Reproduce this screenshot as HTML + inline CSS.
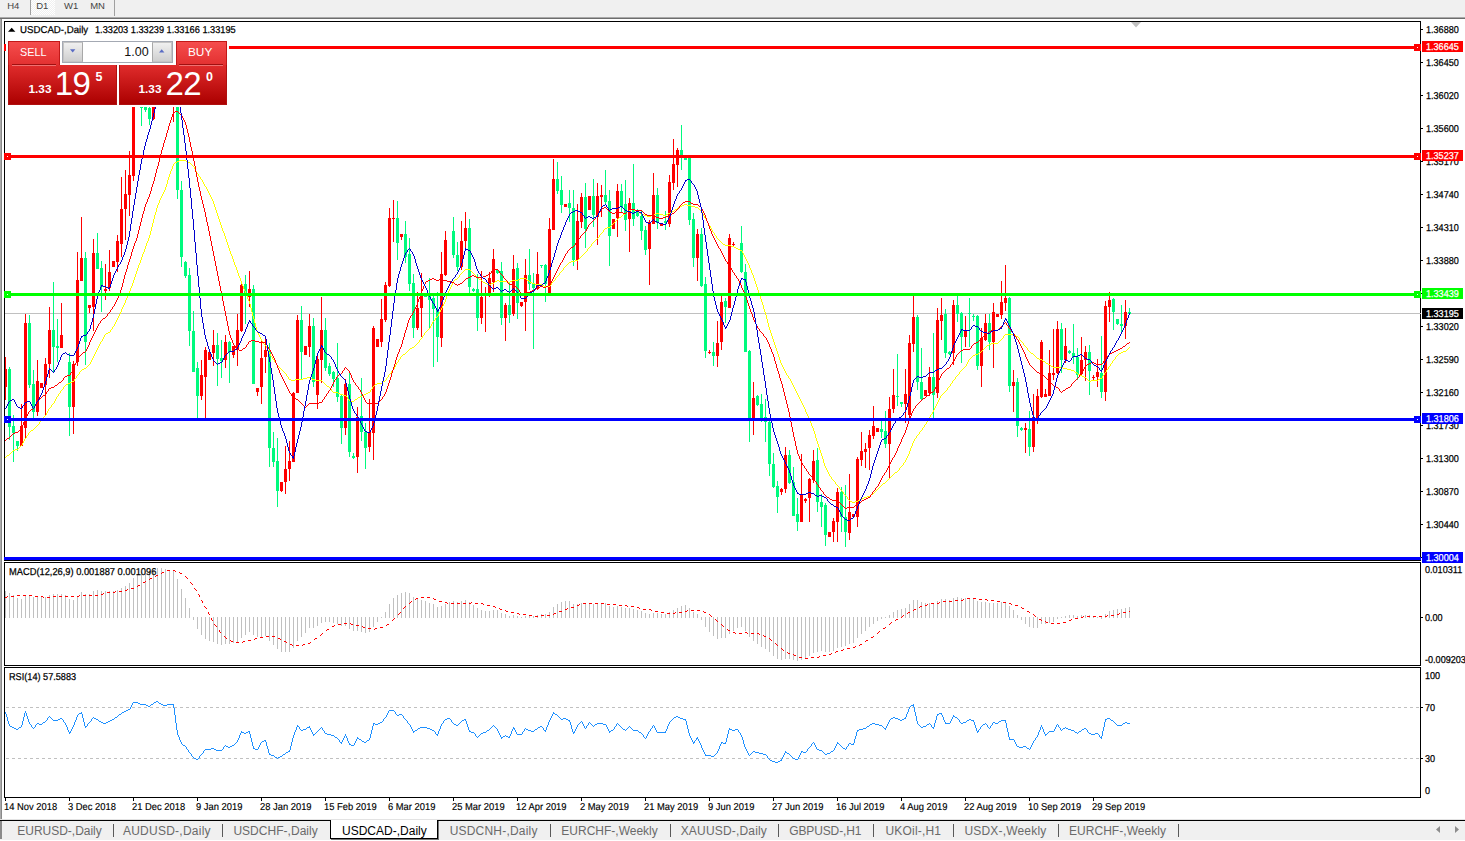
<!DOCTYPE html>
<html><head><meta charset="utf-8"><title>USDCAD-,Daily</title>
<style>
html,body{margin:0;padding:0;}
body{width:1465px;height:841px;overflow:hidden;background:#fff;position:relative;font-family:"Liberation Sans",sans-serif;color:#000;}
.a{position:absolute;}
.t{position:absolute;white-space:pre;line-height:1;}
.ax{position:absolute;white-space:pre;line-height:1;font-size:9.15px;left:1426.2px;-webkit-text-stroke:0.2px #000;}
.dt{position:absolute;white-space:pre;line-height:1;font-size:9.3px;top:802.6px;-webkit-text-stroke:0.2px #000;}
.tab{position:absolute;white-space:pre;line-height:1;font-size:12px;top:824.6px;color:#6a6a6a;}
.sep{position:absolute;top:824px;width:1px;height:13px;background:#5a5a5a;}
.pl{position:absolute;white-space:pre;line-height:1;font-size:9.15px;color:#fff;left:1426.2px;-webkit-text-stroke:0.2px #fff;}
</style></head><body>
<div class="a" style="left:0;top:0;width:1465px;height:17px;background:#f0f0f0"></div><div class="a" style="left:0;top:17px;width:1465px;height:1px;background:#a9a9a9"></div><div class="a" style="left:0;top:18px;width:1465px;height:1px;background:#6d6d6d"></div><div class="a" style="left:30px;top:0;width:1px;height:15px;background:#a0a0a0"></div><div class="a" style="left:31px;top:0;width:24px;height:15px;background:repeating-conic-gradient(#ffffff 0 25%,#f0f0f0 0 50%) 0 0/2px 2px"></div><div class="a" style="left:114px;top:0;width:1px;height:16px;background:#a0a0a0"></div><div class="t" style="left:7.2px;top:1px;font-size:9.5px;color:#444">H4</div><div class="t" style="left:36.2px;top:1px;font-size:9.5px;color:#444">D1</div><div class="t" style="left:64px;top:1px;font-size:9.5px;color:#444">W1</div><div class="t" style="left:90.2px;top:1px;font-size:9.5px;color:#444">MN</div><div class="a" style="left:0;top:19px;width:1px;height:800px;background:#ababab"></div><div class="a" style="left:1px;top:19px;width:1px;height:800px;background:#8a8a8a"></div><div class="a" style="left:0;top:819px;width:1465px;height:1px;background:#e3e3e3"></div><div class="a" style="left:0;top:820px;width:1465px;height:1px;background:#000"></div><div class="a" style="left:0;top:821px;width:1465px;height:19px;background:#f0f0f0"></div><div class="a" style="left:0;top:821px;width:2px;height:18px;background:#8a8a8a"></div><div class="a" style="left:330px;top:820px;width:106px;height:18px;background:#fff;border:1px solid #000;border-top:none;box-shadow:1px 1px 0 #777"></div><div class="tab" style="left:17.3px;letter-spacing:-0.02px">EURUSD-,Daily</div><div class="tab" style="left:122.9px;letter-spacing:0.255px">AUDUSD-,Daily</div><div class="tab" style="left:233.4px;letter-spacing:0.03px">USDCHF-,Daily</div><div class="tab" style="left:342px;letter-spacing:0.01px;color:#000">USDCAD-,Daily</div><div class="tab" style="left:449.7px;letter-spacing:0.2px">USDCNH-,Daily</div><div class="tab" style="left:561.3px;letter-spacing:0px">EURCHF-,Weekly</div><div class="tab" style="left:680.7px;letter-spacing:0.18px">XAUUSD-,Daily</div><div class="tab" style="left:789.2px;letter-spacing:-0.12px">GBPUSD-,H1</div><div class="tab" style="left:885.5px;letter-spacing:0.19px">UKOil-,H1</div><div class="tab" style="left:964.5px;letter-spacing:0.175px">USDX-,Weekly</div><div class="tab" style="left:1069px;letter-spacing:0.04px">EURCHF-,Weekly</div><div class="sep" style="left:113px"></div><div class="sep" style="left:222px"></div><div class="sep" style="left:550px"></div><div class="sep" style="left:670px"></div><div class="sep" style="left:778px"></div><div class="sep" style="left:873px"></div><div class="sep" style="left:953px"></div><div class="sep" style="left:1058px"></div><div class="sep" style="left:1178px"></div>
<svg class="a" style="left:0;top:0" width="1465" height="841" viewBox="0 0 1465 841" shape-rendering="crispEdges"><polygon points="1436,829.5 1440,826 1440,833" fill="#8c8c8c" shape-rendering="auto"/><polygon points="1459,829.5 1455,826 1455,833" fill="#8c8c8c" shape-rendering="auto"/><rect x="5" y="313" width="1415" height="1" fill="#c0c0c0"/><clipPath id="cm"><rect x="5" y="22" width="1415" height="538"/></clipPath><g clip-path="url(#cm)"><rect x="5" y="357" width="1" height="43" fill="#ff0000"/><rect x="4" y="369" width="3" height="18" fill="#ff0000"/><rect x="9" y="367" width="1" height="73" fill="#00fa7e"/><rect x="8" y="369" width="3" height="58" fill="#00fa7e"/><rect x="13" y="415" width="1" height="47" fill="#00fa7e"/><rect x="12" y="426" width="3" height="7" fill="#00fa7e"/><rect x="17" y="441" width="1" height="10" fill="#00fa7e"/><rect x="16" y="441" width="3" height="5" fill="#00fa7e"/><rect x="21" y="404" width="1" height="42" fill="#ff0000"/><rect x="20" y="426" width="3" height="20" fill="#ff0000"/><rect x="25" y="314" width="1" height="125" fill="#ff0000"/><rect x="24" y="323" width="3" height="105" fill="#ff0000"/><rect x="29" y="315" width="1" height="73" fill="#00fa7e"/><rect x="28" y="323" width="3" height="62" fill="#00fa7e"/><rect x="33" y="370" width="1" height="48" fill="#00fa7e"/><rect x="32" y="384" width="3" height="28" fill="#00fa7e"/><rect x="37" y="360" width="1" height="56" fill="#ff0000"/><rect x="36" y="381" width="3" height="31" fill="#ff0000"/><rect x="41" y="383" width="1" height="5" fill="#ff0000"/><rect x="40" y="383" width="3" height="5" fill="#ff0000"/><rect x="45" y="358" width="1" height="58" fill="#ff0000"/><rect x="44" y="364" width="3" height="21" fill="#ff0000"/><rect x="49" y="307" width="1" height="71" fill="#ff0000"/><rect x="48" y="330" width="3" height="34" fill="#ff0000"/><rect x="53" y="282" width="1" height="91" fill="#00fa7e"/><rect x="52" y="330" width="3" height="17" fill="#00fa7e"/><rect x="57" y="319" width="1" height="43" fill="#00fa7e"/><rect x="56" y="346" width="3" height="2" fill="#00fa7e"/><rect x="61" y="303" width="1" height="45" fill="#ff0000"/><rect x="60" y="335" width="3" height="13" fill="#ff0000"/><rect x="69" y="353" width="1" height="83" fill="#00fa7e"/><rect x="68" y="362" width="3" height="45" fill="#00fa7e"/><rect x="73" y="361" width="1" height="73" fill="#ff0000"/><rect x="72" y="364" width="3" height="43" fill="#ff0000"/><rect x="77" y="252" width="1" height="114" fill="#ff0000"/><rect x="76" y="280" width="3" height="82" fill="#ff0000"/><rect x="81" y="217" width="1" height="64" fill="#ff0000"/><rect x="80" y="258" width="3" height="23" fill="#ff0000"/><rect x="85" y="252" width="1" height="113" fill="#00fa7e"/><rect x="84" y="258" width="3" height="84" fill="#00fa7e"/><rect x="89" y="305" width="1" height="8" fill="#ff0000"/><rect x="88" y="305" width="3" height="3" fill="#ff0000"/><rect x="93" y="239" width="1" height="92" fill="#ff0000"/><rect x="92" y="253" width="3" height="54" fill="#ff0000"/><rect x="97" y="233" width="1" height="36" fill="#00fa7e"/><rect x="96" y="253" width="3" height="16" fill="#00fa7e"/><rect x="101" y="261" width="1" height="51" fill="#00fa7e"/><rect x="100" y="268" width="3" height="19" fill="#00fa7e"/><rect x="105" y="264" width="1" height="36" fill="#ff0000"/><rect x="104" y="289" width="3" height="2" fill="#ff0000"/><rect x="109" y="250" width="1" height="41" fill="#ff0000"/><rect x="108" y="272" width="3" height="16" fill="#ff0000"/><rect x="113" y="261" width="1" height="6" fill="#ff0000"/><rect x="112" y="261" width="3" height="6" fill="#ff0000"/><rect x="117" y="235" width="1" height="37" fill="#ff0000"/><rect x="116" y="241" width="3" height="21" fill="#ff0000"/><rect x="121" y="177" width="1" height="80" fill="#ff0000"/><rect x="120" y="209" width="3" height="35" fill="#ff0000"/><rect x="125" y="170" width="1" height="70" fill="#ff0000"/><rect x="124" y="194" width="3" height="15" fill="#ff0000"/><rect x="129" y="151" width="1" height="65" fill="#ff0000"/><rect x="128" y="175" width="3" height="20" fill="#ff0000"/><rect x="133" y="90" width="1" height="91" fill="#ff0000"/><rect x="132" y="100" width="3" height="76" fill="#ff0000"/><rect x="137" y="99" width="1" height="5" fill="#00fa7e"/><rect x="136" y="100" width="3" height="3" fill="#00fa7e"/><rect x="141" y="85" width="1" height="41" fill="#00fa7e"/><rect x="140" y="101" width="3" height="7" fill="#00fa7e"/><rect x="145" y="100" width="1" height="12" fill="#00fa7e"/><rect x="144" y="106" width="3" height="4" fill="#00fa7e"/><rect x="149" y="95" width="1" height="30" fill="#00fa7e"/><rect x="148" y="108" width="3" height="11" fill="#00fa7e"/><rect x="153" y="79" width="1" height="41" fill="#ff0000"/><rect x="152" y="86" width="3" height="33" fill="#ff0000"/><rect x="157" y="59" width="1" height="30" fill="#ff0000"/><rect x="156" y="66" width="3" height="20" fill="#ff0000"/><rect x="161" y="64" width="1" height="13" fill="#00fa7e"/><rect x="160" y="67" width="3" height="9" fill="#00fa7e"/><rect x="165" y="64" width="1" height="20" fill="#00fa7e"/><rect x="164" y="76" width="3" height="4" fill="#00fa7e"/><rect x="169" y="59" width="1" height="23" fill="#ff0000"/><rect x="168" y="72" width="3" height="8" fill="#ff0000"/><rect x="173" y="62" width="1" height="60" fill="#ff0000"/><rect x="172" y="71" width="3" height="2" fill="#ff0000"/><rect x="177" y="66" width="1" height="133" fill="#00fa7e"/><rect x="176" y="72" width="3" height="118" fill="#00fa7e"/><rect x="181" y="181" width="1" height="86" fill="#00fa7e"/><rect x="180" y="190" width="3" height="67" fill="#00fa7e"/><rect x="185" y="261" width="1" height="17" fill="#00fa7e"/><rect x="184" y="262" width="3" height="14" fill="#00fa7e"/><rect x="189" y="268" width="1" height="78" fill="#00fa7e"/><rect x="188" y="275" width="3" height="56" fill="#00fa7e"/><rect x="193" y="311" width="1" height="61" fill="#00fa7e"/><rect x="192" y="331" width="3" height="41" fill="#00fa7e"/><rect x="197" y="362" width="1" height="56" fill="#00fa7e"/><rect x="196" y="368" width="3" height="28" fill="#00fa7e"/><rect x="201" y="360" width="1" height="40" fill="#ff0000"/><rect x="200" y="375" width="3" height="21" fill="#ff0000"/><rect x="205" y="347" width="1" height="71" fill="#ff0000"/><rect x="204" y="350" width="3" height="27" fill="#ff0000"/><rect x="209" y="352" width="1" height="8" fill="#ff0000"/><rect x="208" y="352" width="3" height="8" fill="#ff0000"/><rect x="213" y="330" width="1" height="36" fill="#ff0000"/><rect x="212" y="345" width="3" height="8" fill="#ff0000"/><rect x="217" y="333" width="1" height="53" fill="#00fa7e"/><rect x="216" y="345" width="3" height="14" fill="#00fa7e"/><rect x="221" y="340" width="1" height="38" fill="#00fa7e"/><rect x="220" y="358" width="3" height="3" fill="#00fa7e"/><rect x="225" y="335" width="1" height="33" fill="#ff0000"/><rect x="224" y="342" width="3" height="18" fill="#ff0000"/><rect x="229" y="341" width="1" height="42" fill="#00fa7e"/><rect x="228" y="342" width="3" height="10" fill="#00fa7e"/><rect x="233" y="346" width="1" height="12" fill="#ff0000"/><rect x="232" y="346" width="3" height="9" fill="#ff0000"/><rect x="237" y="314" width="1" height="52" fill="#ff0000"/><rect x="236" y="330" width="3" height="19" fill="#ff0000"/><rect x="241" y="284" width="1" height="48" fill="#ff0000"/><rect x="240" y="285" width="3" height="46" fill="#ff0000"/><rect x="245" y="275" width="1" height="49" fill="#00fa7e"/><rect x="244" y="284" width="3" height="12" fill="#00fa7e"/><rect x="249" y="271" width="1" height="36" fill="#ff0000"/><rect x="248" y="289" width="3" height="8" fill="#ff0000"/><rect x="253" y="285" width="1" height="99" fill="#00fa7e"/><rect x="252" y="289" width="3" height="95" fill="#00fa7e"/><rect x="257" y="388" width="1" height="8" fill="#ff0000"/><rect x="256" y="388" width="3" height="4" fill="#ff0000"/><rect x="261" y="341" width="1" height="63" fill="#ff0000"/><rect x="260" y="358" width="3" height="29" fill="#ff0000"/><rect x="265" y="338" width="1" height="35" fill="#ff0000"/><rect x="264" y="350" width="3" height="7" fill="#ff0000"/><rect x="269" y="343" width="1" height="124" fill="#00fa7e"/><rect x="268" y="350" width="3" height="98" fill="#00fa7e"/><rect x="273" y="432" width="1" height="35" fill="#00fa7e"/><rect x="272" y="448" width="3" height="14" fill="#00fa7e"/><rect x="277" y="438" width="1" height="69" fill="#00fa7e"/><rect x="276" y="461" width="3" height="30" fill="#00fa7e"/><rect x="281" y="482" width="1" height="10" fill="#ff0000"/><rect x="280" y="482" width="3" height="9" fill="#ff0000"/><rect x="285" y="446" width="1" height="48" fill="#ff0000"/><rect x="284" y="469" width="3" height="13" fill="#ff0000"/><rect x="289" y="441" width="1" height="40" fill="#ff0000"/><rect x="288" y="461" width="3" height="8" fill="#ff0000"/><rect x="293" y="392" width="1" height="70" fill="#ff0000"/><rect x="292" y="393" width="3" height="69" fill="#ff0000"/><rect x="297" y="315" width="1" height="78" fill="#ff0000"/><rect x="296" y="320" width="3" height="73" fill="#ff0000"/><rect x="301" y="306" width="1" height="74" fill="#00fa7e"/><rect x="300" y="320" width="3" height="32" fill="#00fa7e"/><rect x="305" y="346" width="1" height="9" fill="#ff0000"/><rect x="304" y="346" width="3" height="9" fill="#ff0000"/><rect x="309" y="314" width="1" height="43" fill="#ff0000"/><rect x="308" y="326" width="3" height="21" fill="#ff0000"/><rect x="313" y="318" width="1" height="69" fill="#00fa7e"/><rect x="312" y="326" width="3" height="56" fill="#00fa7e"/><rect x="317" y="356" width="1" height="53" fill="#ff0000"/><rect x="316" y="359" width="3" height="36" fill="#ff0000"/><rect x="321" y="297" width="1" height="86" fill="#ff0000"/><rect x="320" y="330" width="3" height="30" fill="#ff0000"/><rect x="325" y="318" width="1" height="53" fill="#00fa7e"/><rect x="324" y="330" width="3" height="38" fill="#00fa7e"/><rect x="329" y="363" width="1" height="13" fill="#00fa7e"/><rect x="328" y="366" width="3" height="8" fill="#00fa7e"/><rect x="333" y="371" width="1" height="16" fill="#00fa7e"/><rect x="332" y="372" width="3" height="7" fill="#00fa7e"/><rect x="337" y="343" width="1" height="59" fill="#00fa7e"/><rect x="336" y="378" width="3" height="19" fill="#00fa7e"/><rect x="341" y="394" width="1" height="50" fill="#00fa7e"/><rect x="340" y="396" width="3" height="32" fill="#00fa7e"/><rect x="345" y="379" width="1" height="56" fill="#ff0000"/><rect x="344" y="384" width="3" height="44" fill="#ff0000"/><rect x="349" y="373" width="1" height="84" fill="#00fa7e"/><rect x="348" y="384" width="3" height="68" fill="#00fa7e"/><rect x="353" y="453" width="1" height="6" fill="#00fa7e"/><rect x="352" y="456" width="3" height="2" fill="#00fa7e"/><rect x="357" y="407" width="1" height="66" fill="#ff0000"/><rect x="356" y="417" width="3" height="40" fill="#ff0000"/><rect x="361" y="378" width="1" height="63" fill="#00fa7e"/><rect x="360" y="416" width="3" height="16" fill="#00fa7e"/><rect x="365" y="423" width="1" height="46" fill="#00fa7e"/><rect x="364" y="432" width="3" height="16" fill="#00fa7e"/><rect x="369" y="399" width="1" height="53" fill="#ff0000"/><rect x="368" y="432" width="3" height="15" fill="#ff0000"/><rect x="373" y="326" width="1" height="134" fill="#ff0000"/><rect x="372" y="328" width="3" height="105" fill="#ff0000"/><rect x="377" y="339" width="1" height="8" fill="#ff0000"/><rect x="376" y="339" width="3" height="8" fill="#ff0000"/><rect x="381" y="299" width="1" height="48" fill="#ff0000"/><rect x="380" y="319" width="3" height="23" fill="#ff0000"/><rect x="385" y="282" width="1" height="40" fill="#ff0000"/><rect x="384" y="285" width="3" height="35" fill="#ff0000"/><rect x="389" y="208" width="1" height="79" fill="#ff0000"/><rect x="388" y="218" width="3" height="68" fill="#ff0000"/><rect x="393" y="200" width="1" height="42" fill="#ff0000"/><rect x="392" y="218" width="3" height="1" fill="#ff0000"/><rect x="397" y="201" width="1" height="59" fill="#00fa7e"/><rect x="396" y="218" width="3" height="25" fill="#00fa7e"/><rect x="401" y="234" width="1" height="6" fill="#ff0000"/><rect x="400" y="234" width="3" height="3" fill="#ff0000"/><rect x="405" y="221" width="1" height="42" fill="#00fa7e"/><rect x="404" y="234" width="3" height="23" fill="#00fa7e"/><rect x="409" y="238" width="1" height="53" fill="#00fa7e"/><rect x="408" y="254" width="3" height="30" fill="#00fa7e"/><rect x="413" y="274" width="1" height="64" fill="#00fa7e"/><rect x="412" y="283" width="3" height="45" fill="#00fa7e"/><rect x="417" y="292" width="1" height="38" fill="#ff0000"/><rect x="416" y="308" width="3" height="20" fill="#ff0000"/><rect x="421" y="273" width="1" height="64" fill="#ff0000"/><rect x="420" y="296" width="3" height="12" fill="#ff0000"/><rect x="425" y="295" width="1" height="2" fill="#00fa7e"/><rect x="424" y="295" width="3" height="2" fill="#00fa7e"/><rect x="429" y="278" width="1" height="50" fill="#00fa7e"/><rect x="428" y="295" width="3" height="5" fill="#00fa7e"/><rect x="433" y="296" width="1" height="71" fill="#00fa7e"/><rect x="432" y="298" width="3" height="11" fill="#00fa7e"/><rect x="437" y="292" width="1" height="70" fill="#00fa7e"/><rect x="436" y="309" width="3" height="28" fill="#00fa7e"/><rect x="441" y="252" width="1" height="95" fill="#ff0000"/><rect x="440" y="274" width="3" height="64" fill="#ff0000"/><rect x="445" y="231" width="1" height="45" fill="#ff0000"/><rect x="444" y="240" width="3" height="35" fill="#ff0000"/><rect x="453" y="217" width="1" height="41" fill="#00fa7e"/><rect x="452" y="231" width="3" height="24" fill="#00fa7e"/><rect x="457" y="242" width="1" height="29" fill="#00fa7e"/><rect x="456" y="255" width="3" height="12" fill="#00fa7e"/><rect x="461" y="221" width="1" height="49" fill="#ff0000"/><rect x="460" y="241" width="3" height="26" fill="#ff0000"/><rect x="465" y="212" width="1" height="36" fill="#ff0000"/><rect x="464" y="228" width="3" height="13" fill="#ff0000"/><rect x="469" y="219" width="1" height="77" fill="#00fa7e"/><rect x="468" y="228" width="3" height="59" fill="#00fa7e"/><rect x="473" y="288" width="1" height="4" fill="#00fa7e"/><rect x="472" y="289" width="3" height="2" fill="#00fa7e"/><rect x="477" y="274" width="1" height="57" fill="#00fa7e"/><rect x="476" y="289" width="3" height="29" fill="#00fa7e"/><rect x="481" y="271" width="1" height="53" fill="#ff0000"/><rect x="480" y="297" width="3" height="21" fill="#ff0000"/><rect x="485" y="287" width="1" height="45" fill="#ff0000"/><rect x="484" y="293" width="3" height="3" fill="#ff0000"/><rect x="489" y="272" width="1" height="25" fill="#ff0000"/><rect x="488" y="278" width="3" height="15" fill="#ff0000"/><rect x="493" y="249" width="1" height="43" fill="#ff0000"/><rect x="492" y="259" width="3" height="23" fill="#ff0000"/><rect x="497" y="269" width="1" height="5" fill="#00fa7e"/><rect x="496" y="270" width="3" height="3" fill="#00fa7e"/><rect x="501" y="262" width="1" height="63" fill="#00fa7e"/><rect x="500" y="271" width="3" height="47" fill="#00fa7e"/><rect x="505" y="303" width="1" height="38" fill="#ff0000"/><rect x="504" y="305" width="3" height="13" fill="#ff0000"/><rect x="509" y="282" width="1" height="41" fill="#00fa7e"/><rect x="508" y="305" width="3" height="10" fill="#00fa7e"/><rect x="513" y="255" width="1" height="61" fill="#ff0000"/><rect x="512" y="269" width="3" height="45" fill="#ff0000"/><rect x="517" y="263" width="1" height="56" fill="#00fa7e"/><rect x="516" y="268" width="3" height="35" fill="#00fa7e"/><rect x="521" y="302" width="1" height="5" fill="#ff0000"/><rect x="520" y="302" width="3" height="4" fill="#ff0000"/><rect x="525" y="259" width="1" height="72" fill="#ff0000"/><rect x="524" y="275" width="3" height="27" fill="#ff0000"/><rect x="529" y="249" width="1" height="41" fill="#00fa7e"/><rect x="528" y="275" width="3" height="9" fill="#00fa7e"/><rect x="533" y="273" width="1" height="76" fill="#00fa7e"/><rect x="532" y="284" width="3" height="4" fill="#00fa7e"/><rect x="537" y="252" width="1" height="38" fill="#ff0000"/><rect x="536" y="274" width="3" height="15" fill="#ff0000"/><rect x="541" y="265" width="1" height="3" fill="#00fa7e"/><rect x="540" y="265" width="3" height="1" fill="#00fa7e"/><rect x="545" y="264" width="1" height="38" fill="#00fa7e"/><rect x="544" y="265" width="3" height="19" fill="#00fa7e"/><rect x="549" y="218" width="1" height="76" fill="#ff0000"/><rect x="548" y="229" width="3" height="64" fill="#ff0000"/><rect x="553" y="159" width="1" height="71" fill="#ff0000"/><rect x="552" y="179" width="3" height="51" fill="#ff0000"/><rect x="557" y="162" width="1" height="32" fill="#00fa7e"/><rect x="556" y="179" width="3" height="12" fill="#00fa7e"/><rect x="561" y="176" width="1" height="37" fill="#00fa7e"/><rect x="560" y="190" width="3" height="15" fill="#00fa7e"/><rect x="565" y="204" width="1" height="3" fill="#ff0000"/><rect x="564" y="204" width="3" height="3" fill="#ff0000"/><rect x="569" y="190" width="1" height="32" fill="#00fa7e"/><rect x="568" y="203" width="3" height="5" fill="#00fa7e"/><rect x="573" y="190" width="1" height="76" fill="#00fa7e"/><rect x="572" y="208" width="3" height="52" fill="#00fa7e"/><rect x="577" y="204" width="1" height="66" fill="#ff0000"/><rect x="576" y="221" width="3" height="39" fill="#ff0000"/><rect x="581" y="193" width="1" height="35" fill="#ff0000"/><rect x="580" y="197" width="3" height="25" fill="#ff0000"/><rect x="585" y="183" width="1" height="65" fill="#00fa7e"/><rect x="584" y="197" width="3" height="32" fill="#00fa7e"/><rect x="589" y="196" width="1" height="14" fill="#ff0000"/><rect x="588" y="196" width="3" height="14" fill="#ff0000"/><rect x="593" y="179" width="1" height="48" fill="#00fa7e"/><rect x="592" y="196" width="3" height="19" fill="#00fa7e"/><rect x="597" y="183" width="1" height="62" fill="#ff0000"/><rect x="596" y="196" width="3" height="21" fill="#ff0000"/><rect x="601" y="185" width="1" height="32" fill="#ff0000"/><rect x="600" y="195" width="3" height="2" fill="#ff0000"/><rect x="605" y="170" width="1" height="35" fill="#00fa7e"/><rect x="604" y="195" width="3" height="7" fill="#00fa7e"/><rect x="609" y="190" width="1" height="76" fill="#00fa7e"/><rect x="608" y="201" width="3" height="35" fill="#00fa7e"/><rect x="613" y="219" width="1" height="10" fill="#ff0000"/><rect x="612" y="219" width="3" height="10" fill="#ff0000"/><rect x="617" y="184" width="1" height="53" fill="#ff0000"/><rect x="616" y="191" width="3" height="27" fill="#ff0000"/><rect x="621" y="184" width="1" height="29" fill="#00fa7e"/><rect x="620" y="191" width="3" height="16" fill="#00fa7e"/><rect x="625" y="180" width="1" height="51" fill="#00fa7e"/><rect x="624" y="204" width="3" height="16" fill="#00fa7e"/><rect x="629" y="198" width="1" height="54" fill="#ff0000"/><rect x="628" y="203" width="3" height="16" fill="#ff0000"/><rect x="633" y="164" width="1" height="62" fill="#00fa7e"/><rect x="632" y="203" width="3" height="16" fill="#00fa7e"/><rect x="637" y="209" width="1" height="8" fill="#00fa7e"/><rect x="636" y="210" width="3" height="6" fill="#00fa7e"/><rect x="641" y="210" width="1" height="30" fill="#00fa7e"/><rect x="640" y="216" width="3" height="15" fill="#00fa7e"/><rect x="645" y="226" width="1" height="29" fill="#00fa7e"/><rect x="644" y="230" width="3" height="20" fill="#00fa7e"/><rect x="649" y="220" width="1" height="65" fill="#ff0000"/><rect x="648" y="222" width="3" height="27" fill="#ff0000"/><rect x="653" y="173" width="1" height="51" fill="#ff0000"/><rect x="652" y="195" width="3" height="29" fill="#ff0000"/><rect x="657" y="188" width="1" height="41" fill="#00fa7e"/><rect x="656" y="195" width="3" height="28" fill="#00fa7e"/><rect x="661" y="223" width="1" height="3" fill="#ff0000"/><rect x="660" y="223" width="3" height="3" fill="#ff0000"/><rect x="665" y="211" width="1" height="19" fill="#00fa7e"/><rect x="664" y="221" width="3" height="2" fill="#00fa7e"/><rect x="669" y="175" width="1" height="52" fill="#ff0000"/><rect x="668" y="182" width="3" height="42" fill="#ff0000"/><rect x="673" y="139" width="1" height="51" fill="#ff0000"/><rect x="672" y="164" width="3" height="19" fill="#ff0000"/><rect x="677" y="148" width="1" height="39" fill="#ff0000"/><rect x="676" y="150" width="3" height="15" fill="#ff0000"/><rect x="681" y="125" width="1" height="45" fill="#00fa7e"/><rect x="680" y="150" width="3" height="6" fill="#00fa7e"/><rect x="685" y="158" width="1" height="2" fill="#00fa7e"/><rect x="684" y="158" width="3" height="2" fill="#00fa7e"/><rect x="689" y="155" width="1" height="70" fill="#00fa7e"/><rect x="688" y="158" width="3" height="62" fill="#00fa7e"/><rect x="693" y="213" width="1" height="54" fill="#00fa7e"/><rect x="692" y="219" width="3" height="39" fill="#00fa7e"/><rect x="697" y="229" width="1" height="52" fill="#ff0000"/><rect x="696" y="234" width="3" height="24" fill="#ff0000"/><rect x="701" y="228" width="1" height="59" fill="#00fa7e"/><rect x="700" y="234" width="3" height="52" fill="#00fa7e"/><rect x="705" y="277" width="1" height="81" fill="#00fa7e"/><rect x="704" y="284" width="3" height="67" fill="#00fa7e"/><rect x="709" y="350" width="1" height="4" fill="#ff0000"/><rect x="708" y="352" width="3" height="1" fill="#ff0000"/><rect x="713" y="342" width="1" height="24" fill="#00fa7e"/><rect x="712" y="352" width="3" height="4" fill="#00fa7e"/><rect x="717" y="321" width="1" height="46" fill="#ff0000"/><rect x="716" y="343" width="3" height="13" fill="#ff0000"/><rect x="721" y="296" width="1" height="54" fill="#ff0000"/><rect x="720" y="302" width="3" height="40" fill="#ff0000"/><rect x="725" y="298" width="1" height="25" fill="#00fa7e"/><rect x="724" y="301" width="3" height="6" fill="#00fa7e"/><rect x="729" y="234" width="1" height="74" fill="#ff0000"/><rect x="728" y="238" width="3" height="70" fill="#ff0000"/><rect x="733" y="242" width="1" height="5" fill="#ff0000"/><rect x="732" y="244" width="3" height="1" fill="#ff0000"/><rect x="741" y="226" width="1" height="47" fill="#00fa7e"/><rect x="740" y="243" width="3" height="29" fill="#00fa7e"/><rect x="745" y="264" width="1" height="88" fill="#00fa7e"/><rect x="744" y="272" width="3" height="80" fill="#00fa7e"/><rect x="749" y="350" width="1" height="92" fill="#00fa7e"/><rect x="748" y="351" width="3" height="67" fill="#00fa7e"/><rect x="753" y="382" width="1" height="53" fill="#ff0000"/><rect x="752" y="398" width="3" height="20" fill="#ff0000"/><rect x="757" y="395" width="1" height="11" fill="#00fa7e"/><rect x="756" y="396" width="3" height="9" fill="#00fa7e"/><rect x="761" y="394" width="1" height="28" fill="#00fa7e"/><rect x="760" y="404" width="3" height="14" fill="#00fa7e"/><rect x="765" y="399" width="1" height="43" fill="#00fa7e"/><rect x="764" y="417" width="3" height="5" fill="#00fa7e"/><rect x="769" y="419" width="1" height="57" fill="#00fa7e"/><rect x="768" y="422" width="3" height="42" fill="#00fa7e"/><rect x="773" y="453" width="1" height="35" fill="#00fa7e"/><rect x="772" y="464" width="3" height="23" fill="#00fa7e"/><rect x="777" y="481" width="1" height="32" fill="#00fa7e"/><rect x="776" y="486" width="3" height="11" fill="#00fa7e"/><rect x="781" y="488" width="1" height="7" fill="#ff0000"/><rect x="780" y="489" width="3" height="3" fill="#ff0000"/><rect x="785" y="447" width="1" height="46" fill="#ff0000"/><rect x="784" y="455" width="3" height="34" fill="#ff0000"/><rect x="789" y="450" width="1" height="34" fill="#00fa7e"/><rect x="788" y="455" width="3" height="28" fill="#00fa7e"/><rect x="793" y="467" width="1" height="49" fill="#00fa7e"/><rect x="792" y="482" width="3" height="34" fill="#00fa7e"/><rect x="797" y="498" width="1" height="33" fill="#00fa7e"/><rect x="796" y="514" width="3" height="8" fill="#00fa7e"/><rect x="801" y="454" width="1" height="68" fill="#ff0000"/><rect x="800" y="494" width="3" height="28" fill="#ff0000"/><rect x="805" y="498" width="1" height="5" fill="#ff0000"/><rect x="804" y="499" width="3" height="2" fill="#ff0000"/><rect x="809" y="478" width="1" height="44" fill="#ff0000"/><rect x="808" y="479" width="3" height="19" fill="#ff0000"/><rect x="813" y="450" width="1" height="33" fill="#ff0000"/><rect x="812" y="461" width="3" height="19" fill="#ff0000"/><rect x="817" y="448" width="1" height="64" fill="#00fa7e"/><rect x="816" y="460" width="3" height="42" fill="#00fa7e"/><rect x="821" y="494" width="1" height="33" fill="#00fa7e"/><rect x="820" y="502" width="3" height="5" fill="#00fa7e"/><rect x="825" y="503" width="1" height="43" fill="#00fa7e"/><rect x="824" y="505" width="3" height="30" fill="#00fa7e"/><rect x="829" y="532" width="1" height="5" fill="#ff0000"/><rect x="828" y="532" width="3" height="5" fill="#ff0000"/><rect x="833" y="518" width="1" height="24" fill="#ff0000"/><rect x="832" y="521" width="3" height="11" fill="#ff0000"/><rect x="837" y="488" width="1" height="54" fill="#ff0000"/><rect x="836" y="492" width="3" height="30" fill="#ff0000"/><rect x="841" y="487" width="1" height="45" fill="#00fa7e"/><rect x="840" y="492" width="3" height="25" fill="#00fa7e"/><rect x="845" y="485" width="1" height="62" fill="#00fa7e"/><rect x="844" y="517" width="3" height="15" fill="#00fa7e"/><rect x="849" y="474" width="1" height="66" fill="#ff0000"/><rect x="848" y="512" width="3" height="21" fill="#ff0000"/><rect x="853" y="514" width="1" height="3" fill="#ff0000"/><rect x="852" y="514" width="3" height="3" fill="#ff0000"/><rect x="857" y="457" width="1" height="70" fill="#ff0000"/><rect x="856" y="459" width="3" height="58" fill="#ff0000"/><rect x="861" y="432" width="1" height="34" fill="#ff0000"/><rect x="860" y="451" width="3" height="9" fill="#ff0000"/><rect x="865" y="443" width="1" height="25" fill="#ff0000"/><rect x="864" y="449" width="3" height="3" fill="#ff0000"/><rect x="869" y="430" width="1" height="40" fill="#ff0000"/><rect x="868" y="435" width="3" height="13" fill="#ff0000"/><rect x="873" y="406" width="1" height="33" fill="#ff0000"/><rect x="872" y="426" width="3" height="10" fill="#ff0000"/><rect x="877" y="428" width="1" height="4" fill="#ff0000"/><rect x="876" y="428" width="3" height="4" fill="#ff0000"/><rect x="881" y="421" width="1" height="17" fill="#00fa7e"/><rect x="880" y="429" width="3" height="3" fill="#00fa7e"/><rect x="885" y="411" width="1" height="37" fill="#00fa7e"/><rect x="884" y="431" width="3" height="13" fill="#00fa7e"/><rect x="889" y="397" width="1" height="81" fill="#ff0000"/><rect x="888" y="409" width="3" height="35" fill="#ff0000"/><rect x="893" y="369" width="1" height="44" fill="#ff0000"/><rect x="892" y="395" width="3" height="14" fill="#ff0000"/><rect x="897" y="354" width="1" height="52" fill="#00fa7e"/><rect x="896" y="396" width="3" height="1" fill="#00fa7e"/><rect x="901" y="402" width="1" height="5" fill="#00fa7e"/><rect x="900" y="402" width="3" height="2" fill="#00fa7e"/><rect x="905" y="369" width="1" height="54" fill="#ff0000"/><rect x="904" y="394" width="3" height="10" fill="#ff0000"/><rect x="909" y="335" width="1" height="85" fill="#ff0000"/><rect x="908" y="343" width="3" height="72" fill="#ff0000"/><rect x="913" y="296" width="1" height="56" fill="#ff0000"/><rect x="912" y="317" width="3" height="27" fill="#ff0000"/><rect x="917" y="315" width="1" height="75" fill="#00fa7e"/><rect x="916" y="317" width="3" height="65" fill="#00fa7e"/><rect x="921" y="348" width="1" height="52" fill="#00fa7e"/><rect x="920" y="382" width="3" height="17" fill="#00fa7e"/><rect x="925" y="390" width="1" height="6" fill="#ff0000"/><rect x="924" y="390" width="3" height="6" fill="#ff0000"/><rect x="929" y="367" width="1" height="29" fill="#ff0000"/><rect x="928" y="377" width="3" height="16" fill="#ff0000"/><rect x="933" y="333" width="1" height="86" fill="#00fa7e"/><rect x="932" y="377" width="3" height="18" fill="#00fa7e"/><rect x="937" y="308" width="1" height="90" fill="#ff0000"/><rect x="936" y="320" width="3" height="73" fill="#ff0000"/><rect x="941" y="298" width="1" height="42" fill="#ff0000"/><rect x="940" y="315" width="3" height="6" fill="#ff0000"/><rect x="945" y="309" width="1" height="49" fill="#00fa7e"/><rect x="944" y="314" width="3" height="39" fill="#00fa7e"/><rect x="949" y="351" width="1" height="4" fill="#00fa7e"/><rect x="948" y="352" width="3" height="2" fill="#00fa7e"/><rect x="953" y="300" width="1" height="65" fill="#ff0000"/><rect x="952" y="305" width="3" height="48" fill="#ff0000"/><rect x="957" y="296" width="1" height="26" fill="#00fa7e"/><rect x="956" y="305" width="3" height="9" fill="#00fa7e"/><rect x="961" y="312" width="1" height="51" fill="#00fa7e"/><rect x="960" y="313" width="3" height="24" fill="#00fa7e"/><rect x="965" y="316" width="1" height="31" fill="#ff0000"/><rect x="964" y="331" width="3" height="6" fill="#ff0000"/><rect x="969" y="298" width="1" height="49" fill="#00fa7e"/><rect x="968" y="313" width="3" height="1" fill="#00fa7e"/><rect x="973" y="314" width="1" height="7" fill="#00fa7e"/><rect x="972" y="316" width="3" height="1" fill="#00fa7e"/><rect x="977" y="315" width="1" height="55" fill="#00fa7e"/><rect x="976" y="316" width="3" height="50" fill="#00fa7e"/><rect x="981" y="328" width="1" height="59" fill="#ff0000"/><rect x="980" y="338" width="3" height="28" fill="#ff0000"/><rect x="985" y="314" width="1" height="27" fill="#ff0000"/><rect x="984" y="323" width="3" height="17" fill="#ff0000"/><rect x="989" y="314" width="1" height="36" fill="#00fa7e"/><rect x="988" y="323" width="3" height="19" fill="#00fa7e"/><rect x="993" y="303" width="1" height="65" fill="#ff0000"/><rect x="992" y="312" width="3" height="30" fill="#ff0000"/><rect x="997" y="314" width="1" height="3" fill="#ff0000"/><rect x="996" y="314" width="3" height="3" fill="#ff0000"/><rect x="1001" y="281" width="1" height="38" fill="#ff0000"/><rect x="1000" y="302" width="3" height="13" fill="#ff0000"/><rect x="1005" y="265" width="1" height="46" fill="#ff0000"/><rect x="1004" y="298" width="3" height="5" fill="#ff0000"/><rect x="1009" y="297" width="1" height="95" fill="#00fa7e"/><rect x="1008" y="298" width="3" height="88" fill="#00fa7e"/><rect x="1013" y="370" width="1" height="42" fill="#ff0000"/><rect x="1012" y="382" width="3" height="4" fill="#ff0000"/><rect x="1017" y="378" width="1" height="59" fill="#00fa7e"/><rect x="1016" y="382" width="3" height="44" fill="#00fa7e"/><rect x="1021" y="427" width="1" height="4" fill="#00fa7e"/><rect x="1020" y="428" width="3" height="2" fill="#00fa7e"/><rect x="1025" y="423" width="1" height="30" fill="#ff0000"/><rect x="1024" y="428" width="3" height="2" fill="#ff0000"/><rect x="1029" y="411" width="1" height="45" fill="#00fa7e"/><rect x="1028" y="429" width="3" height="18" fill="#00fa7e"/><rect x="1033" y="394" width="1" height="58" fill="#ff0000"/><rect x="1032" y="417" width="3" height="30" fill="#ff0000"/><rect x="1037" y="389" width="1" height="35" fill="#ff0000"/><rect x="1036" y="396" width="3" height="23" fill="#ff0000"/><rect x="1041" y="340" width="1" height="58" fill="#ff0000"/><rect x="1040" y="342" width="3" height="55" fill="#ff0000"/><rect x="1045" y="389" width="1" height="8" fill="#ff0000"/><rect x="1044" y="394" width="3" height="3" fill="#ff0000"/><rect x="1049" y="350" width="1" height="46" fill="#ff0000"/><rect x="1048" y="373" width="3" height="23" fill="#ff0000"/><rect x="1053" y="329" width="1" height="51" fill="#ff0000"/><rect x="1052" y="373" width="3" height="2" fill="#ff0000"/><rect x="1057" y="321" width="1" height="53" fill="#ff0000"/><rect x="1056" y="329" width="3" height="44" fill="#ff0000"/><rect x="1061" y="323" width="1" height="50" fill="#00fa7e"/><rect x="1060" y="329" width="3" height="31" fill="#00fa7e"/><rect x="1065" y="328" width="1" height="35" fill="#ff0000"/><rect x="1064" y="346" width="3" height="14" fill="#ff0000"/><rect x="1069" y="350" width="1" height="4" fill="#00fa7e"/><rect x="1068" y="351" width="3" height="2" fill="#00fa7e"/><rect x="1073" y="324" width="1" height="40" fill="#00fa7e"/><rect x="1072" y="353" width="3" height="4" fill="#00fa7e"/><rect x="1077" y="348" width="1" height="32" fill="#00fa7e"/><rect x="1076" y="357" width="3" height="18" fill="#00fa7e"/><rect x="1081" y="337" width="1" height="38" fill="#ff0000"/><rect x="1080" y="360" width="3" height="14" fill="#ff0000"/><rect x="1085" y="346" width="1" height="35" fill="#ff0000"/><rect x="1084" y="352" width="3" height="8" fill="#ff0000"/><rect x="1089" y="345" width="1" height="50" fill="#00fa7e"/><rect x="1088" y="352" width="3" height="19" fill="#00fa7e"/><rect x="1093" y="375" width="1" height="5" fill="#ff0000"/><rect x="1092" y="377" width="3" height="1" fill="#ff0000"/><rect x="1097" y="359" width="1" height="28" fill="#ff0000"/><rect x="1096" y="372" width="3" height="5" fill="#ff0000"/><rect x="1101" y="336" width="1" height="62" fill="#00fa7e"/><rect x="1100" y="373" width="3" height="19" fill="#00fa7e"/><rect x="1105" y="301" width="1" height="100" fill="#ff0000"/><rect x="1104" y="306" width="3" height="86" fill="#ff0000"/><rect x="1109" y="292" width="1" height="30" fill="#ff0000"/><rect x="1108" y="300" width="3" height="7" fill="#ff0000"/><rect x="1113" y="298" width="1" height="32" fill="#00fa7e"/><rect x="1112" y="299" width="3" height="13" fill="#00fa7e"/><rect x="1117" y="319" width="1" height="6" fill="#00fa7e"/><rect x="1116" y="319" width="3" height="5" fill="#00fa7e"/><rect x="1121" y="305" width="1" height="27" fill="#00fa7e"/><rect x="1120" y="324" width="3" height="2" fill="#00fa7e"/><rect x="1125" y="300" width="1" height="39" fill="#ff0000"/><rect x="1124" y="312" width="3" height="14" fill="#ff0000"/><rect x="1129" y="308" width="1" height="6" fill="#00fa7e"/><rect x="1128" y="312" width="3" height="2" fill="#00fa7e"/><path d="M5 457v1h1v-1zM6 456v1h1v-1zM7 455v1h1v-1zM8 455v1h1v-1zM9 454v1h1v-1zM10 453v1h1v-1zM11 452v1h1v-1zM12 451v1h1v-1zM13 450v1h1v-1zM14 450v1h1v-1zM15 449v1h1v-1zM16 449v1h1v-1zM17 449v1h1v-1zM18 448v1h1v-1zM19 447v1h1v-1zM20 446v1h1v-1zM21 445v1h1v-1zM22 443v2h1v-2zM23 441v2h1v-2zM24 439v2h1v-2zM25 438v1h1v-1zM26 436v2h1v-2zM27 435v1h1v-1zM28 433v2h1v-2zM29 432v1h1v-1zM30 431v1h1v-1zM31 430v1h1v-1zM32 430v1h1v-1zM33 429v1h1v-1zM34 428v1h1v-1zM35 427v1h1v-1zM36 426v1h1v-1zM37 425v1h1v-1zM38 424v1h1v-1zM39 422v2h1v-2zM40 421v1h1v-1zM41 420v1h1v-1zM42 419v1h1v-1zM43 417v2h1v-2zM44 416v1h1v-1zM45 415v1h1v-1zM46 413v2h1v-2zM47 411v2h1v-2zM48 409v2h1v-2zM49 408v1h1v-1zM50 407v1h1v-1zM51 405v2h1v-2zM52 404v1h1v-1zM53 403v1h1v-1zM54 401v2h1v-2zM55 399v2h1v-2zM56 397v2h1v-2zM57 396v1h1v-1zM58 394v2h1v-2zM59 393v1h1v-1zM60 391v2h1v-2zM61 390v1h1v-1zM62 389v1h1v-1zM63 387v2h1v-2zM64 386v1h1v-1zM65 385v1h1v-1zM66 384v1h1v-1zM67 384v1h1v-1zM68 383v1h1v-1zM69 383v1h1v-1zM70 382v1h1v-1zM71 382v1h1v-1zM72 381v1h1v-1zM73 381v1h1v-1zM74 379v2h1v-2zM75 378v1h1v-1zM76 376v2h1v-2zM77 375v1h1v-1zM78 374v1h1v-1zM79 372v2h1v-2zM80 371v1h1v-1zM81 370v1h1v-1zM82 369v1h1v-1zM83 369v1h1v-1zM84 368v1h1v-1zM85 368v1h1v-1zM86 367v1h1v-1zM87 366v1h1v-1zM88 365v1h1v-1zM89 364v1h1v-1zM90 362v2h1v-2zM91 360v2h1v-2zM92 358v2h1v-2zM93 356v2h1v-2zM94 354v2h1v-2zM95 352v2h1v-2zM96 350v2h1v-2zM97 348v2h1v-2zM98 346v2h1v-2zM99 344v2h1v-2zM100 342v2h1v-2zM101 341v1h1v-1zM102 339v2h1v-2zM103 337v2h1v-2zM104 335v2h1v-2zM105 334v1h1v-1zM106 333v1h1v-1zM107 333v1h1v-1zM108 332v1h1v-1zM109 332v1h1v-1zM110 330v2h1v-2zM111 329v1h1v-1zM112 327v2h1v-2zM113 326v1h1v-1zM114 324v2h1v-2zM115 322v2h1v-2zM116 320v2h1v-2zM117 318v2h1v-2zM118 316v2h1v-2zM119 314v2h1v-2zM120 312v2h1v-2zM121 309v3h1v-3zM122 307v2h1v-2zM123 305v2h1v-2zM124 303v2h1v-2zM125 300v3h1v-3zM126 298v2h1v-2zM127 296v2h1v-2zM128 294v2h1v-2zM129 291v3h1v-3zM130 288v3h1v-3zM131 286v2h1v-2zM132 283v3h1v-3zM133 280v3h1v-3zM134 277v3h1v-3zM135 274v3h1v-3zM136 271v3h1v-3zM137 268v3h1v-3zM138 265v3h1v-3zM139 263v2h1v-2zM140 260v3h1v-3zM141 257v3h1v-3zM142 254v3h1v-3zM143 252v2h1v-2zM144 249v3h1v-3zM145 246v3h1v-3zM146 243v3h1v-3zM147 241v2h1v-2zM148 238v3h1v-3zM149 235v3h1v-3zM150 231v4h1v-4zM151 227v4h1v-4zM152 223v4h1v-4zM153 219v4h1v-4zM154 215v4h1v-4zM155 212v3h1v-3zM156 208v4h1v-4zM157 205v3h1v-3zM158 203v2h1v-2zM159 200v3h1v-3zM160 198v2h1v-2zM161 196v2h1v-2zM162 194v2h1v-2zM163 192v2h1v-2zM164 190v2h1v-2zM165 187v3h1v-3zM166 184v3h1v-3zM167 180v4h1v-4zM168 177v3h1v-3zM169 174v3h1v-3zM170 171v3h1v-3zM171 169v2h1v-2zM172 166v3h1v-3zM173 164v2h1v-2zM174 163v1h1v-1zM175 162v1h1v-1zM176 162v1h1v-1zM177 161v1h1v-1zM178 161v1h1v-1zM179 160v1h1v-1zM180 160v1h1v-1zM181 160v1h1v-1zM182 160v1h1v-1zM183 160v1h1v-1zM184 160v1h1v-1zM185 160v1h1v-1zM186 161v1h1v-1zM187 161v1h1v-1zM188 162v1h1v-1zM189 162v1h1v-1zM190 163v1h1v-1zM191 164v1h1v-1zM192 165v1h1v-1zM193 166v1h1v-1zM194 167v2h1v-2zM195 169v2h1v-2zM196 171v2h1v-2zM197 173v1h1v-1zM198 174v2h1v-2zM199 176v1h1v-1zM200 177v2h1v-2zM201 179v1h1v-1zM202 180v2h1v-2zM203 182v2h1v-2zM204 184v2h1v-2zM205 186v1h1v-1zM206 187v2h1v-2zM207 189v2h1v-2zM208 191v2h1v-2zM209 193v2h1v-2zM210 195v2h1v-2zM211 197v2h1v-2zM212 199v2h1v-2zM213 201v3h1v-3zM214 204v3h1v-3zM215 207v3h1v-3zM216 210v3h1v-3zM217 213v3h1v-3zM218 216v3h1v-3zM219 219v3h1v-3zM220 222v3h1v-3zM221 225v3h1v-3zM222 228v3h1v-3zM223 231v2h1v-2zM224 233v3h1v-3zM225 236v3h1v-3zM226 239v3h1v-3zM227 242v3h1v-3zM228 245v3h1v-3zM229 248v3h1v-3zM230 251v3h1v-3zM231 254v2h1v-2zM232 256v3h1v-3zM233 259v3h1v-3zM234 262v3h1v-3zM235 265v2h1v-2zM236 267v3h1v-3zM237 270v3h1v-3zM238 273v3h1v-3zM239 276v2h1v-2zM240 278v3h1v-3zM241 281v3h1v-3zM242 284v2h1v-2zM243 286v3h1v-3zM244 289v2h1v-2zM245 291v3h1v-3zM246 294v2h1v-2zM247 296v3h1v-3zM248 299v2h1v-2zM249 301v3h1v-3zM250 304v4h1v-4zM251 308v4h1v-4zM252 312v4h1v-4zM253 316v3h1v-3zM254 319v4h1v-4zM255 323v4h1v-4zM256 327v4h1v-4zM257 331v2h1v-2zM258 333v2h1v-2zM259 335v2h1v-2zM260 337v2h1v-2zM261 339v2h1v-2zM262 341v1h1v-1zM263 342v2h1v-2zM264 344v1h1v-1zM265 345v1h1v-1zM266 346v2h1v-2zM267 348v2h1v-2zM268 350v2h1v-2zM269 352v2h1v-2zM270 354v2h1v-2zM271 356v1h1v-1zM272 357v2h1v-2zM273 359v1h1v-1zM274 360v2h1v-2zM275 362v1h1v-1zM276 363v2h1v-2zM277 365v1h1v-1zM278 366v1h1v-1zM279 367v1h1v-1zM280 368v1h1v-1zM281 369v1h1v-1zM282 370v1h1v-1zM283 371v1h1v-1zM284 372v1h1v-1zM285 373v1h1v-1zM286 374v2h1v-2zM287 376v1h1v-1zM288 377v2h1v-2zM289 379v1h1v-1zM290 379v1h1v-1zM291 380v1h1v-1zM292 380v1h1v-1zM293 380v1h1v-1zM294 380v1h1v-1zM295 379v1h1v-1zM296 379v1h1v-1zM297 379v1h1v-1zM298 379v1h1v-1zM299 379v1h1v-1zM300 379v1h1v-1zM301 379v1h1v-1zM302 379v1h1v-1zM303 378v1h1v-1zM304 378v1h1v-1zM305 378v1h1v-1zM306 378v1h1v-1zM307 377v1h1v-1zM308 377v1h1v-1zM309 377v1h1v-1zM310 378v1h1v-1zM311 378v1h1v-1zM312 379v1h1v-1zM313 379v1h1v-1zM314 379v1h1v-1zM315 380v1h1v-1zM316 380v1h1v-1zM317 380v1h1v-1zM318 380v1h1v-1zM319 380v1h1v-1zM320 380v1h1v-1zM321 380v1h1v-1zM322 381v1h1v-1zM323 382v1h1v-1zM324 383v1h1v-1zM325 384v1h1v-1zM326 385v1h1v-1zM327 386v1h1v-1zM328 386v1h1v-1zM329 387v1h1v-1zM330 388v1h1v-1zM331 389v2h1v-2zM332 391v1h1v-1zM333 392v1h1v-1zM334 392v1h1v-1zM335 392v1h1v-1zM336 392v1h1v-1zM337 392v1h1v-1zM338 393v1h1v-1zM339 393v1h1v-1zM340 394v1h1v-1zM341 394v1h1v-1zM342 394v1h1v-1zM343 395v1h1v-1zM344 395v1h1v-1zM345 395v1h1v-1zM346 396v1h1v-1zM347 397v2h1v-2zM348 399v1h1v-1zM349 400v1h1v-1zM350 400v1h1v-1zM351 401v1h1v-1zM352 401v1h1v-1zM353 401v1h1v-1zM354 400v1h1v-1zM355 399v1h1v-1zM356 399v1h1v-1zM357 398v1h1v-1zM358 397v1h1v-1zM359 397v1h1v-1zM360 396v1h1v-1zM361 396v1h1v-1zM362 395v1h1v-1zM363 395v1h1v-1zM364 394v1h1v-1zM365 394v1h1v-1zM366 393v1h1v-1zM367 393v1h1v-1zM368 392v1h1v-1zM369 392v1h1v-1zM370 390v2h1v-2zM371 389v1h1v-1zM372 387v2h1v-2zM373 386v1h1v-1zM374 385v1h1v-1zM375 384v1h1v-1zM376 384v1h1v-1zM377 383v1h1v-1zM378 383v1h1v-1zM379 383v1h1v-1zM380 383v1h1v-1zM381 383v1h1v-1zM382 382v1h1v-1zM383 381v1h1v-1zM384 381v1h1v-1zM385 380v1h1v-1zM386 378v2h1v-2zM387 377v1h1v-1zM388 375v2h1v-2zM389 374v1h1v-1zM390 373v1h1v-1zM391 371v2h1v-2zM392 370v1h1v-1zM393 369v1h1v-1zM394 367v2h1v-2zM395 365v2h1v-2zM396 363v2h1v-2zM397 362v1h1v-1zM398 360v2h1v-2zM399 359v1h1v-1zM400 357v2h1v-2zM401 356v1h1v-1zM402 355v1h1v-1zM403 354v1h1v-1zM404 354v1h1v-1zM405 353v1h1v-1zM406 352v1h1v-1zM407 351v1h1v-1zM408 350v1h1v-1zM409 349v1h1v-1zM410 348v1h1v-1zM411 348v1h1v-1zM412 347v1h1v-1zM413 347v1h1v-1zM414 346v1h1v-1zM415 345v1h1v-1zM416 344v1h1v-1zM417 343v1h1v-1zM418 342v1h1v-1zM419 340v2h1v-2zM420 339v1h1v-1zM421 338v1h1v-1zM422 336v2h1v-2zM423 335v1h1v-1zM424 333v2h1v-2zM425 332v1h1v-1zM426 331v1h1v-1zM427 330v1h1v-1zM428 329v1h1v-1zM429 328v1h1v-1zM430 326v2h1v-2zM431 324v2h1v-2zM432 322v2h1v-2zM433 321v1h1v-1zM434 320v1h1v-1zM435 318v2h1v-2zM436 317v1h1v-1zM437 316v1h1v-1zM438 314v2h1v-2zM439 312v2h1v-2zM440 310v2h1v-2zM441 308v2h1v-2zM442 306v2h1v-2zM443 304v2h1v-2zM444 302v2h1v-2zM445 299v3h1v-3zM446 296v3h1v-3zM447 294v2h1v-2zM448 291v3h1v-3zM449 289v2h1v-2zM450 287v2h1v-2zM451 285v2h1v-2zM452 283v2h1v-2zM453 281v2h1v-2zM454 280v1h1v-1zM455 279v1h1v-1zM456 279v1h1v-1zM457 278v1h1v-1zM458 277v1h1v-1zM459 275v2h1v-2zM460 274v1h1v-1zM461 273v1h1v-1zM462 272v1h1v-1zM463 271v1h1v-1zM464 270v1h1v-1zM465 269v1h1v-1zM466 269v1h1v-1zM467 269v1h1v-1zM468 269v1h1v-1zM469 269v1h1v-1zM470 270v1h1v-1zM471 271v1h1v-1zM472 272v1h1v-1zM473 273v1h1v-1zM474 274v1h1v-1zM475 275v1h1v-1zM476 276v1h1v-1zM477 277v1h1v-1zM478 278v1h1v-1zM479 279v1h1v-1zM480 279v1h1v-1zM481 280v1h1v-1zM482 281v1h1v-1zM483 282v1h1v-1zM484 282v1h1v-1zM485 283v1h1v-1zM486 283v1h1v-1zM487 284v1h1v-1zM488 284v1h1v-1zM489 284v1h1v-1zM490 284v1h1v-1zM491 283v1h1v-1zM492 283v1h1v-1zM493 283v1h1v-1zM494 282v1h1v-1zM495 281v1h1v-1zM496 281v1h1v-1zM497 280v1h1v-1zM498 280v1h1v-1zM499 281v1h1v-1zM500 281v1h1v-1zM501 281v1h1v-1zM502 281v1h1v-1zM503 281v1h1v-1zM504 281v1h1v-1zM505 281v1h1v-1zM506 281v1h1v-1zM507 282v1h1v-1zM508 282v1h1v-1zM509 282v1h1v-1zM510 281v1h1v-1zM511 281v1h1v-1zM512 280v1h1v-1zM513 280v1h1v-1zM514 280v1h1v-1zM515 280v1h1v-1zM516 280v1h1v-1zM517 280v1h1v-1zM518 279v1h1v-1zM519 279v1h1v-1zM520 278v1h1v-1zM521 278v1h1v-1zM522 278v1h1v-1zM523 278v1h1v-1zM524 278v1h1v-1zM525 278v1h1v-1zM526 279v1h1v-1zM527 280v1h1v-1zM528 280v1h1v-1zM529 281v1h1v-1zM530 282v1h1v-1zM531 282v1h1v-1zM532 283v1h1v-1zM533 283v1h1v-1zM534 283v1h1v-1zM535 284v1h1v-1zM536 284v1h1v-1zM537 284v1h1v-1zM538 284v1h1v-1zM539 284v1h1v-1zM540 284v1h1v-1zM541 284v1h1v-1zM542 285v1h1v-1zM543 285v1h1v-1zM544 286v1h1v-1zM545 286v1h1v-1zM546 286v1h1v-1zM547 286v1h1v-1zM548 286v1h1v-1zM549 286v1h1v-1zM550 285v1h1v-1zM551 283v2h1v-2zM552 282v1h1v-1zM553 281v1h1v-1zM554 280v1h1v-1zM555 278v2h1v-2zM556 277v1h1v-1zM557 276v1h1v-1zM558 275v1h1v-1zM559 273v2h1v-2zM560 272v1h1v-1zM561 271v1h1v-1zM562 270v1h1v-1zM563 268v2h1v-2zM564 267v1h1v-1zM565 266v1h1v-1zM566 265v1h1v-1zM567 264v1h1v-1zM568 263v1h1v-1zM569 262v1h1v-1zM570 262v1h1v-1zM571 261v1h1v-1zM572 261v1h1v-1zM573 261v1h1v-1zM574 261v1h1v-1zM575 260v1h1v-1zM576 260v1h1v-1zM577 260v1h1v-1zM578 259v1h1v-1zM579 258v1h1v-1zM580 257v1h1v-1zM581 256v1h1v-1zM582 255v1h1v-1zM583 254v1h1v-1zM584 253v1h1v-1zM585 252v1h1v-1zM586 251v1h1v-1zM587 249v2h1v-2zM588 248v1h1v-1zM589 247v1h1v-1zM590 246v1h1v-1zM591 244v2h1v-2zM592 243v1h1v-1zM593 242v1h1v-1zM594 241v1h1v-1zM595 240v1h1v-1zM596 239v1h1v-1zM597 238v1h1v-1zM598 237v1h1v-1zM599 235v2h1v-2zM600 234v1h1v-1zM601 233v1h1v-1zM602 232v1h1v-1zM603 230v2h1v-2zM604 229v1h1v-1zM605 228v1h1v-1zM606 228v1h1v-1zM607 227v1h1v-1zM608 227v1h1v-1zM609 227v1h1v-1zM610 226v1h1v-1zM611 225v1h1v-1zM612 224v1h1v-1zM613 223v1h1v-1zM614 222v1h1v-1zM615 221v1h1v-1zM616 220v1h1v-1zM617 219v1h1v-1zM618 218v1h1v-1zM619 217v1h1v-1zM620 217v1h1v-1zM621 216v1h1v-1zM622 215v1h1v-1zM623 214v1h1v-1zM624 214v1h1v-1zM625 213v1h1v-1zM626 212v1h1v-1zM627 211v1h1v-1zM628 211v1h1v-1zM629 210v1h1v-1zM630 210v1h1v-1zM631 209v1h1v-1zM632 209v1h1v-1zM633 209v1h1v-1zM634 210v1h1v-1zM635 210v1h1v-1zM636 211v1h1v-1zM637 211v1h1v-1zM638 212v1h1v-1zM639 212v1h1v-1zM640 213v1h1v-1zM641 213v1h1v-1zM642 214v1h1v-1zM643 214v1h1v-1zM644 215v1h1v-1zM645 215v1h1v-1zM646 215v1h1v-1zM647 216v1h1v-1zM648 216v1h1v-1zM649 216v1h1v-1zM650 216v1h1v-1zM651 215v1h1v-1zM652 215v1h1v-1zM653 215v1h1v-1zM654 214v1h1v-1zM655 214v1h1v-1zM656 213v1h1v-1zM657 213v1h1v-1zM658 213v1h1v-1zM659 214v1h1v-1zM660 214v1h1v-1zM661 214v1h1v-1zM662 214v1h1v-1zM663 215v1h1v-1zM664 215v1h1v-1zM665 215v1h1v-1zM666 214v1h1v-1zM667 214v1h1v-1zM668 213v1h1v-1zM669 213v1h1v-1zM670 212v1h1v-1zM671 212v1h1v-1zM672 211v1h1v-1zM673 211v1h1v-1zM674 210v1h1v-1zM675 209v1h1v-1zM676 209v1h1v-1zM677 208v1h1v-1zM678 207v1h1v-1zM679 207v1h1v-1zM680 206v1h1v-1zM681 206v1h1v-1zM682 205v1h1v-1zM683 205v1h1v-1zM684 204v1h1v-1zM685 204v1h1v-1zM686 204v1h1v-1zM687 205v1h1v-1zM688 205v1h1v-1zM689 205v1h1v-1zM690 205v1h1v-1zM691 206v1h1v-1zM692 206v1h1v-1zM693 206v1h1v-1zM694 206v1h1v-1zM695 207v1h1v-1zM696 207v1h1v-1zM697 207v1h1v-1zM698 208v1h1v-1zM699 209v1h1v-1zM700 210v1h1v-1zM701 211v1h1v-1zM702 212v2h1v-2zM703 214v2h1v-2zM704 216v2h1v-2zM705 218v1h1v-1zM706 219v2h1v-2zM707 221v2h1v-2zM708 223v2h1v-2zM709 225v1h1v-1zM710 226v2h1v-2zM711 228v2h1v-2zM712 230v2h1v-2zM713 232v1h1v-1zM714 233v2h1v-2zM715 235v1h1v-1zM716 236v2h1v-2zM717 238v1h1v-1zM718 239v1h1v-1zM719 240v1h1v-1zM720 241v1h1v-1zM721 242v1h1v-1zM722 243v1h1v-1zM723 244v1h1v-1zM724 244v1h1v-1zM725 245v1h1v-1zM726 245v1h1v-1zM727 245v1h1v-1zM728 245v1h1v-1zM729 245v1h1v-1zM730 245v1h1v-1zM731 246v1h1v-1zM732 246v1h1v-1zM733 246v1h1v-1zM734 247v1h1v-1zM735 247v1h1v-1zM736 248v1h1v-1zM737 248v1h1v-1zM738 249v1h1v-1zM739 249v1h1v-1zM740 250v1h1v-1zM741 250v1h1v-1zM742 251v2h1v-2zM743 253v2h1v-2zM744 255v2h1v-2zM745 257v2h1v-2zM746 259v2h1v-2zM747 261v2h1v-2zM748 263v2h1v-2zM749 265v3h1v-3zM750 268v2h1v-2zM751 270v3h1v-3zM752 273v2h1v-2zM753 275v3h1v-3zM754 278v3h1v-3zM755 281v3h1v-3zM756 284v3h1v-3zM757 287v3h1v-3zM758 290v3h1v-3zM759 293v3h1v-3zM760 296v3h1v-3zM761 299v3h1v-3zM762 302v3h1v-3zM763 305v4h1v-4zM764 309v3h1v-3zM765 312v3h1v-3zM766 315v4h1v-4zM767 319v4h1v-4zM768 323v4h1v-4zM769 327v3h1v-3zM770 330v3h1v-3zM771 333v3h1v-3zM772 336v3h1v-3zM773 339v3h1v-3zM774 342v3h1v-3zM775 345v3h1v-3zM776 348v3h1v-3zM777 351v3h1v-3zM778 354v3h1v-3zM779 357v3h1v-3zM780 360v3h1v-3zM781 363v2h1v-2zM782 365v2h1v-2zM783 367v2h1v-2zM784 369v2h1v-2zM785 371v2h1v-2zM786 373v2h1v-2zM787 375v1h1v-1zM788 376v2h1v-2zM789 378v1h1v-1zM790 379v2h1v-2zM791 381v2h1v-2zM792 383v2h1v-2zM793 385v2h1v-2zM794 387v2h1v-2zM795 389v2h1v-2zM796 391v2h1v-2zM797 393v2h1v-2zM798 395v2h1v-2zM799 397v2h1v-2zM800 399v2h1v-2zM801 401v2h1v-2zM802 403v2h1v-2zM803 405v2h1v-2zM804 407v2h1v-2zM805 409v3h1v-3zM806 412v2h1v-2zM807 414v2h1v-2zM808 416v2h1v-2zM809 418v3h1v-3zM810 421v2h1v-2zM811 423v3h1v-3zM812 426v2h1v-2zM813 428v3h1v-3zM814 431v3h1v-3zM815 434v4h1v-4zM816 438v3h1v-3zM817 441v3h1v-3zM818 444v3h1v-3zM819 447v3h1v-3zM820 450v3h1v-3zM821 453v3h1v-3zM822 456v3h1v-3zM823 459v4h1v-4zM824 463v3h1v-3zM825 466v2h1v-2zM826 468v2h1v-2zM827 470v2h1v-2zM828 472v2h1v-2zM829 474v2h1v-2zM830 476v1h1v-1zM831 477v2h1v-2zM832 479v1h1v-1zM833 480v1h1v-1zM834 481v1h1v-1zM835 482v2h1v-2zM836 484v1h1v-1zM837 485v1h1v-1zM838 486v1h1v-1zM839 487v2h1v-2zM840 489v1h1v-1zM841 490v1h1v-1zM842 491v1h1v-1zM843 492v2h1v-2zM844 494v1h1v-1zM845 495v1h1v-1zM846 496v1h1v-1zM847 497v2h1v-2zM848 499v1h1v-1zM849 500v1h1v-1zM850 501v1h1v-1zM851 501v1h1v-1zM852 502v1h1v-1zM853 502v1h1v-1zM854 502v1h1v-1zM855 501v1h1v-1zM856 501v1h1v-1zM857 501v1h1v-1zM858 500v1h1v-1zM859 500v1h1v-1zM860 499v1h1v-1zM861 499v1h1v-1zM862 498v1h1v-1zM863 498v1h1v-1zM864 497v1h1v-1zM865 497v1h1v-1zM866 497v1h1v-1zM867 496v1h1v-1zM868 496v1h1v-1zM869 496v1h1v-1zM870 495v1h1v-1zM871 494v1h1v-1zM872 494v1h1v-1zM873 493v1h1v-1zM874 492v1h1v-1zM875 491v1h1v-1zM876 490v1h1v-1zM877 489v1h1v-1zM878 488v1h1v-1zM879 487v1h1v-1zM880 486v1h1v-1zM881 485v1h1v-1zM882 484v1h1v-1zM883 483v1h1v-1zM884 483v1h1v-1zM885 482v1h1v-1zM886 481v1h1v-1zM887 480v1h1v-1zM888 479v1h1v-1zM889 478v1h1v-1zM890 477v1h1v-1zM891 476v1h1v-1zM892 475v1h1v-1zM893 474v1h1v-1zM894 473v1h1v-1zM895 472v1h1v-1zM896 472v1h1v-1zM897 471v1h1v-1zM898 470v1h1v-1zM899 468v2h1v-2zM900 467v1h1v-1zM901 466v1h1v-1zM902 465v1h1v-1zM903 463v2h1v-2zM904 462v1h1v-1zM905 460v2h1v-2zM906 458v2h1v-2zM907 456v2h1v-2zM908 454v2h1v-2zM909 451v3h1v-3zM910 448v3h1v-3zM911 446v2h1v-2zM912 443v3h1v-3zM913 441v2h1v-2zM914 439v2h1v-2zM915 438v1h1v-1zM916 436v2h1v-2zM917 435v1h1v-1zM918 434v1h1v-1zM919 432v2h1v-2zM920 431v1h1v-1zM921 430v1h1v-1zM922 428v2h1v-2zM923 427v1h1v-1zM924 425v2h1v-2zM925 424v1h1v-1zM926 422v2h1v-2zM927 420v2h1v-2zM928 418v2h1v-2zM929 417v1h1v-1zM930 415v2h1v-2zM931 414v1h1v-1zM932 412v2h1v-2zM933 410v2h1v-2zM934 408v2h1v-2zM935 406v2h1v-2zM936 404v2h1v-2zM937 402v2h1v-2zM938 400v2h1v-2zM939 398v2h1v-2zM940 396v2h1v-2zM941 395v1h1v-1zM942 394v1h1v-1zM943 393v1h1v-1zM944 392v1h1v-1zM945 391v1h1v-1zM946 390v1h1v-1zM947 388v2h1v-2zM948 387v1h1v-1zM949 386v1h1v-1zM950 384v2h1v-2zM951 383v1h1v-1zM952 381v2h1v-2zM953 380v1h1v-1zM954 379v1h1v-1zM955 377v2h1v-2zM956 376v1h1v-1zM957 375v1h1v-1zM958 374v1h1v-1zM959 372v2h1v-2zM960 371v1h1v-1zM961 370v1h1v-1zM962 369v1h1v-1zM963 368v1h1v-1zM964 367v1h1v-1zM965 366v1h1v-1zM966 364v2h1v-2zM967 362v2h1v-2zM968 360v2h1v-2zM969 359v1h1v-1zM970 358v1h1v-1zM971 357v1h1v-1zM972 356v1h1v-1zM973 355v1h1v-1zM974 355v1h1v-1zM975 354v1h1v-1zM976 354v1h1v-1zM977 354v1h1v-1zM978 353v1h1v-1zM979 352v1h1v-1zM980 352v1h1v-1zM981 351v1h1v-1zM982 350v1h1v-1zM983 349v1h1v-1zM984 348v1h1v-1zM985 347v1h1v-1zM986 346v1h1v-1zM987 345v1h1v-1zM988 345v1h1v-1zM989 344v1h1v-1zM990 344v1h1v-1zM991 343v1h1v-1zM992 343v1h1v-1zM993 343v1h1v-1zM994 343v1h1v-1zM995 343v1h1v-1zM996 343v1h1v-1zM997 343v1h1v-1zM998 342v1h1v-1zM999 341v1h1v-1zM1000 340v1h1v-1zM1001 339v1h1v-1zM1002 338v1h1v-1zM1003 336v2h1v-2zM1004 335v1h1v-1zM1005 334v1h1v-1zM1006 334v1h1v-1zM1007 334v1h1v-1zM1008 334v1h1v-1zM1009 334v1h1v-1zM1010 334v1h1v-1zM1011 334v1h1v-1zM1012 334v1h1v-1zM1013 334v1h1v-1zM1014 335v1h1v-1zM1015 335v1h1v-1zM1016 336v1h1v-1zM1017 336v1h1v-1zM1018 337v1h1v-1zM1019 338v2h1v-2zM1020 340v1h1v-1zM1021 341v1h1v-1zM1022 342v1h1v-1zM1023 343v2h1v-2zM1024 345v1h1v-1zM1025 346v1h1v-1zM1026 347v1h1v-1zM1027 348v2h1v-2zM1028 350v1h1v-1zM1029 351v1h1v-1zM1030 352v1h1v-1zM1031 353v1h1v-1zM1032 353v1h1v-1zM1033 354v1h1v-1zM1034 355v1h1v-1zM1035 356v1h1v-1zM1036 357v1h1v-1zM1037 358v1h1v-1zM1038 358v1h1v-1zM1039 359v1h1v-1zM1040 359v1h1v-1zM1041 359v1h1v-1zM1042 360v1h1v-1zM1043 361v1h1v-1zM1044 361v1h1v-1zM1045 362v1h1v-1zM1046 363v1h1v-1zM1047 363v1h1v-1zM1048 364v1h1v-1zM1049 364v1h1v-1zM1050 365v1h1v-1zM1051 366v1h1v-1zM1052 366v1h1v-1zM1053 367v1h1v-1zM1054 367v1h1v-1zM1055 367v1h1v-1zM1056 367v1h1v-1zM1057 367v1h1v-1zM1058 367v1h1v-1zM1059 367v1h1v-1zM1060 367v1h1v-1zM1061 367v1h1v-1zM1062 367v1h1v-1zM1063 368v1h1v-1zM1064 368v1h1v-1zM1065 368v1h1v-1zM1066 368v1h1v-1zM1067 369v1h1v-1zM1068 369v1h1v-1zM1069 369v1h1v-1zM1070 369v1h1v-1zM1071 370v1h1v-1zM1072 370v1h1v-1zM1073 370v1h1v-1zM1074 371v1h1v-1zM1075 372v1h1v-1zM1076 372v1h1v-1zM1077 373v1h1v-1zM1078 374v1h1v-1zM1079 374v1h1v-1zM1080 375v1h1v-1zM1081 375v1h1v-1zM1082 376v1h1v-1zM1083 376v1h1v-1zM1084 377v1h1v-1zM1085 377v1h1v-1zM1086 378v1h1v-1zM1087 379v1h1v-1zM1088 380v1h1v-1zM1089 381v1h1v-1zM1090 381v1h1v-1zM1091 380v1h1v-1zM1092 380v1h1v-1zM1093 380v1h1v-1zM1094 380v1h1v-1zM1095 380v1h1v-1zM1096 380v1h1v-1zM1097 380v1h1v-1zM1098 379v1h1v-1zM1099 379v1h1v-1zM1100 378v1h1v-1zM1101 378v1h1v-1zM1102 376v2h1v-2zM1103 375v1h1v-1zM1104 373v2h1v-2zM1105 372v1h1v-1zM1106 370v2h1v-2zM1107 369v1h1v-1zM1108 367v2h1v-2zM1109 366v1h1v-1zM1110 364v2h1v-2zM1111 363v1h1v-1zM1112 361v2h1v-2zM1113 360v1h1v-1zM1114 359v1h1v-1zM1115 357v2h1v-2zM1116 356v1h1v-1zM1117 355v1h1v-1zM1118 354v1h1v-1zM1119 353v1h1v-1zM1120 353v1h1v-1zM1121 352v1h1v-1zM1122 352v1h1v-1zM1123 351v1h1v-1zM1124 351v1h1v-1zM1125 351v1h1v-1zM1126 350v1h1v-1zM1127 349v1h1v-1zM1128 348v1h1v-1zM1129 347v1h1v-1z" fill="#ffff00"/><path d="M5 440v1h1v-1zM6 439v1h1v-1zM7 438v1h1v-1zM8 438v1h1v-1zM9 437v1h1v-1zM10 436v1h1v-1zM11 435v1h1v-1zM12 434v1h1v-1zM13 433v1h1v-1zM14 433v1h1v-1zM15 432v1h1v-1zM16 432v1h1v-1zM17 432v1h1v-1zM18 431v1h1v-1zM19 430v1h1v-1zM20 429v1h1v-1zM21 427v2h1v-2zM22 425v2h1v-2zM23 422v3h1v-3zM24 420v2h1v-2zM25 418v2h1v-2zM26 416v2h1v-2zM27 414v2h1v-2zM28 412v2h1v-2zM29 411v1h1v-1zM30 410v1h1v-1zM31 409v1h1v-1zM32 409v1h1v-1zM33 408v1h1v-1zM34 406v2h1v-2zM35 404v2h1v-2zM36 402v2h1v-2zM37 401v1h1v-1zM38 400v1h1v-1zM39 399v1h1v-1zM40 398v1h1v-1zM41 397v1h1v-1zM42 396v1h1v-1zM43 395v1h1v-1zM44 395v1h1v-1zM45 394v1h1v-1zM46 392v2h1v-2zM47 391v1h1v-1zM48 389v2h1v-2zM49 388v1h1v-1zM50 388v1h1v-1zM51 387v1h1v-1zM52 387v1h1v-1zM53 387v1h1v-1zM54 386v1h1v-1zM55 385v1h1v-1zM56 385v1h1v-1zM57 384v1h1v-1zM58 383v1h1v-1zM59 382v1h1v-1zM60 382v1h1v-1zM61 381v1h1v-1zM62 380v1h1v-1zM63 378v2h1v-2zM64 377v1h1v-1zM65 376v1h1v-1zM66 376v1h1v-1zM67 375v1h1v-1zM68 375v1h1v-1zM69 375v1h1v-1zM70 373v2h1v-2zM71 372v1h1v-1zM72 370v2h1v-2zM73 368v2h1v-2zM74 365v3h1v-3zM75 363v2h1v-2zM76 360v3h1v-3zM77 358v2h1v-2zM78 357v1h1v-1zM79 356v1h1v-1zM80 355v1h1v-1zM81 354v1h1v-1zM82 353v1h1v-1zM83 352v1h1v-1zM84 352v1h1v-1zM85 351v1h1v-1zM86 349v2h1v-2zM87 347v2h1v-2zM88 345v2h1v-2zM89 342v3h1v-3zM90 340v2h1v-2zM91 338v2h1v-2zM92 336v2h1v-2zM93 334v2h1v-2zM94 332v2h1v-2zM95 330v2h1v-2zM96 328v2h1v-2zM97 326v2h1v-2zM98 324v2h1v-2zM99 323v1h1v-1zM100 321v2h1v-2zM101 320v1h1v-1zM102 319v1h1v-1zM103 318v1h1v-1zM104 318v1h1v-1zM105 317v1h1v-1zM106 316v1h1v-1zM107 314v2h1v-2zM108 313v1h1v-1zM109 312v1h1v-1zM110 310v2h1v-2zM111 309v1h1v-1zM112 307v2h1v-2zM113 306v1h1v-1zM114 304v2h1v-2zM115 302v2h1v-2zM116 300v2h1v-2zM117 298v2h1v-2zM118 295v3h1v-3zM119 293v2h1v-2zM120 290v3h1v-3zM121 287v3h1v-3zM122 283v4h1v-4zM123 279v4h1v-4zM124 275v4h1v-4zM125 272v3h1v-3zM126 269v3h1v-3zM127 265v4h1v-4zM128 262v3h1v-3zM129 259v3h1v-3zM130 256v3h1v-3zM131 252v4h1v-4zM132 249v3h1v-3zM133 246v3h1v-3zM134 243v3h1v-3zM135 241v2h1v-2zM136 238v3h1v-3zM137 234v4h1v-4zM138 230v4h1v-4zM139 226v4h1v-4zM140 222v4h1v-4zM141 218v4h1v-4zM142 214v4h1v-4zM143 211v3h1v-3zM144 207v4h1v-4zM145 204v3h1v-3zM146 202v2h1v-2zM147 199v3h1v-3zM148 197v2h1v-2zM149 194v3h1v-3zM150 191v3h1v-3zM151 187v4h1v-4zM152 184v3h1v-3zM153 181v3h1v-3zM154 177v4h1v-4zM155 173v4h1v-4zM156 169v4h1v-4zM157 166v3h1v-3zM158 162v4h1v-4zM159 158v4h1v-4zM160 154v4h1v-4zM161 150v4h1v-4zM162 147v3h1v-3zM163 143v4h1v-4zM164 140v3h1v-3zM165 137v3h1v-3zM166 133v4h1v-4zM167 130v3h1v-3zM168 126v4h1v-4zM169 123v3h1v-3zM170 120v3h1v-3zM171 117v3h1v-3zM172 114v3h1v-3zM173 112v2h1v-2zM174 112v1h1v-1zM175 111v1h1v-1zM176 111v1h1v-1zM177 111v1h1v-1zM178 112v1h1v-1zM179 113v1h1v-1zM180 114v1h1v-1zM181 115v1h1v-1zM182 116v2h1v-2zM183 118v2h1v-2zM184 120v2h1v-2zM185 122v3h1v-3zM186 125v4h1v-4zM187 129v4h1v-4zM188 133v4h1v-4zM189 137v5h1v-5zM190 142v5h1v-5zM191 147v4h1v-4zM192 151v5h1v-5zM193 156v5h1v-5zM194 161v5h1v-5zM195 166v6h1v-6zM196 172v5h1v-5zM197 177v5h1v-5zM198 182v5h1v-5zM199 187v4h1v-4zM200 191v5h1v-5zM201 196v4h1v-4zM202 200v4h1v-4zM203 204v4h1v-4zM204 208v4h1v-4zM205 212v5h1v-5zM206 217v5h1v-5zM207 222v4h1v-4zM208 226v5h1v-5zM209 231v5h1v-5zM210 236v5h1v-5zM211 241v5h1v-5zM212 246v5h1v-5zM213 251v5h1v-5zM214 256v5h1v-5zM215 261v5h1v-5zM216 266v5h1v-5zM217 271v5h1v-5zM218 276v5h1v-5zM219 281v5h1v-5zM220 286v5h1v-5zM221 291v5h1v-5zM222 296v5h1v-5zM223 301v5h1v-5zM224 306v5h1v-5zM225 311v5h1v-5zM226 316v5h1v-5zM227 321v5h1v-5zM228 326v5h1v-5zM229 331v4h1v-4zM230 335v3h1v-3zM231 338v2h1v-2zM232 340v3h1v-3zM233 343v2h1v-2zM234 345v1h1v-1zM235 346v2h1v-2zM236 348v1h1v-1zM237 349v1h1v-1zM238 349v1h1v-1zM239 350v1h1v-1zM240 350v1h1v-1zM241 350v1h1v-1zM242 349v1h1v-1zM243 348v1h1v-1zM244 348v1h1v-1zM245 347v1h1v-1zM246 345v2h1v-2zM247 344v1h1v-1zM248 342v2h1v-2zM249 341v1h1v-1zM250 341v1h1v-1zM251 340v1h1v-1zM252 340v1h1v-1zM253 340v1h1v-1zM254 340v1h1v-1zM255 341v1h1v-1zM256 341v1h1v-1zM257 341v1h1v-1zM258 341v1h1v-1zM259 342v1h1v-1zM260 342v1h1v-1zM261 342v1h1v-1zM262 342v1h1v-1zM263 342v1h1v-1zM264 342v1h1v-1zM265 342v1h1v-1zM266 343v2h1v-2zM267 345v2h1v-2zM268 347v2h1v-2zM269 349v1h1v-1zM270 350v2h1v-2zM271 352v2h1v-2zM272 354v2h1v-2zM273 356v2h1v-2zM274 358v2h1v-2zM275 360v3h1v-3zM276 363v2h1v-2zM277 365v3h1v-3zM278 368v2h1v-2zM279 370v3h1v-3zM280 373v2h1v-2zM281 375v2h1v-2zM282 377v2h1v-2zM283 379v2h1v-2zM284 381v2h1v-2zM285 383v2h1v-2zM286 385v2h1v-2zM287 387v2h1v-2zM288 389v2h1v-2zM289 391v2h1v-2zM290 393v1h1v-1zM291 394v2h1v-2zM292 396v1h1v-1zM293 397v1h1v-1zM294 398v1h1v-1zM295 398v1h1v-1zM296 399v1h1v-1zM297 399v1h1v-1zM298 400v1h1v-1zM299 401v1h1v-1zM300 402v1h1v-1zM301 403v1h1v-1zM302 404v1h1v-1zM303 405v1h1v-1zM304 406v1h1v-1zM305 407v1h1v-1zM306 406v1h1v-1zM307 405v1h1v-1zM308 404v1h1v-1zM309 403v1h1v-1zM310 403v1h1v-1zM311 403v1h1v-1zM312 403v1h1v-1zM313 403v1h1v-1zM314 403v1h1v-1zM315 403v1h1v-1zM316 403v1h1v-1zM317 403v1h1v-1zM318 403v1h1v-1zM319 402v1h1v-1zM320 402v1h1v-1zM321 402v1h1v-1zM322 400v2h1v-2zM323 399v1h1v-1zM324 397v2h1v-2zM325 396v1h1v-1zM326 394v2h1v-2zM327 393v1h1v-1zM328 391v2h1v-2zM329 390v1h1v-1zM330 388v2h1v-2zM331 386v2h1v-2zM332 384v2h1v-2zM333 382v2h1v-2zM334 380v2h1v-2zM335 379v1h1v-1zM336 377v2h1v-2zM337 376v1h1v-1zM338 375v1h1v-1zM339 374v1h1v-1zM340 374v1h1v-1zM341 373v1h1v-1zM342 371v2h1v-2zM343 370v1h1v-1zM344 368v2h1v-2zM345 367v1h1v-1zM346 368v1h1v-1zM347 369v1h1v-1zM348 370v1h1v-1zM349 371v2h1v-2zM350 373v2h1v-2zM351 375v3h1v-3zM352 378v2h1v-2zM353 380v2h1v-2zM354 382v1h1v-1zM355 383v2h1v-2zM356 385v1h1v-1zM357 386v1h1v-1zM358 387v2h1v-2zM359 389v1h1v-1zM360 390v2h1v-2zM361 392v2h1v-2zM362 394v2h1v-2zM363 396v2h1v-2zM364 398v2h1v-2zM365 400v2h1v-2zM366 402v1h1v-1zM367 403v1h1v-1zM368 403v1h1v-1zM369 404v1h1v-1zM370 403v1h1v-1zM371 403v1h1v-1zM372 402v1h1v-1zM373 402v1h1v-1zM374 402v1h1v-1zM375 403v1h1v-1zM376 403v1h1v-1zM377 403v1h1v-1zM378 402v1h1v-1zM379 401v1h1v-1zM380 400v1h1v-1zM381 399v1h1v-1zM382 397v2h1v-2zM383 396v1h1v-1zM384 394v2h1v-2zM385 392v2h1v-2zM386 389v3h1v-3zM387 386v3h1v-3zM388 383v3h1v-3zM389 380v3h1v-3zM390 377v3h1v-3zM391 373v4h1v-4zM392 370v3h1v-3zM393 367v3h1v-3zM394 364v3h1v-3zM395 360v4h1v-4zM396 357v3h1v-3zM397 354v3h1v-3zM398 352v2h1v-2zM399 349v3h1v-3zM400 347v2h1v-2zM401 344v3h1v-3zM402 340v4h1v-4zM403 337v3h1v-3zM404 333v4h1v-4zM405 330v3h1v-3zM406 327v3h1v-3zM407 323v4h1v-4zM408 320v3h1v-3zM409 318v2h1v-2zM410 316v2h1v-2zM411 315v1h1v-1zM412 313v2h1v-2zM413 311v2h1v-2zM414 309v2h1v-2zM415 307v2h1v-2zM416 305v2h1v-2zM417 302v3h1v-3zM418 299v3h1v-3zM419 297v2h1v-2zM420 294v3h1v-3zM421 291v3h1v-3zM422 289v2h1v-2zM423 286v3h1v-3zM424 284v2h1v-2zM425 282v2h1v-2zM426 281v1h1v-1zM427 281v1h1v-1zM428 280v1h1v-1zM429 280v1h1v-1zM430 279v1h1v-1zM431 279v1h1v-1zM432 278v1h1v-1zM433 278v1h1v-1zM434 279v1h1v-1zM435 279v1h1v-1zM436 280v1h1v-1zM437 280v1h1v-1zM438 280v1h1v-1zM439 279v1h1v-1zM440 279v1h1v-1zM441 279v1h1v-1zM442 279v1h1v-1zM443 280v1h1v-1zM444 280v1h1v-1zM445 280v1h1v-1zM446 280v1h1v-1zM447 281v1h1v-1zM448 281v1h1v-1zM449 281v1h1v-1zM450 281v1h1v-1zM451 282v1h1v-1zM452 282v1h1v-1zM453 282v1h1v-1zM454 283v1h1v-1zM455 284v1h1v-1zM456 284v1h1v-1zM457 285v1h1v-1zM458 284v1h1v-1zM459 284v1h1v-1zM460 283v1h1v-1zM461 283v1h1v-1zM462 282v1h1v-1zM463 281v1h1v-1zM464 280v1h1v-1zM465 279v1h1v-1zM466 278v1h1v-1zM467 278v1h1v-1zM468 277v1h1v-1zM469 277v1h1v-1zM470 276v1h1v-1zM471 276v1h1v-1zM472 275v1h1v-1zM473 275v1h1v-1zM474 276v1h1v-1zM475 276v1h1v-1zM476 277v1h1v-1zM477 277v1h1v-1zM478 277v1h1v-1zM479 277v1h1v-1zM480 277v1h1v-1zM481 277v1h1v-1zM482 277v1h1v-1zM483 276v1h1v-1zM484 276v1h1v-1zM485 276v1h1v-1zM486 275v1h1v-1zM487 275v1h1v-1zM488 274v1h1v-1zM489 274v1h1v-1zM490 273v1h1v-1zM491 271v2h1v-2zM492 270v1h1v-1zM493 269v1h1v-1zM494 269v1h1v-1zM495 269v1h1v-1zM496 269v1h1v-1zM497 269v1h1v-1zM498 270v1h1v-1zM499 271v2h1v-2zM500 273v1h1v-1zM501 274v1h1v-1zM502 275v1h1v-1zM503 276v2h1v-2zM504 278v1h1v-1zM505 279v1h1v-1zM506 280v1h1v-1zM507 281v2h1v-2zM508 283v1h1v-1zM509 284v1h1v-1zM510 284v1h1v-1zM511 284v1h1v-1zM512 284v1h1v-1zM513 284v1h1v-1zM514 285v1h1v-1zM515 286v1h1v-1zM516 287v1h1v-1zM517 288v1h1v-1zM518 289v1h1v-1zM519 290v2h1v-2zM520 292v1h1v-1zM521 293v1h1v-1zM522 293v1h1v-1zM523 293v1h1v-1zM524 293v1h1v-1zM525 293v1h1v-1zM526 293v1h1v-1zM527 292v1h1v-1zM528 292v1h1v-1zM529 292v1h1v-1zM530 291v1h1v-1zM531 291v1h1v-1zM532 290v1h1v-1zM533 290v1h1v-1zM534 289v1h1v-1zM535 289v1h1v-1zM536 288v1h1v-1zM537 288v1h1v-1zM538 287v1h1v-1zM539 287v1h1v-1zM540 286v1h1v-1zM541 286v1h1v-1zM542 286v1h1v-1zM543 287v1h1v-1zM544 287v1h1v-1zM545 287v1h1v-1zM546 286v1h1v-1zM547 286v1h1v-1zM548 285v1h1v-1zM549 285v1h1v-1zM550 283v2h1v-2zM551 281v2h1v-2zM552 279v2h1v-2zM553 277v2h1v-2zM554 275v2h1v-2zM555 273v2h1v-2zM556 271v2h1v-2zM557 269v2h1v-2zM558 267v2h1v-2zM559 265v2h1v-2zM560 263v2h1v-2zM561 262v1h1v-1zM562 260v2h1v-2zM563 258v2h1v-2zM564 256v2h1v-2zM565 254v2h1v-2zM566 253v1h1v-1zM567 251v2h1v-2zM568 250v1h1v-1zM569 249v1h1v-1zM570 248v1h1v-1zM571 247v1h1v-1zM572 247v1h1v-1zM573 246v1h1v-1zM574 245v1h1v-1zM575 243v2h1v-2zM576 242v1h1v-1zM577 241v1h1v-1zM578 239v2h1v-2zM579 238v1h1v-1zM580 236v2h1v-2zM581 235v1h1v-1zM582 234v1h1v-1zM583 233v1h1v-1zM584 232v1h1v-1zM585 231v1h1v-1zM586 229v2h1v-2zM587 227v2h1v-2zM588 225v2h1v-2zM589 224v1h1v-1zM590 223v1h1v-1zM591 222v1h1v-1zM592 221v1h1v-1zM593 220v1h1v-1zM594 219v1h1v-1zM595 217v2h1v-2zM596 216v1h1v-1zM597 215v1h1v-1zM598 213v2h1v-2zM599 212v1h1v-1zM600 210v2h1v-2zM601 209v1h1v-1zM602 208v1h1v-1zM603 208v1h1v-1zM604 207v1h1v-1zM605 207v1h1v-1zM606 208v1h1v-1zM607 209v1h1v-1zM608 210v1h1v-1zM609 211v1h1v-1zM610 212v1h1v-1zM611 212v1h1v-1zM612 213v1h1v-1zM613 213v1h1v-1zM614 213v1h1v-1zM615 212v1h1v-1zM616 212v1h1v-1zM617 212v1h1v-1zM618 212v1h1v-1zM619 212v1h1v-1zM620 212v1h1v-1zM621 212v1h1v-1zM622 212v1h1v-1zM623 213v1h1v-1zM624 213v1h1v-1zM625 213v1h1v-1zM626 212v1h1v-1zM627 211v1h1v-1zM628 210v1h1v-1zM629 209v1h1v-1zM630 209v1h1v-1zM631 209v1h1v-1zM632 209v1h1v-1zM633 209v1h1v-1zM634 209v1h1v-1zM635 210v1h1v-1zM636 210v1h1v-1zM637 210v1h1v-1zM638 210v1h1v-1zM639 210v1h1v-1zM640 210v1h1v-1zM641 210v1h1v-1zM642 211v1h1v-1zM643 212v1h1v-1zM644 213v1h1v-1zM645 214v1h1v-1zM646 214v1h1v-1zM647 215v1h1v-1zM648 215v1h1v-1zM649 215v1h1v-1zM650 215v1h1v-1zM651 215v1h1v-1zM652 215v1h1v-1zM653 215v1h1v-1zM654 216v1h1v-1zM655 216v1h1v-1zM656 217v1h1v-1zM657 217v1h1v-1zM658 217v1h1v-1zM659 218v1h1v-1zM660 218v1h1v-1zM661 218v1h1v-1zM662 218v1h1v-1zM663 217v1h1v-1zM664 217v1h1v-1zM665 217v1h1v-1zM666 216v1h1v-1zM667 216v1h1v-1zM668 215v1h1v-1zM669 215v1h1v-1zM670 214v1h1v-1zM671 214v1h1v-1zM672 213v1h1v-1zM673 213v1h1v-1zM674 212v1h1v-1zM675 211v1h1v-1zM676 210v1h1v-1zM677 209v1h1v-1zM678 208v1h1v-1zM679 206v2h1v-2zM680 205v1h1v-1zM681 204v1h1v-1zM682 203v1h1v-1zM683 202v1h1v-1zM684 202v1h1v-1zM685 201v1h1v-1zM686 201v1h1v-1zM687 201v1h1v-1zM688 201v1h1v-1zM689 201v1h1v-1zM690 202v1h1v-1zM691 203v1h1v-1zM692 203v1h1v-1zM693 204v1h1v-1zM694 204v1h1v-1zM695 204v1h1v-1zM696 204v1h1v-1zM697 204v1h1v-1zM698 205v1h1v-1zM699 206v1h1v-1zM700 206v1h1v-1zM701 207v2h1v-2zM702 209v2h1v-2zM703 211v2h1v-2zM704 213v2h1v-2zM705 215v3h1v-3zM706 218v3h1v-3zM707 221v2h1v-2zM708 223v3h1v-3zM709 226v3h1v-3zM710 229v2h1v-2zM711 231v3h1v-3zM712 234v2h1v-2zM713 236v2h1v-2zM714 238v2h1v-2zM715 240v2h1v-2zM716 242v2h1v-2zM717 244v2h1v-2zM718 246v2h1v-2zM719 248v1h1v-1zM720 249v2h1v-2zM721 251v2h1v-2zM722 253v2h1v-2zM723 255v2h1v-2zM724 257v2h1v-2zM725 259v2h1v-2zM726 261v1h1v-1zM727 262v2h1v-2zM728 264v1h1v-1zM729 265v1h1v-1zM730 266v2h1v-2zM731 268v2h1v-2zM732 270v2h1v-2zM733 272v1h1v-1zM734 273v2h1v-2zM735 275v1h1v-1zM736 276v2h1v-2zM737 278v1h1v-1zM738 279v2h1v-2zM739 281v2h1v-2zM740 283v2h1v-2zM741 285v3h1v-3zM742 288v2h1v-2zM743 290v2h1v-2zM744 292v2h1v-2zM745 294v3h1v-3zM746 297v3h1v-3zM747 300v3h1v-3zM748 303v3h1v-3zM749 306v3h1v-3zM750 309v3h1v-3zM751 312v2h1v-2zM752 314v3h1v-3zM753 317v3h1v-3zM754 320v2h1v-2zM755 322v2h1v-2zM756 324v2h1v-2zM757 326v2h1v-2zM758 328v1h1v-1zM759 329v2h1v-2zM760 331v1h1v-1zM761 332v1h1v-1zM762 333v1h1v-1zM763 334v2h1v-2zM764 336v1h1v-1zM765 337v1h1v-1zM766 338v2h1v-2zM767 340v2h1v-2zM768 342v2h1v-2zM769 344v3h1v-3zM770 347v2h1v-2zM771 349v3h1v-3zM772 352v2h1v-2zM773 354v3h1v-3zM774 357v4h1v-4zM775 361v3h1v-3zM776 364v4h1v-4zM777 368v3h1v-3zM778 371v3h1v-3zM779 374v4h1v-4zM780 378v3h1v-3zM781 381v3h1v-3zM782 384v4h1v-4zM783 388v4h1v-4zM784 392v4h1v-4zM785 396v4h1v-4zM786 400v4h1v-4zM787 404v4h1v-4zM788 408v4h1v-4zM789 412v5h1v-5zM790 417v5h1v-5zM791 422v5h1v-5zM792 427v5h1v-5zM793 432v5h1v-5zM794 437v4h1v-4zM795 441v5h1v-5zM796 446v4h1v-4zM797 450v4h1v-4zM798 454v2h1v-2zM799 456v3h1v-3zM800 459v2h1v-2zM801 461v2h1v-2zM802 463v2h1v-2zM803 465v1h1v-1zM804 466v2h1v-2zM805 468v1h1v-1zM806 469v2h1v-2zM807 471v1h1v-1zM808 472v2h1v-2zM809 474v1h1v-1zM810 475v1h1v-1zM811 476v1h1v-1zM812 477v1h1v-1zM813 478v1h1v-1zM814 479v2h1v-2zM815 481v1h1v-1zM816 482v2h1v-2zM817 484v1h1v-1zM818 485v2h1v-2zM819 487v1h1v-1zM820 488v2h1v-2zM821 490v1h1v-1zM822 491v1h1v-1zM823 492v2h1v-2zM824 494v1h1v-1zM825 495v1h1v-1zM826 496v1h1v-1zM827 497v1h1v-1zM828 497v1h1v-1zM829 498v1h1v-1zM830 499v1h1v-1zM831 499v1h1v-1zM832 500v1h1v-1zM833 500v1h1v-1zM834 500v1h1v-1zM835 500v1h1v-1zM836 500v1h1v-1zM837 500v1h1v-1zM838 501v1h1v-1zM839 502v1h1v-1zM840 503v1h1v-1zM841 504v1h1v-1zM842 505v1h1v-1zM843 506v1h1v-1zM844 507v1h1v-1zM845 508v1h1v-1zM846 508v1h1v-1zM847 507v1h1v-1zM848 507v1h1v-1zM849 507v1h1v-1zM850 507v1h1v-1zM851 507v1h1v-1zM852 507v1h1v-1zM853 507v1h1v-1zM854 506v1h1v-1zM855 505v1h1v-1zM856 505v1h1v-1zM857 504v1h1v-1zM858 503v1h1v-1zM859 502v1h1v-1zM860 502v1h1v-1zM861 501v1h1v-1zM862 500v1h1v-1zM863 500v1h1v-1zM864 499v1h1v-1zM865 499v1h1v-1zM866 498v1h1v-1zM867 498v1h1v-1zM868 497v1h1v-1zM869 497v1h1v-1zM870 495v2h1v-2zM871 494v1h1v-1zM872 492v2h1v-2zM873 491v1h1v-1zM874 490v1h1v-1zM875 488v2h1v-2zM876 487v1h1v-1zM877 486v1h1v-1zM878 484v2h1v-2zM879 482v2h1v-2zM880 480v2h1v-2zM881 478v2h1v-2zM882 476v2h1v-2zM883 475v1h1v-1zM884 473v2h1v-2zM885 472v1h1v-1zM886 470v2h1v-2zM887 468v2h1v-2zM888 466v2h1v-2zM889 464v2h1v-2zM890 462v2h1v-2zM891 460v2h1v-2zM892 458v2h1v-2zM893 457v1h1v-1zM894 455v2h1v-2zM895 453v2h1v-2zM896 451v2h1v-2zM897 448v3h1v-3zM898 446v2h1v-2zM899 444v2h1v-2zM900 442v2h1v-2zM901 439v3h1v-3zM902 437v2h1v-2zM903 435v2h1v-2zM904 433v2h1v-2zM905 430v3h1v-3zM906 427v3h1v-3zM907 424v3h1v-3zM908 421v3h1v-3zM909 418v3h1v-3zM910 416v2h1v-2zM911 413v3h1v-3zM912 411v2h1v-2zM913 409v2h1v-2zM914 408v1h1v-1zM915 406v2h1v-2zM916 405v1h1v-1zM917 404v1h1v-1zM918 403v1h1v-1zM919 402v1h1v-1zM920 401v1h1v-1zM921 400v1h1v-1zM922 399v1h1v-1zM923 398v1h1v-1zM924 398v1h1v-1zM925 397v1h1v-1zM926 396v1h1v-1zM927 395v1h1v-1zM928 395v1h1v-1zM929 394v1h1v-1zM930 393v1h1v-1zM931 392v1h1v-1zM932 392v1h1v-1zM933 391v1h1v-1zM934 389v2h1v-2zM935 387v2h1v-2zM936 385v2h1v-2zM937 382v3h1v-3zM938 380v2h1v-2zM939 378v2h1v-2zM940 376v2h1v-2zM941 374v2h1v-2zM942 373v1h1v-1zM943 372v1h1v-1zM944 371v1h1v-1zM945 370v1h1v-1zM946 369v1h1v-1zM947 368v1h1v-1zM948 368v1h1v-1zM949 367v1h1v-1zM950 365v2h1v-2zM951 364v1h1v-1zM952 362v2h1v-2zM953 361v1h1v-1zM954 359v2h1v-2zM955 357v2h1v-2zM956 355v2h1v-2zM957 354v1h1v-1zM958 353v1h1v-1zM959 352v1h1v-1zM960 351v1h1v-1zM961 350v1h1v-1zM962 350v1h1v-1zM963 349v1h1v-1zM964 349v1h1v-1zM965 349v1h1v-1zM966 349v1h1v-1zM967 349v1h1v-1zM968 349v1h1v-1zM969 349v1h1v-1zM970 348v1h1v-1zM971 346v2h1v-2zM972 345v1h1v-1zM973 344v1h1v-1zM974 343v1h1v-1zM975 343v1h1v-1zM976 342v1h1v-1zM977 342v1h1v-1zM978 341v1h1v-1zM979 340v1h1v-1zM980 339v1h1v-1zM981 338v1h1v-1zM982 337v1h1v-1zM983 336v1h1v-1zM984 336v1h1v-1zM985 335v1h1v-1zM986 334v1h1v-1zM987 333v1h1v-1zM988 332v1h1v-1zM989 331v1h1v-1zM990 331v1h1v-1zM991 330v1h1v-1zM992 330v1h1v-1zM993 330v1h1v-1zM994 330v1h1v-1zM995 330v1h1v-1zM996 330v1h1v-1zM997 330v1h1v-1zM998 329v1h1v-1zM999 328v1h1v-1zM1000 327v1h1v-1zM1001 326v1h1v-1zM1002 325v1h1v-1zM1003 324v1h1v-1zM1004 323v1h1v-1zM1005 322v1h1v-1zM1006 323v2h1v-2zM1007 325v1h1v-1zM1008 326v2h1v-2zM1009 328v1h1v-1zM1010 329v1h1v-1zM1011 330v2h1v-2zM1012 332v1h1v-1zM1013 333v1h1v-1zM1014 334v2h1v-2zM1015 336v1h1v-1zM1016 337v2h1v-2zM1017 339v1h1v-1zM1018 340v2h1v-2zM1019 342v2h1v-2zM1020 344v2h1v-2zM1021 346v2h1v-2zM1022 348v2h1v-2zM1023 350v2h1v-2zM1024 352v2h1v-2zM1025 354v3h1v-3zM1026 357v2h1v-2zM1027 359v2h1v-2zM1028 361v2h1v-2zM1029 363v2h1v-2zM1030 365v1h1v-1zM1031 366v1h1v-1zM1032 367v1h1v-1zM1033 368v1h1v-1zM1034 369v1h1v-1zM1035 370v1h1v-1zM1036 371v1h1v-1zM1037 372v1h1v-1zM1038 372v1h1v-1zM1039 373v1h1v-1zM1040 373v1h1v-1zM1041 373v1h1v-1zM1042 374v1h1v-1zM1043 375v1h1v-1zM1044 376v1h1v-1zM1045 377v1h1v-1zM1046 378v1h1v-1zM1047 379v1h1v-1zM1048 380v1h1v-1zM1049 381v1h1v-1zM1050 382v1h1v-1zM1051 383v1h1v-1zM1052 384v1h1v-1zM1053 385v1h1v-1zM1054 386v1h1v-1zM1055 386v1h1v-1zM1056 387v1h1v-1zM1057 387v1h1v-1zM1058 388v1h1v-1zM1059 389v2h1v-2zM1060 391v1h1v-1zM1061 392v1h1v-1zM1062 391v1h1v-1zM1063 390v1h1v-1zM1064 390v1h1v-1zM1065 389v1h1v-1zM1066 388v1h1v-1zM1067 388v1h1v-1zM1068 387v1h1v-1zM1069 387v1h1v-1zM1070 386v1h1v-1zM1071 384v2h1v-2zM1072 383v1h1v-1zM1073 382v1h1v-1zM1074 381v1h1v-1zM1075 380v1h1v-1zM1076 379v1h1v-1zM1077 378v1h1v-1zM1078 377v1h1v-1zM1079 375v2h1v-2zM1080 374v1h1v-1zM1081 373v1h1v-1zM1082 371v2h1v-2zM1083 369v2h1v-2zM1084 367v2h1v-2zM1085 366v1h1v-1zM1086 365v1h1v-1zM1087 364v1h1v-1zM1088 364v1h1v-1zM1089 363v1h1v-1zM1090 363v1h1v-1zM1091 362v1h1v-1zM1092 362v1h1v-1zM1093 362v1h1v-1zM1094 363v1h1v-1zM1095 363v1h1v-1zM1096 364v1h1v-1zM1097 364v1h1v-1zM1098 364v1h1v-1zM1099 364v1h1v-1zM1100 364v1h1v-1zM1101 364v1h1v-1zM1102 363v1h1v-1zM1103 361v2h1v-2zM1104 360v1h1v-1zM1105 359v1h1v-1zM1106 358v1h1v-1zM1107 356v2h1v-2zM1108 355v1h1v-1zM1109 354v1h1v-1zM1110 353v1h1v-1zM1111 353v1h1v-1zM1112 352v1h1v-1zM1113 352v1h1v-1zM1114 351v1h1v-1zM1115 351v1h1v-1zM1116 350v1h1v-1zM1117 350v1h1v-1zM1118 349v1h1v-1zM1119 349v1h1v-1zM1120 348v1h1v-1zM1121 348v1h1v-1zM1122 347v1h1v-1zM1123 346v1h1v-1zM1124 346v1h1v-1zM1125 345v1h1v-1zM1126 344v1h1v-1zM1127 343v1h1v-1zM1128 343v1h1v-1zM1129 342v1h1v-1z" fill="#ff0000"/><path d="M5 408v1h1v-1zM6 406v2h1v-2zM7 404v2h1v-2zM8 402v2h1v-2zM9 401v1h1v-1zM10 400v1h1v-1zM11 400v1h1v-1zM12 399v1h1v-1zM13 399v1h1v-1zM14 400v2h1v-2zM15 402v2h1v-2zM16 404v2h1v-2zM17 406v1h1v-1zM18 407v1h1v-1zM19 407v1h1v-1zM20 408v1h1v-1zM21 408v1h1v-1zM22 406v2h1v-2zM23 405v1h1v-1zM24 403v2h1v-2zM25 402v1h1v-1zM26 402v1h1v-1zM27 401v1h1v-1zM28 401v1h1v-1zM29 401v1h1v-1zM30 402v2h1v-2zM31 404v2h1v-2zM32 406v2h1v-2zM33 408v1h1v-1zM34 406v2h1v-2zM35 404v2h1v-2zM36 402v2h1v-2zM37 401v1h1v-1zM38 399v2h1v-2zM39 397v2h1v-2zM40 395v2h1v-2zM41 393v2h1v-2zM42 390v3h1v-3zM43 387v3h1v-3zM44 384v3h1v-3zM45 381v3h1v-3zM46 377v4h1v-4zM47 374v3h1v-3zM48 370v4h1v-4zM49 368v2h1v-2zM50 369v1h1v-1zM51 370v1h1v-1zM52 371v1h1v-1zM53 372v1h1v-1zM54 370v2h1v-2zM55 369v1h1v-1zM56 367v2h1v-2zM57 365v2h1v-2zM58 362v3h1v-3zM59 360v2h1v-2zM60 357v3h1v-3zM61 355v2h1v-2zM62 354v1h1v-1zM63 353v1h1v-1zM64 353v1h1v-1zM65 352v1h1v-1zM66 353v1h1v-1zM67 354v1h1v-1zM68 354v1h1v-1zM69 355v1h1v-1zM70 355v1h1v-1zM71 355v1h1v-1zM72 355v1h1v-1zM73 355v1h1v-1zM74 353v2h1v-2zM75 351v2h1v-2zM76 349v2h1v-2zM77 347v2h1v-2zM78 344v3h1v-3zM79 341v3h1v-3zM80 338v3h1v-3zM81 336v2h1v-2zM82 336v1h1v-1zM83 335v1h1v-1zM84 335v1h1v-1zM85 335v1h1v-1zM86 334v1h1v-1zM87 332v2h1v-2zM88 331v1h1v-1zM89 329v2h1v-2zM90 325v4h1v-4zM91 322v3h1v-3zM92 318v4h1v-4zM93 314v4h1v-4zM94 309v5h1v-5zM95 304v5h1v-5zM96 299v5h1v-5zM97 295v4h1v-4zM98 292v3h1v-3zM99 290v2h1v-2zM100 287v3h1v-3zM101 285v2h1v-2zM102 285v1h1v-1zM103 286v1h1v-1zM104 286v1h1v-1zM105 286v1h1v-1zM106 287v1h1v-1zM107 287v1h1v-1zM108 288v1h1v-1zM109 287v2h1v-2zM110 284v3h1v-3zM111 281v3h1v-3zM112 278v3h1v-3zM113 275v3h1v-3zM114 273v2h1v-2zM115 271v2h1v-2zM116 269v2h1v-2zM117 267v2h1v-2zM118 265v2h1v-2zM119 264v1h1v-1zM120 262v2h1v-2zM121 260v2h1v-2zM122 257v3h1v-3zM123 255v2h1v-2zM124 252v3h1v-3zM125 249v3h1v-3zM126 245v4h1v-4zM127 241v4h1v-4zM128 237v4h1v-4zM129 231v6h1v-6zM130 224v7h1v-7zM131 218v6h1v-6zM132 211v7h1v-7zM133 205v6h1v-6zM134 199v6h1v-6zM135 193v6h1v-6zM136 187v6h1v-6zM137 181v6h1v-6zM138 175v6h1v-6zM139 170v5h1v-5zM140 164v6h1v-6zM141 159v5h1v-5zM142 155v4h1v-4zM143 150v5h1v-5zM144 146v4h1v-4zM145 142v4h1v-4zM146 139v3h1v-3zM147 135v4h1v-4zM148 132v3h1v-3zM149 129v3h1v-3zM150 125v4h1v-4zM151 121v4h1v-4zM152 117v4h1v-4zM153 113v4h1v-4zM154 109v4h1v-4zM155 105v4h1v-4zM156 101v4h1v-4zM157 99v2h1v-2zM158 98v1h1v-1zM159 97v1h1v-1zM160 96v1h1v-1zM161 95v1h1v-1zM162 94v1h1v-1zM163 93v1h1v-1zM164 93v1h1v-1zM165 92v1h1v-1zM166 91v1h1v-1zM167 89v2h1v-2zM168 88v1h1v-1zM169 87v1h1v-1zM170 85v2h1v-2zM171 84v1h1v-1zM172 82v2h1v-2zM173 81v2h1v-2zM174 83v3h1v-3zM175 86v2h1v-2zM176 88v3h1v-3zM177 91v4h1v-4zM178 95v6h1v-6zM179 101v6h1v-6zM180 107v6h1v-6zM181 113v7h1v-7zM182 120v8h1v-8zM183 128v7h1v-7zM184 135v8h1v-8zM185 143v8h1v-8zM186 151v9h1v-9zM187 160v9h1v-9zM188 169v9h1v-9zM189 178v10h1v-10zM190 188v10h1v-10zM191 198v11h1v-11zM192 209v10h1v-10zM193 219v11h1v-11zM194 230v12h1v-12zM195 242v11h1v-11zM196 253v12h1v-12zM197 265v11h1v-11zM198 276v11h1v-11zM199 287v11h1v-11zM200 298v11h1v-11zM201 309v8h1v-8zM202 317v6h1v-6zM203 323v6h1v-6zM204 329v6h1v-6zM205 335v4h1v-4zM206 339v3h1v-3zM207 342v4h1v-4zM208 346v3h1v-3zM209 349v3h1v-3zM210 352v2h1v-2zM211 354v3h1v-3zM212 357v2h1v-2zM213 359v2h1v-2zM214 361v1h1v-1zM215 362v1h1v-1zM216 363v1h1v-1zM217 364v1h1v-1zM218 363v1h1v-1zM219 363v1h1v-1zM220 362v1h1v-1zM221 362v1h1v-1zM222 360v2h1v-2zM223 358v2h1v-2zM224 356v2h1v-2zM225 355v1h1v-1zM226 354v1h1v-1zM227 353v1h1v-1zM228 352v1h1v-1zM229 351v1h1v-1zM230 351v1h1v-1zM231 351v1h1v-1zM232 351v1h1v-1zM233 351v1h1v-1zM234 350v1h1v-1zM235 349v1h1v-1zM236 349v1h1v-1zM237 347v2h1v-2zM238 345v2h1v-2zM239 343v2h1v-2zM240 341v2h1v-2zM241 338v3h1v-3zM242 336v2h1v-2zM243 334v2h1v-2zM244 332v2h1v-2zM245 329v3h1v-3zM246 327v2h1v-2zM247 324v3h1v-3zM248 322v2h1v-2zM249 320v2h1v-2zM250 321v2h1v-2zM251 323v1h1v-1zM252 324v2h1v-2zM253 326v1h1v-1zM254 327v1h1v-1zM255 328v2h1v-2zM256 330v1h1v-1zM257 331v1h1v-1zM258 332v1h1v-1zM259 332v1h1v-1zM260 333v1h1v-1zM261 333v1h1v-1zM262 334v1h1v-1zM263 335v1h1v-1zM264 335v1h1v-1zM265 336v3h1v-3zM266 339v6h1v-6zM267 345v6h1v-6zM268 351v6h1v-6zM269 357v5h1v-5zM270 362v6h1v-6zM271 368v6h1v-6zM272 374v6h1v-6zM273 380v7h1v-7zM274 387v7h1v-7zM275 394v7h1v-7zM276 401v7h1v-7zM277 408v5h1v-5zM278 413v4h1v-4zM279 417v4h1v-4zM280 421v4h1v-4zM281 425v3h1v-3zM282 428v3h1v-3zM283 431v2h1v-2zM284 433v3h1v-3zM285 436v3h1v-3zM286 439v4h1v-4zM287 443v4h1v-4zM288 447v4h1v-4zM289 451v2h1v-2zM290 453v2h1v-2zM291 455v1h1v-1zM292 456v2h1v-2zM293 456v3h1v-3zM294 452v4h1v-4zM295 447v5h1v-5zM296 443v4h1v-4zM297 439v4h1v-4zM298 435v4h1v-4zM299 431v4h1v-4zM300 427v4h1v-4zM301 422v5h1v-5zM302 417v5h1v-5zM303 411v6h1v-6zM304 406v5h1v-5zM305 401v5h1v-5zM306 395v6h1v-6zM307 390v5h1v-5zM308 384v6h1v-6zM309 380v4h1v-4zM310 377v3h1v-3zM311 374v3h1v-3zM312 371v3h1v-3zM313 368v3h1v-3zM314 364v4h1v-4zM315 360v4h1v-4zM316 356v4h1v-4zM317 353v3h1v-3zM318 351v2h1v-2zM319 349v2h1v-2zM320 347v2h1v-2zM321 345v2h1v-2zM322 346v2h1v-2zM323 348v2h1v-2zM324 350v2h1v-2zM325 352v1h1v-1zM326 353v1h1v-1zM327 354v1h1v-1zM328 354v1h1v-1zM329 355v1h1v-1zM330 356v1h1v-1zM331 357v2h1v-2zM332 359v1h1v-1zM333 360v2h1v-2zM334 362v2h1v-2zM335 364v3h1v-3zM336 367v2h1v-2zM337 369v2h1v-2zM338 371v2h1v-2zM339 373v1h1v-1zM340 374v2h1v-2zM341 376v1h1v-1zM342 377v1h1v-1zM343 378v1h1v-1zM344 379v1h1v-1zM345 380v3h1v-3zM346 383v4h1v-4zM347 387v4h1v-4zM348 391v4h1v-4zM349 395v4h1v-4zM350 399v3h1v-3zM351 402v4h1v-4zM352 406v3h1v-3zM353 409v2h1v-2zM354 411v2h1v-2zM355 413v1h1v-1zM356 414v2h1v-2zM357 416v1h1v-1zM358 417v2h1v-2zM359 419v2h1v-2zM360 421v2h1v-2zM361 423v2h1v-2zM362 425v2h1v-2zM363 427v2h1v-2zM364 429v2h1v-2zM365 431v1h1v-1zM366 431v1h1v-1zM367 432v1h1v-1zM368 432v1h1v-1zM369 432v1h1v-1zM370 430v2h1v-2zM371 428v2h1v-2zM372 426v2h1v-2zM373 423v3h1v-3zM374 419v4h1v-4zM375 415v4h1v-4zM376 411v4h1v-4zM377 406v5h1v-5zM378 401v5h1v-5zM379 396v5h1v-5zM380 391v5h1v-5zM381 386v5h1v-5zM382 381v5h1v-5zM383 377v4h1v-4zM384 372v5h1v-5zM385 366v6h1v-6zM386 358v8h1v-8zM387 350v8h1v-8zM388 342v8h1v-8zM389 335v7h1v-7zM390 327v8h1v-8zM391 319v8h1v-8zM392 311v8h1v-8zM393 303v8h1v-8zM394 296v7h1v-7zM395 290v6h1v-6zM396 283v7h1v-7zM397 278v5h1v-5zM398 274v4h1v-4zM399 271v3h1v-3zM400 267v4h1v-4zM401 264v3h1v-3zM402 261v3h1v-3zM403 258v3h1v-3zM404 255v3h1v-3zM405 253v2h1v-2zM406 252v1h1v-1zM407 250v2h1v-2zM408 249v1h1v-1zM409 248v1h1v-1zM410 249v2h1v-2zM411 251v1h1v-1zM412 252v2h1v-2zM413 254v2h1v-2zM414 256v3h1v-3zM415 259v4h1v-4zM416 263v3h1v-3zM417 266v3h1v-3zM418 269v3h1v-3zM419 272v3h1v-3zM420 275v3h1v-3zM421 278v2h1v-2zM422 280v2h1v-2zM423 282v2h1v-2zM424 284v2h1v-2zM425 286v2h1v-2zM426 288v2h1v-2zM427 290v3h1v-3zM428 293v2h1v-2zM429 295v2h1v-2zM430 297v2h1v-2zM431 299v2h1v-2zM432 301v2h1v-2zM433 303v1h1v-1zM434 304v2h1v-2zM435 306v2h1v-2zM436 308v2h1v-2zM437 310v2h1v-2zM438 309v2h1v-2zM439 307v2h1v-2zM440 305v2h1v-2zM441 302v3h1v-3zM442 300v2h1v-2zM443 297v3h1v-3zM444 295v2h1v-2zM445 292v3h1v-3zM446 290v2h1v-2zM447 288v2h1v-2zM448 286v2h1v-2zM449 284v2h1v-2zM450 282v2h1v-2zM451 281v1h1v-1zM452 279v2h1v-2zM453 278v1h1v-1zM454 277v1h1v-1zM455 275v2h1v-2zM456 274v1h1v-1zM457 272v2h1v-2zM458 270v2h1v-2zM459 268v2h1v-2zM460 266v2h1v-2zM461 263v3h1v-3zM462 259v4h1v-4zM463 255v4h1v-4zM464 251v4h1v-4zM465 248v3h1v-3zM466 249v1h1v-1zM467 249v1h1v-1zM468 250v1h1v-1zM469 250v1h1v-1zM470 251v2h1v-2zM471 253v2h1v-2zM472 255v2h1v-2zM473 257v2h1v-2zM474 259v3h1v-3zM475 262v4h1v-4zM476 266v3h1v-3zM477 269v2h1v-2zM478 271v2h1v-2zM479 273v1h1v-1zM480 274v2h1v-2zM481 276v1h1v-1zM482 277v1h1v-1zM483 278v1h1v-1zM484 278v1h1v-1zM485 279v1h1v-1zM486 280v2h1v-2zM487 282v1h1v-1zM488 283v2h1v-2zM489 285v1h1v-1zM490 286v1h1v-1zM491 287v1h1v-1zM492 288v1h1v-1zM493 289v1h1v-1zM494 288v1h1v-1zM495 288v1h1v-1zM496 287v1h1v-1zM497 287v1h1v-1zM498 288v1h1v-1zM499 289v1h1v-1zM500 290v1h1v-1zM501 291v1h1v-1zM502 290v1h1v-1zM503 290v1h1v-1zM504 289v1h1v-1zM505 289v1h1v-1zM506 290v1h1v-1zM507 291v1h1v-1zM508 291v1h1v-1zM509 292v1h1v-1zM510 291v1h1v-1zM511 290v1h1v-1zM512 289v1h1v-1zM513 288v1h1v-1zM514 289v1h1v-1zM515 290v1h1v-1zM516 291v1h1v-1zM517 292v1h1v-1zM518 293v2h1v-2zM519 295v1h1v-1zM520 296v2h1v-2zM521 298v1h1v-1zM522 298v1h1v-1zM523 298v1h1v-1zM524 298v1h1v-1zM525 298v1h1v-1zM526 297v1h1v-1zM527 295v2h1v-2zM528 294v1h1v-1zM529 293v1h1v-1zM530 292v1h1v-1zM531 292v1h1v-1zM532 291v1h1v-1zM533 291v1h1v-1zM534 289v2h1v-2zM535 288v1h1v-1zM536 286v2h1v-2zM537 285v1h1v-1zM538 285v1h1v-1zM539 285v1h1v-1zM540 285v1h1v-1zM541 285v1h1v-1zM542 284v1h1v-1zM543 283v1h1v-1zM544 283v1h1v-1zM545 281v2h1v-2zM546 278v3h1v-3zM547 276v2h1v-2zM548 273v3h1v-3zM549 270v3h1v-3zM550 267v3h1v-3zM551 263v4h1v-4zM552 260v3h1v-3zM553 257v3h1v-3zM554 253v4h1v-4zM555 250v3h1v-3zM556 246v4h1v-4zM557 243v3h1v-3zM558 240v3h1v-3zM559 238v2h1v-2zM560 235v3h1v-3zM561 232v3h1v-3zM562 230v2h1v-2zM563 227v3h1v-3zM564 225v2h1v-2zM565 222v3h1v-3zM566 220v2h1v-2zM567 218v2h1v-2zM568 216v2h1v-2zM569 214v2h1v-2zM570 213v1h1v-1zM571 212v1h1v-1zM572 212v1h1v-1zM573 211v1h1v-1zM574 211v1h1v-1zM575 210v1h1v-1zM576 210v1h1v-1zM577 210v1h1v-1zM578 211v1h1v-1zM579 211v1h1v-1zM580 212v1h1v-1zM581 212v1h1v-1zM582 213v2h1v-2zM583 215v1h1v-1zM584 216v2h1v-2zM585 218v1h1v-1zM586 217v1h1v-1zM587 217v1h1v-1zM588 216v1h1v-1zM589 216v1h1v-1zM590 217v1h1v-1zM591 217v1h1v-1zM592 218v1h1v-1zM593 218v1h1v-1zM594 217v1h1v-1zM595 217v1h1v-1zM596 216v1h1v-1zM597 215v2h1v-2zM598 213v2h1v-2zM599 211v2h1v-2zM600 209v2h1v-2zM601 207v2h1v-2zM602 206v1h1v-1zM603 205v1h1v-1zM604 205v1h1v-1zM605 204v1h1v-1zM606 205v2h1v-2zM607 207v1h1v-1zM608 208v2h1v-2zM609 210v1h1v-1zM610 209v1h1v-1zM611 209v1h1v-1zM612 208v1h1v-1zM613 208v1h1v-1zM614 208v1h1v-1zM615 208v1h1v-1zM616 208v1h1v-1zM617 208v1h1v-1zM618 207v1h1v-1zM619 207v1h1v-1zM620 206v1h1v-1zM621 206v1h1v-1zM622 207v1h1v-1zM623 208v1h1v-1zM624 209v1h1v-1zM625 210v1h1v-1zM626 210v1h1v-1zM627 211v1h1v-1zM628 211v1h1v-1zM629 211v1h1v-1zM630 212v1h1v-1zM631 212v1h1v-1zM632 213v1h1v-1zM633 213v1h1v-1zM634 212v1h1v-1zM635 212v1h1v-1zM636 211v1h1v-1zM637 211v1h1v-1zM638 211v1h1v-1zM639 212v1h1v-1zM640 212v1h1v-1zM641 212v2h1v-2zM642 214v2h1v-2zM643 216v2h1v-2zM644 218v2h1v-2zM645 220v2h1v-2zM646 222v1h1v-1zM647 222v1h1v-1zM648 223v1h1v-1zM649 223v1h1v-1zM650 222v1h1v-1zM651 221v1h1v-1zM652 220v1h1v-1zM653 219v1h1v-1zM654 220v1h1v-1zM655 221v1h1v-1zM656 221v1h1v-1zM657 222v1h1v-1zM658 222v1h1v-1zM659 223v1h1v-1zM660 223v1h1v-1zM661 223v1h1v-1zM662 223v1h1v-1zM663 224v1h1v-1zM664 224v1h1v-1zM665 224v1h1v-1zM666 222v2h1v-2zM667 220v2h1v-2zM668 218v2h1v-2zM669 216v2h1v-2zM670 213v3h1v-3zM671 210v3h1v-3zM672 207v3h1v-3zM673 204v3h1v-3zM674 201v3h1v-3zM675 199v2h1v-2zM676 196v3h1v-3zM677 194v2h1v-2zM678 193v1h1v-1zM679 191v2h1v-2zM680 190v1h1v-1zM681 188v2h1v-2zM682 186v2h1v-2zM683 184v2h1v-2zM684 182v2h1v-2zM685 180v2h1v-2zM686 180v1h1v-1zM687 179v1h1v-1zM688 179v1h1v-1zM689 179v1h1v-1zM690 180v1h1v-1zM691 181v2h1v-2zM692 183v1h1v-1zM693 184v1h1v-1zM694 185v2h1v-2zM695 187v2h1v-2zM696 189v2h1v-2zM697 191v4h1v-4zM698 195v4h1v-4zM699 199v4h1v-4zM700 203v4h1v-4zM701 207v6h1v-6zM702 213v7h1v-7zM703 220v8h1v-8zM704 228v7h1v-7zM705 235v7h1v-7zM706 242v7h1v-7zM707 249v7h1v-7zM708 256v7h1v-7zM709 263v7h1v-7zM710 270v7h1v-7zM711 277v7h1v-7zM712 284v7h1v-7zM713 291v6h1v-6zM714 297v4h1v-4zM715 301v4h1v-4zM716 305v4h1v-4zM717 309v3h1v-3zM718 312v2h1v-2zM719 314v2h1v-2zM720 316v2h1v-2zM721 318v2h1v-2zM722 320v2h1v-2zM723 322v3h1v-3zM724 325v2h1v-2zM725 327v2h1v-2zM726 326v2h1v-2zM727 324v2h1v-2zM728 322v2h1v-2zM729 320v2h1v-2zM730 316v4h1v-4zM731 312v4h1v-4zM732 308v4h1v-4zM733 305v3h1v-3zM734 301v4h1v-4zM735 297v4h1v-4zM736 293v4h1v-4zM737 289v4h1v-4zM738 286v3h1v-3zM739 283v3h1v-3zM740 280v3h1v-3zM741 278v2h1v-2zM742 278v1h1v-1zM743 279v1h1v-1zM744 279v1h1v-1zM745 279v3h1v-3zM746 282v4h1v-4zM747 286v4h1v-4zM748 290v4h1v-4zM749 294v4h1v-4zM750 298v3h1v-3zM751 301v4h1v-4zM752 305v3h1v-3zM753 308v4h1v-4zM754 312v6h1v-6zM755 318v6h1v-6zM756 324v6h1v-6zM757 330v7h1v-7zM758 337v6h1v-6zM759 343v6h1v-6zM760 349v6h1v-6zM761 355v7h1v-7zM762 362v6h1v-6zM763 368v7h1v-7zM764 375v6h1v-6zM765 381v7h1v-7zM766 388v7h1v-7zM767 395v6h1v-6zM768 401v7h1v-7zM769 408v6h1v-6zM770 414v5h1v-5zM771 419v4h1v-4zM772 423v5h1v-5zM773 428v4h1v-4zM774 432v3h1v-3zM775 435v3h1v-3zM776 438v3h1v-3zM777 441v3h1v-3zM778 444v3h1v-3zM779 447v4h1v-4zM780 451v3h1v-3zM781 454v2h1v-2zM782 456v2h1v-2zM783 458v2h1v-2zM784 460v2h1v-2zM785 462v2h1v-2zM786 464v2h1v-2zM787 466v2h1v-2zM788 468v2h1v-2zM789 470v3h1v-3zM790 473v3h1v-3zM791 476v4h1v-4zM792 480v3h1v-3zM793 483v3h1v-3zM794 486v2h1v-2zM795 488v2h1v-2zM796 490v2h1v-2zM797 492v2h1v-2zM798 493v1h1v-1zM799 494v1h1v-1zM800 494v1h1v-1zM801 494v1h1v-1zM802 494v1h1v-1zM803 494v1h1v-1zM804 494v1h1v-1zM805 494v1h1v-1zM806 493v1h1v-1zM807 493v1h1v-1zM808 492v1h1v-1zM809 492v1h1v-1zM810 492v1h1v-1zM811 493v1h1v-1zM812 493v1h1v-1zM813 493v1h1v-1zM814 494v1h1v-1zM815 495v1h1v-1zM816 495v1h1v-1zM817 496v1h1v-1zM818 496v1h1v-1zM819 495v1h1v-1zM820 495v1h1v-1zM821 495v1h1v-1zM822 496v1h1v-1zM823 496v1h1v-1zM824 497v1h1v-1zM825 497v1h1v-1zM826 498v1h1v-1zM827 499v2h1v-2zM828 501v1h1v-1zM829 502v1h1v-1zM830 503v1h1v-1zM831 504v1h1v-1zM832 504v1h1v-1zM833 505v1h1v-1zM834 506v1h1v-1zM835 506v1h1v-1zM836 507v1h1v-1zM837 507v1h1v-1zM838 508v2h1v-2zM839 510v2h1v-2zM840 512v2h1v-2zM841 514v2h1v-2zM842 516v1h1v-1zM843 517v1h1v-1zM844 518v1h1v-1zM845 519v1h1v-1zM846 519v1h1v-1zM847 520v1h1v-1zM848 520v1h1v-1zM849 520v1h1v-1zM850 519v1h1v-1zM851 518v1h1v-1zM852 518v1h1v-1zM853 516v2h1v-2zM854 514v2h1v-2zM855 511v3h1v-3zM856 509v2h1v-2zM857 506v3h1v-3zM858 504v2h1v-2zM859 501v3h1v-3zM860 499v2h1v-2zM861 497v2h1v-2zM862 495v2h1v-2zM863 493v2h1v-2zM864 491v2h1v-2zM865 489v2h1v-2zM866 486v3h1v-3zM867 484v2h1v-2zM868 481v3h1v-3zM869 478v3h1v-3zM870 474v4h1v-4zM871 470v4h1v-4zM872 466v4h1v-4zM873 463v3h1v-3zM874 460v3h1v-3zM875 457v3h1v-3zM876 454v3h1v-3zM877 451v3h1v-3zM878 448v3h1v-3zM879 445v3h1v-3zM880 442v3h1v-3zM881 440v2h1v-2zM882 439v1h1v-1zM883 439v1h1v-1zM884 438v1h1v-1zM885 438v1h1v-1zM886 436v2h1v-2zM887 435v1h1v-1zM888 433v2h1v-2zM889 432v1h1v-1zM890 430v2h1v-2zM891 428v2h1v-2zM892 426v2h1v-2zM893 424v2h1v-2zM894 423v1h1v-1zM895 421v2h1v-2zM896 420v1h1v-1zM897 419v1h1v-1zM898 418v1h1v-1zM899 417v1h1v-1zM900 417v1h1v-1zM901 416v1h1v-1zM902 415v1h1v-1zM903 413v2h1v-2zM904 412v1h1v-1zM905 410v2h1v-2zM906 407v3h1v-3zM907 403v4h1v-4zM908 400v3h1v-3zM909 396v4h1v-4zM910 392v4h1v-4zM911 387v5h1v-5zM912 383v4h1v-4zM913 380v3h1v-3zM914 379v1h1v-1zM915 378v1h1v-1zM916 377v1h1v-1zM917 376v1h1v-1zM918 376v1h1v-1zM919 377v1h1v-1zM920 377v1h1v-1zM921 377v1h1v-1zM922 377v1h1v-1zM923 376v1h1v-1zM924 376v1h1v-1zM925 376v1h1v-1zM926 375v1h1v-1zM927 374v1h1v-1zM928 373v1h1v-1zM929 372v1h1v-1zM930 372v1h1v-1zM931 372v1h1v-1zM932 372v1h1v-1zM933 372v1h1v-1zM934 371v1h1v-1zM935 370v1h1v-1zM936 370v1h1v-1zM937 369v1h1v-1zM938 369v1h1v-1zM939 368v1h1v-1zM940 368v1h1v-1zM941 368v1h1v-1zM942 367v1h1v-1zM943 366v1h1v-1zM944 365v1h1v-1zM945 364v1h1v-1zM946 362v2h1v-2zM947 361v1h1v-1zM948 359v2h1v-2zM949 357v2h1v-2zM950 354v3h1v-3zM951 351v3h1v-3zM952 348v3h1v-3zM953 345v3h1v-3zM954 343v2h1v-2zM955 341v2h1v-2zM956 339v2h1v-2zM957 337v2h1v-2zM958 335v2h1v-2zM959 333v2h1v-2zM960 331v2h1v-2zM961 329v2h1v-2zM962 329v1h1v-1zM963 330v1h1v-1zM964 330v1h1v-1zM965 330v1h1v-1zM966 330v1h1v-1zM967 330v1h1v-1zM968 330v1h1v-1zM969 330v1h1v-1zM970 329v1h1v-1zM971 327v2h1v-2zM972 326v1h1v-1zM973 325v1h1v-1zM974 325v1h1v-1zM975 326v1h1v-1zM976 326v1h1v-1zM977 326v1h1v-1zM978 327v1h1v-1zM979 328v2h1v-2zM980 330v1h1v-1zM981 331v1h1v-1zM982 331v1h1v-1zM983 332v1h1v-1zM984 332v1h1v-1zM985 332v1h1v-1zM986 332v1h1v-1zM987 333v1h1v-1zM988 333v1h1v-1zM989 333v1h1v-1zM990 332v1h1v-1zM991 331v1h1v-1zM992 331v1h1v-1zM993 330v1h1v-1zM994 330v1h1v-1zM995 330v1h1v-1zM996 330v1h1v-1zM997 330v1h1v-1zM998 329v1h1v-1zM999 329v1h1v-1zM1000 328v1h1v-1zM1001 327v2h1v-2zM1002 325v2h1v-2zM1003 322v3h1v-3zM1004 320v2h1v-2zM1005 318v2h1v-2zM1006 319v2h1v-2zM1007 321v2h1v-2zM1008 323v2h1v-2zM1009 325v2h1v-2zM1010 327v2h1v-2zM1011 329v2h1v-2zM1012 331v2h1v-2zM1013 333v3h1v-3zM1014 336v3h1v-3zM1015 339v3h1v-3zM1016 342v3h1v-3zM1017 345v4h1v-4zM1018 349v4h1v-4zM1019 353v4h1v-4zM1020 357v4h1v-4zM1021 361v4h1v-4zM1022 365v4h1v-4zM1023 369v4h1v-4zM1024 373v4h1v-4zM1025 377v5h1v-5zM1026 382v5h1v-5zM1027 387v6h1v-6zM1028 393v5h1v-5zM1029 398v5h1v-5zM1030 403v4h1v-4zM1031 407v4h1v-4zM1032 411v4h1v-4zM1033 415v3h1v-3zM1034 417v1h1v-1zM1035 418v1h1v-1zM1036 418v1h1v-1zM1037 418v1h1v-1zM1038 416v2h1v-2zM1039 415v1h1v-1zM1040 413v2h1v-2zM1041 412v1h1v-1zM1042 411v1h1v-1zM1043 410v1h1v-1zM1044 409v1h1v-1zM1045 408v1h1v-1zM1046 406v2h1v-2zM1047 404v2h1v-2zM1048 402v2h1v-2zM1049 400v2h1v-2zM1050 398v2h1v-2zM1051 396v2h1v-2zM1052 394v2h1v-2zM1053 390v4h1v-4zM1054 386v4h1v-4zM1055 382v4h1v-4zM1056 378v4h1v-4zM1057 375v3h1v-3zM1058 373v2h1v-2zM1059 371v2h1v-2zM1060 369v2h1v-2zM1061 367v2h1v-2zM1062 365v2h1v-2zM1063 363v2h1v-2zM1064 361v2h1v-2zM1065 359v2h1v-2zM1066 360v1h1v-1zM1067 360v1h1v-1zM1068 361v1h1v-1zM1069 361v1h1v-1zM1070 360v1h1v-1zM1071 358v2h1v-2zM1072 357v1h1v-1zM1073 356v1h1v-1zM1074 356v1h1v-1zM1075 356v1h1v-1zM1076 356v1h1v-1zM1077 356v1h1v-1zM1078 355v1h1v-1zM1079 355v1h1v-1zM1080 354v1h1v-1zM1081 354v1h1v-1zM1082 355v1h1v-1zM1083 356v1h1v-1zM1084 357v1h1v-1zM1085 358v1h1v-1zM1086 358v1h1v-1zM1087 359v1h1v-1zM1088 359v1h1v-1zM1089 359v1h1v-1zM1090 360v1h1v-1zM1091 361v2h1v-2zM1092 363v1h1v-1zM1093 364v1h1v-1zM1094 365v1h1v-1zM1095 365v1h1v-1zM1096 366v1h1v-1zM1097 366v1h1v-1zM1098 367v1h1v-1zM1099 368v2h1v-2zM1100 370v1h1v-1zM1101 370v2h1v-2zM1102 368v2h1v-2zM1103 365v3h1v-3zM1104 363v2h1v-2zM1105 361v2h1v-2zM1106 359v2h1v-2zM1107 357v2h1v-2zM1108 355v2h1v-2zM1109 353v2h1v-2zM1110 351v2h1v-2zM1111 350v1h1v-1zM1112 348v2h1v-2zM1113 347v1h1v-1zM1114 345v2h1v-2zM1115 343v2h1v-2zM1116 341v2h1v-2zM1117 340v1h1v-1zM1118 338v2h1v-2zM1119 336v2h1v-2zM1120 334v2h1v-2zM1121 332v2h1v-2zM1122 330v2h1v-2zM1123 328v2h1v-2zM1124 326v2h1v-2zM1125 323v3h1v-3zM1126 320v3h1v-3zM1127 318v2h1v-2zM1128 315v3h1v-3zM1129 313v2h1v-2z" fill="#0000cd"/></g><clipPath id="c2"><rect x="5" y="563" width="1415" height="102"/></clipPath><g clip-path="url(#c2)"><rect x="5" y="591" width="1" height="27" fill="#c0c0c0"/><rect x="9" y="593" width="1" height="25" fill="#c0c0c0"/><rect x="13" y="595" width="1" height="23" fill="#c0c0c0"/><rect x="17" y="598" width="1" height="20" fill="#c0c0c0"/><rect x="21" y="599" width="1" height="19" fill="#c0c0c0"/><rect x="25" y="595" width="1" height="23" fill="#c0c0c0"/><rect x="29" y="595" width="1" height="23" fill="#c0c0c0"/><rect x="33" y="597" width="1" height="21" fill="#c0c0c0"/><rect x="37" y="597" width="1" height="21" fill="#c0c0c0"/><rect x="41" y="597" width="1" height="21" fill="#c0c0c0"/><rect x="45" y="597" width="1" height="21" fill="#c0c0c0"/><rect x="49" y="595" width="1" height="23" fill="#c0c0c0"/><rect x="53" y="594" width="1" height="24" fill="#c0c0c0"/><rect x="57" y="594" width="1" height="24" fill="#c0c0c0"/><rect x="61" y="594" width="1" height="24" fill="#c0c0c0"/><rect x="65" y="595" width="1" height="23" fill="#c0c0c0"/><rect x="69" y="599" width="1" height="19" fill="#c0c0c0"/><rect x="73" y="600" width="1" height="18" fill="#c0c0c0"/><rect x="77" y="596" width="1" height="22" fill="#c0c0c0"/><rect x="81" y="592" width="1" height="26" fill="#c0c0c0"/><rect x="85" y="594" width="1" height="24" fill="#c0c0c0"/><rect x="89" y="594" width="1" height="24" fill="#c0c0c0"/><rect x="93" y="591" width="1" height="27" fill="#c0c0c0"/><rect x="97" y="590" width="1" height="28" fill="#c0c0c0"/><rect x="101" y="591" width="1" height="27" fill="#c0c0c0"/><rect x="105" y="591" width="1" height="27" fill="#c0c0c0"/><rect x="109" y="591" width="1" height="27" fill="#c0c0c0"/><rect x="113" y="591" width="1" height="27" fill="#c0c0c0"/><rect x="117" y="590" width="1" height="28" fill="#c0c0c0"/><rect x="121" y="588" width="1" height="30" fill="#c0c0c0"/><rect x="125" y="586" width="1" height="32" fill="#c0c0c0"/><rect x="129" y="583" width="1" height="35" fill="#c0c0c0"/><rect x="133" y="578" width="1" height="40" fill="#c0c0c0"/><rect x="137" y="574" width="1" height="44" fill="#c0c0c0"/><rect x="141" y="572" width="1" height="46" fill="#c0c0c0"/><rect x="145" y="571" width="1" height="47" fill="#c0c0c0"/><rect x="149" y="571" width="1" height="47" fill="#c0c0c0"/><rect x="153" y="570" width="1" height="48" fill="#c0c0c0"/><rect x="157" y="568" width="1" height="50" fill="#c0c0c0"/><rect x="161" y="568" width="1" height="50" fill="#c0c0c0"/><rect x="165" y="569" width="1" height="49" fill="#c0c0c0"/><rect x="169" y="570" width="1" height="48" fill="#c0c0c0"/><rect x="173" y="571" width="1" height="47" fill="#c0c0c0"/><rect x="177" y="579" width="1" height="39" fill="#c0c0c0"/><rect x="181" y="589" width="1" height="29" fill="#c0c0c0"/><rect x="185" y="598" width="1" height="20" fill="#c0c0c0"/><rect x="189" y="608" width="1" height="10" fill="#c0c0c0"/><rect x="193" y="617" width="1" height="3" fill="#c0c0c0"/><rect x="197" y="617" width="1" height="12" fill="#c0c0c0"/><rect x="201" y="617" width="1" height="18" fill="#c0c0c0"/><rect x="205" y="617" width="1" height="22" fill="#c0c0c0"/><rect x="209" y="617" width="1" height="24" fill="#c0c0c0"/><rect x="213" y="617" width="1" height="25" fill="#c0c0c0"/><rect x="217" y="617" width="1" height="27" fill="#c0c0c0"/><rect x="221" y="617" width="1" height="28" fill="#c0c0c0"/><rect x="225" y="617" width="1" height="27" fill="#c0c0c0"/><rect x="229" y="617" width="1" height="27" fill="#c0c0c0"/><rect x="233" y="617" width="1" height="26" fill="#c0c0c0"/><rect x="237" y="617" width="1" height="25" fill="#c0c0c0"/><rect x="241" y="617" width="1" height="21" fill="#c0c0c0"/><rect x="245" y="617" width="1" height="18" fill="#c0c0c0"/><rect x="249" y="617" width="1" height="15" fill="#c0c0c0"/><rect x="253" y="617" width="1" height="18" fill="#c0c0c0"/><rect x="257" y="617" width="1" height="20" fill="#c0c0c0"/><rect x="261" y="617" width="1" height="20" fill="#c0c0c0"/><rect x="265" y="617" width="1" height="19" fill="#c0c0c0"/><rect x="269" y="617" width="1" height="24" fill="#c0c0c0"/><rect x="273" y="617" width="1" height="28" fill="#c0c0c0"/><rect x="277" y="617" width="1" height="32" fill="#c0c0c0"/><rect x="281" y="617" width="1" height="35" fill="#c0c0c0"/><rect x="285" y="617" width="1" height="35" fill="#c0c0c0"/><rect x="289" y="617" width="1" height="35" fill="#c0c0c0"/><rect x="293" y="617" width="1" height="31" fill="#c0c0c0"/><rect x="297" y="617" width="1" height="24" fill="#c0c0c0"/><rect x="301" y="617" width="1" height="20" fill="#c0c0c0"/><rect x="305" y="617" width="1" height="16" fill="#c0c0c0"/><rect x="309" y="617" width="1" height="11" fill="#c0c0c0"/><rect x="313" y="617" width="1" height="11" fill="#c0c0c0"/><rect x="317" y="617" width="1" height="9" fill="#c0c0c0"/><rect x="321" y="617" width="1" height="6" fill="#c0c0c0"/><rect x="325" y="617" width="1" height="5" fill="#c0c0c0"/><rect x="329" y="617" width="1" height="5" fill="#c0c0c0"/><rect x="333" y="617" width="1" height="6" fill="#c0c0c0"/><rect x="337" y="617" width="1" height="7" fill="#c0c0c0"/><rect x="341" y="617" width="1" height="9" fill="#c0c0c0"/><rect x="345" y="617" width="1" height="9" fill="#c0c0c0"/><rect x="349" y="617" width="1" height="12" fill="#c0c0c0"/><rect x="353" y="617" width="1" height="14" fill="#c0c0c0"/><rect x="357" y="617" width="1" height="14" fill="#c0c0c0"/><rect x="361" y="617" width="1" height="15" fill="#c0c0c0"/><rect x="365" y="617" width="1" height="16" fill="#c0c0c0"/><rect x="369" y="617" width="1" height="15" fill="#c0c0c0"/><rect x="373" y="617" width="1" height="10" fill="#c0c0c0"/><rect x="377" y="617" width="1" height="5" fill="#c0c0c0"/><rect x="381" y="617" width="1" height="1" fill="#c0c0c0"/><rect x="385" y="612" width="1" height="6" fill="#c0c0c0"/><rect x="389" y="604" width="1" height="14" fill="#c0c0c0"/><rect x="393" y="598" width="1" height="20" fill="#c0c0c0"/><rect x="397" y="595" width="1" height="23" fill="#c0c0c0"/><rect x="401" y="593" width="1" height="25" fill="#c0c0c0"/><rect x="405" y="592" width="1" height="26" fill="#c0c0c0"/><rect x="409" y="593" width="1" height="25" fill="#c0c0c0"/><rect x="413" y="597" width="1" height="21" fill="#c0c0c0"/><rect x="417" y="599" width="1" height="19" fill="#c0c0c0"/><rect x="421" y="600" width="1" height="18" fill="#c0c0c0"/><rect x="425" y="601" width="1" height="17" fill="#c0c0c0"/><rect x="429" y="603" width="1" height="15" fill="#c0c0c0"/><rect x="433" y="604" width="1" height="14" fill="#c0c0c0"/><rect x="437" y="607" width="1" height="11" fill="#c0c0c0"/><rect x="441" y="606" width="1" height="12" fill="#c0c0c0"/><rect x="445" y="604" width="1" height="14" fill="#c0c0c0"/><rect x="449" y="602" width="1" height="16" fill="#c0c0c0"/><rect x="453" y="601" width="1" height="17" fill="#c0c0c0"/><rect x="457" y="602" width="1" height="16" fill="#c0c0c0"/><rect x="461" y="601" width="1" height="17" fill="#c0c0c0"/><rect x="465" y="600" width="1" height="18" fill="#c0c0c0"/><rect x="469" y="602" width="1" height="16" fill="#c0c0c0"/><rect x="473" y="605" width="1" height="13" fill="#c0c0c0"/><rect x="477" y="608" width="1" height="10" fill="#c0c0c0"/><rect x="481" y="610" width="1" height="8" fill="#c0c0c0"/><rect x="485" y="611" width="1" height="7" fill="#c0c0c0"/><rect x="489" y="611" width="1" height="7" fill="#c0c0c0"/><rect x="493" y="610" width="1" height="8" fill="#c0c0c0"/><rect x="497" y="610" width="1" height="8" fill="#c0c0c0"/><rect x="501" y="613" width="1" height="5" fill="#c0c0c0"/><rect x="505" y="614" width="1" height="4" fill="#c0c0c0"/><rect x="509" y="616" width="1" height="2" fill="#c0c0c0"/><rect x="513" y="615" width="1" height="3" fill="#c0c0c0"/><rect x="517" y="616" width="1" height="2" fill="#c0c0c0"/><rect x="521" y="617" width="1" height="1" fill="#c0c0c0"/><rect x="525" y="616" width="1" height="2" fill="#c0c0c0"/><rect x="529" y="616" width="1" height="2" fill="#c0c0c0"/><rect x="533" y="616" width="1" height="2" fill="#c0c0c0"/><rect x="537" y="615" width="1" height="3" fill="#c0c0c0"/><rect x="541" y="614" width="1" height="4" fill="#c0c0c0"/><rect x="545" y="614" width="1" height="4" fill="#c0c0c0"/><rect x="549" y="612" width="1" height="6" fill="#c0c0c0"/><rect x="553" y="607" width="1" height="11" fill="#c0c0c0"/><rect x="557" y="604" width="1" height="14" fill="#c0c0c0"/><rect x="561" y="602" width="1" height="16" fill="#c0c0c0"/><rect x="565" y="601" width="1" height="17" fill="#c0c0c0"/><rect x="569" y="601" width="1" height="17" fill="#c0c0c0"/><rect x="573" y="604" width="1" height="14" fill="#c0c0c0"/><rect x="577" y="604" width="1" height="14" fill="#c0c0c0"/><rect x="581" y="603" width="1" height="15" fill="#c0c0c0"/><rect x="585" y="604" width="1" height="14" fill="#c0c0c0"/><rect x="589" y="603" width="1" height="15" fill="#c0c0c0"/><rect x="593" y="604" width="1" height="14" fill="#c0c0c0"/><rect x="597" y="603" width="1" height="15" fill="#c0c0c0"/><rect x="601" y="603" width="1" height="15" fill="#c0c0c0"/><rect x="605" y="603" width="1" height="15" fill="#c0c0c0"/><rect x="609" y="606" width="1" height="12" fill="#c0c0c0"/><rect x="613" y="607" width="1" height="11" fill="#c0c0c0"/><rect x="617" y="606" width="1" height="12" fill="#c0c0c0"/><rect x="621" y="607" width="1" height="11" fill="#c0c0c0"/><rect x="625" y="608" width="1" height="10" fill="#c0c0c0"/><rect x="629" y="608" width="1" height="10" fill="#c0c0c0"/><rect x="633" y="609" width="1" height="9" fill="#c0c0c0"/><rect x="637" y="610" width="1" height="8" fill="#c0c0c0"/><rect x="641" y="611" width="1" height="7" fill="#c0c0c0"/><rect x="645" y="613" width="1" height="5" fill="#c0c0c0"/><rect x="649" y="614" width="1" height="4" fill="#c0c0c0"/><rect x="653" y="613" width="1" height="5" fill="#c0c0c0"/><rect x="657" y="613" width="1" height="5" fill="#c0c0c0"/><rect x="661" y="614" width="1" height="4" fill="#c0c0c0"/><rect x="665" y="614" width="1" height="4" fill="#c0c0c0"/><rect x="669" y="612" width="1" height="6" fill="#c0c0c0"/><rect x="673" y="610" width="1" height="8" fill="#c0c0c0"/><rect x="677" y="608" width="1" height="10" fill="#c0c0c0"/><rect x="681" y="606" width="1" height="12" fill="#c0c0c0"/><rect x="685" y="605" width="1" height="13" fill="#c0c0c0"/><rect x="689" y="608" width="1" height="10" fill="#c0c0c0"/><rect x="693" y="612" width="1" height="6" fill="#c0c0c0"/><rect x="697" y="614" width="1" height="4" fill="#c0c0c0"/><rect x="701" y="617" width="1" height="3" fill="#c0c0c0"/><rect x="705" y="617" width="1" height="10" fill="#c0c0c0"/><rect x="709" y="617" width="1" height="15" fill="#c0c0c0"/><rect x="713" y="617" width="1" height="19" fill="#c0c0c0"/><rect x="717" y="617" width="1" height="22" fill="#c0c0c0"/><rect x="721" y="617" width="1" height="21" fill="#c0c0c0"/><rect x="725" y="617" width="1" height="21" fill="#c0c0c0"/><rect x="729" y="617" width="1" height="17" fill="#c0c0c0"/><rect x="733" y="617" width="1" height="14" fill="#c0c0c0"/><rect x="737" y="617" width="1" height="11" fill="#c0c0c0"/><rect x="741" y="617" width="1" height="10" fill="#c0c0c0"/><rect x="745" y="617" width="1" height="14" fill="#c0c0c0"/><rect x="749" y="617" width="1" height="20" fill="#c0c0c0"/><rect x="753" y="617" width="1" height="24" fill="#c0c0c0"/><rect x="757" y="617" width="1" height="27" fill="#c0c0c0"/><rect x="761" y="617" width="1" height="30" fill="#c0c0c0"/><rect x="765" y="617" width="1" height="32" fill="#c0c0c0"/><rect x="769" y="617" width="1" height="35" fill="#c0c0c0"/><rect x="773" y="617" width="1" height="39" fill="#c0c0c0"/><rect x="777" y="617" width="1" height="42" fill="#c0c0c0"/><rect x="781" y="617" width="1" height="43" fill="#c0c0c0"/><rect x="785" y="617" width="1" height="42" fill="#c0c0c0"/><rect x="789" y="617" width="1" height="42" fill="#c0c0c0"/><rect x="793" y="617" width="1" height="43" fill="#c0c0c0"/><rect x="797" y="617" width="1" height="44" fill="#c0c0c0"/><rect x="801" y="617" width="1" height="43" fill="#c0c0c0"/><rect x="805" y="617" width="1" height="42" fill="#c0c0c0"/><rect x="809" y="617" width="1" height="39" fill="#c0c0c0"/><rect x="813" y="617" width="1" height="36" fill="#c0c0c0"/><rect x="817" y="617" width="1" height="35" fill="#c0c0c0"/><rect x="821" y="617" width="1" height="34" fill="#c0c0c0"/><rect x="825" y="617" width="1" height="35" fill="#c0c0c0"/><rect x="829" y="617" width="1" height="35" fill="#c0c0c0"/><rect x="833" y="617" width="1" height="34" fill="#c0c0c0"/><rect x="837" y="617" width="1" height="31" fill="#c0c0c0"/><rect x="841" y="617" width="1" height="30" fill="#c0c0c0"/><rect x="845" y="617" width="1" height="29" fill="#c0c0c0"/><rect x="849" y="617" width="1" height="27" fill="#c0c0c0"/><rect x="853" y="617" width="1" height="26" fill="#c0c0c0"/><rect x="857" y="617" width="1" height="21" fill="#c0c0c0"/><rect x="861" y="617" width="1" height="17" fill="#c0c0c0"/><rect x="865" y="617" width="1" height="14" fill="#c0c0c0"/><rect x="869" y="617" width="1" height="10" fill="#c0c0c0"/><rect x="873" y="617" width="1" height="7" fill="#c0c0c0"/><rect x="877" y="617" width="1" height="4" fill="#c0c0c0"/><rect x="881" y="617" width="1" height="2" fill="#c0c0c0"/><rect x="885" y="617" width="1" height="1" fill="#c0c0c0"/><rect x="889" y="615" width="1" height="3" fill="#c0c0c0"/><rect x="893" y="612" width="1" height="6" fill="#c0c0c0"/><rect x="897" y="610" width="1" height="8" fill="#c0c0c0"/><rect x="901" y="609" width="1" height="9" fill="#c0c0c0"/><rect x="905" y="608" width="1" height="10" fill="#c0c0c0"/><rect x="909" y="604" width="1" height="14" fill="#c0c0c0"/><rect x="913" y="600" width="1" height="18" fill="#c0c0c0"/><rect x="917" y="600" width="1" height="18" fill="#c0c0c0"/><rect x="921" y="602" width="1" height="16" fill="#c0c0c0"/><rect x="925" y="603" width="1" height="15" fill="#c0c0c0"/><rect x="929" y="603" width="1" height="15" fill="#c0c0c0"/><rect x="933" y="604" width="1" height="14" fill="#c0c0c0"/><rect x="937" y="601" width="1" height="17" fill="#c0c0c0"/><rect x="941" y="599" width="1" height="19" fill="#c0c0c0"/><rect x="945" y="599" width="1" height="19" fill="#c0c0c0"/><rect x="949" y="600" width="1" height="18" fill="#c0c0c0"/><rect x="953" y="598" width="1" height="20" fill="#c0c0c0"/><rect x="957" y="597" width="1" height="21" fill="#c0c0c0"/><rect x="961" y="598" width="1" height="20" fill="#c0c0c0"/><rect x="965" y="598" width="1" height="20" fill="#c0c0c0"/><rect x="969" y="598" width="1" height="20" fill="#c0c0c0"/><rect x="973" y="598" width="1" height="20" fill="#c0c0c0"/><rect x="977" y="601" width="1" height="17" fill="#c0c0c0"/><rect x="981" y="602" width="1" height="16" fill="#c0c0c0"/><rect x="985" y="602" width="1" height="16" fill="#c0c0c0"/><rect x="989" y="603" width="1" height="15" fill="#c0c0c0"/><rect x="993" y="603" width="1" height="15" fill="#c0c0c0"/><rect x="997" y="603" width="1" height="15" fill="#c0c0c0"/><rect x="1001" y="602" width="1" height="16" fill="#c0c0c0"/><rect x="1005" y="602" width="1" height="16" fill="#c0c0c0"/><rect x="1009" y="606" width="1" height="12" fill="#c0c0c0"/><rect x="1013" y="610" width="1" height="8" fill="#c0c0c0"/><rect x="1017" y="615" width="1" height="3" fill="#c0c0c0"/><rect x="1021" y="617" width="1" height="3" fill="#c0c0c0"/><rect x="1025" y="617" width="1" height="7" fill="#c0c0c0"/><rect x="1029" y="617" width="1" height="10" fill="#c0c0c0"/><rect x="1033" y="617" width="1" height="11" fill="#c0c0c0"/><rect x="1037" y="617" width="1" height="11" fill="#c0c0c0"/><rect x="1041" y="617" width="1" height="7" fill="#c0c0c0"/><rect x="1045" y="617" width="1" height="7" fill="#c0c0c0"/><rect x="1049" y="617" width="1" height="6" fill="#c0c0c0"/><rect x="1053" y="617" width="1" height="5" fill="#c0c0c0"/><rect x="1057" y="617" width="1" height="2" fill="#c0c0c0"/><rect x="1061" y="617" width="1" height="1" fill="#c0c0c0"/><rect x="1065" y="616" width="1" height="2" fill="#c0c0c0"/><rect x="1069" y="615" width="1" height="3" fill="#c0c0c0"/><rect x="1073" y="615" width="1" height="3" fill="#c0c0c0"/><rect x="1077" y="616" width="1" height="2" fill="#c0c0c0"/><rect x="1081" y="615" width="1" height="3" fill="#c0c0c0"/><rect x="1085" y="615" width="1" height="3" fill="#c0c0c0"/><rect x="1089" y="615" width="1" height="3" fill="#c0c0c0"/><rect x="1093" y="616" width="1" height="2" fill="#c0c0c0"/><rect x="1097" y="617" width="1" height="1" fill="#c0c0c0"/><rect x="1101" y="617" width="1" height="2" fill="#c0c0c0"/><rect x="1105" y="614" width="1" height="4" fill="#c0c0c0"/><rect x="1109" y="611" width="1" height="7" fill="#c0c0c0"/><rect x="1113" y="610" width="1" height="8" fill="#c0c0c0"/><rect x="1117" y="609" width="1" height="9" fill="#c0c0c0"/><rect x="1121" y="609" width="1" height="9" fill="#c0c0c0"/><rect x="1125" y="608" width="1" height="10" fill="#c0c0c0"/><rect x="1129" y="607" width="1" height="11" fill="#c0c0c0"/><path d="M5 597v1h1v-1zM6 597v1h1v-1zM7 596v1h1v-1zM11 596v1h1v-1zM12 596v1h1v-1zM13 596v1h1v-1zM17 595v1h1v-1zM18 595v1h1v-1zM19 595v1h1v-1zM23 595v1h1v-1zM24 595v1h1v-1zM25 595v1h1v-1zM29 595v1h1v-1zM30 595v1h1v-1zM31 595v1h1v-1zM35 596v1h1v-1zM36 596v1h1v-1zM37 596v1h1v-1zM41 596v1h1v-1zM42 596v1h1v-1zM43 597v1h1v-1zM47 597v1h1v-1zM48 597v1h1v-1zM49 597v1h1v-1zM53 596v1h1v-1zM54 596v1h1v-1zM55 596v1h1v-1zM59 596v1h1v-1zM60 596v1h1v-1zM61 596v1h1v-1zM65 596v1h1v-1zM66 596v1h1v-1zM67 596v1h1v-1zM71 596v1h1v-1zM72 596v1h1v-1zM73 596v1h1v-1zM77 596v1h1v-1zM78 596v1h1v-1zM79 595v1h1v-1zM83 595v1h1v-1zM84 595v1h1v-1zM85 595v1h1v-1zM89 595v1h1v-1zM90 595v1h1v-1zM91 595v1h1v-1zM95 595v1h1v-1zM96 595v1h1v-1zM97 595v1h1v-1zM101 594v1h1v-1zM102 594v1h1v-1zM103 593v1h1v-1zM107 592v1h1v-1zM108 592v1h1v-1zM109 592v1h1v-1zM113 592v1h1v-1zM114 592v1h1v-1zM115 591v1h1v-1zM119 591v1h1v-1zM120 591v1h1v-1zM121 591v1h1v-1zM125 590v1h1v-1zM126 590v1h1v-1zM127 589v1h1v-1zM131 588v1h1v-1zM132 588v1h1v-1zM133 588v1h1v-1zM137 586v1h1v-1zM138 585v1h1v-1zM139 585v1h1v-1zM143 582v1h1v-1zM144 582v1h1v-1zM145 581v1h1v-1zM149 579v1h1v-1zM150 578v1h1v-1zM151 578v1h1v-1zM155 576v1h1v-1zM156 575v1h1v-1zM157 575v1h1v-1zM161 573v1h1v-1zM162 572v1h1v-1zM163 572v1h1v-1zM167 570v1h1v-1zM168 570v1h1v-1zM169 570v1h1v-1zM173 570v1h1v-1zM174 570v1h1v-1zM175 571v1h1v-1zM179 572v1h1v-1zM180 573v1h1v-1zM181 573v1h1v-1zM185 576v1h1v-1zM186 577v1h1v-1zM187 578v1h1v-1zM190 582v1h1v-1zM191 583v1h1v-1zM192 584v1h1v-1zM194 588v1h1v-1zM195 589v1h1v-1zM196 590v1h1v-1zM198 594v1h1v-1zM199 595v2h1v-2zM201 600v1h1v-1zM202 601v2h1v-2zM204 606v1h1v-1zM205 607v1h1v-1zM206 608v1h1v-1zM208 612v2h1v-2zM209 614v1h1v-1zM211 618v2h1v-2zM212 620v1h1v-1zM214 624v1h1v-1zM215 625v1h1v-1zM216 626v1h1v-1zM219 630v2h1v-2zM220 632v1h1v-1zM224 636v1h1v-1zM225 637v1h1v-1zM226 638v1h1v-1zM230 640v1h1v-1zM231 641v1h1v-1zM232 641v1h1v-1zM236 642v1h1v-1zM237 642v1h1v-1zM238 642v1h1v-1zM242 642v1h1v-1zM243 641v1h1v-1zM244 641v1h1v-1zM248 640v1h1v-1zM249 640v1h1v-1zM250 640v1h1v-1zM254 639v1h1v-1zM255 638v1h1v-1zM256 638v1h1v-1zM260 637v1h1v-1zM261 637v1h1v-1zM262 637v1h1v-1zM266 636v1h1v-1zM267 636v1h1v-1zM268 636v1h1v-1zM272 636v1h1v-1zM273 636v1h1v-1zM274 636v1h1v-1zM278 638v1h1v-1zM279 638v1h1v-1zM280 639v1h1v-1zM284 641v1h1v-1zM285 641v1h1v-1zM286 642v1h1v-1zM290 644v1h1v-1zM291 644v1h1v-1zM292 645v1h1v-1zM296 645v1h1v-1zM297 645v1h1v-1zM298 645v1h1v-1zM302 645v1h1v-1zM303 644v1h1v-1zM304 644v1h1v-1zM308 643v1h1v-1zM309 643v1h1v-1zM310 642v1h1v-1zM314 639v1h1v-1zM315 638v1h1v-1zM316 638v1h1v-1zM320 635v1h1v-1zM321 634v1h1v-1zM322 633v1h1v-1zM326 630v1h1v-1zM327 629v1h1v-1zM328 629v1h1v-1zM332 626v1h1v-1zM333 626v1h1v-1zM334 625v1h1v-1zM338 624v1h1v-1zM339 624v1h1v-1zM340 624v1h1v-1zM344 623v1h1v-1zM345 623v1h1v-1zM346 623v1h1v-1zM350 623v1h1v-1zM351 624v1h1v-1zM352 624v1h1v-1zM356 625v1h1v-1zM357 625v1h1v-1zM358 625v1h1v-1zM362 626v1h1v-1zM363 627v1h1v-1zM364 627v1h1v-1zM368 628v1h1v-1zM369 628v1h1v-1zM370 628v1h1v-1zM374 629v1h1v-1zM375 628v1h1v-1zM376 628v1h1v-1zM380 627v1h1v-1zM381 627v1h1v-1zM382 627v1h1v-1zM386 625v1h1v-1zM387 624v1h1v-1zM388 624v1h1v-1zM392 620v1h1v-1zM393 619v1h1v-1zM394 618v1h1v-1zM398 614v1h1v-1zM399 613v1h1v-1zM400 612v1h1v-1zM403 608v1h1v-1zM404 607v1h1v-1zM405 606v1h1v-1zM409 603v1h1v-1zM410 602v1h1v-1zM411 601v1h1v-1zM415 599v1h1v-1zM416 598v1h1v-1zM417 598v1h1v-1zM421 597v1h1v-1zM422 597v1h1v-1zM423 597v1h1v-1zM427 597v1h1v-1zM428 597v1h1v-1zM429 597v1h1v-1zM433 598v1h1v-1zM434 599v1h1v-1zM435 599v1h1v-1zM439 601v1h1v-1zM440 601v1h1v-1zM441 601v1h1v-1zM445 602v1h1v-1zM446 602v1h1v-1zM447 603v1h1v-1zM451 603v1h1v-1zM452 603v1h1v-1zM453 603v1h1v-1zM457 603v1h1v-1zM458 603v1h1v-1zM459 603v1h1v-1zM463 603v1h1v-1zM464 603v1h1v-1zM465 603v1h1v-1zM469 603v1h1v-1zM470 603v1h1v-1zM471 602v1h1v-1zM475 603v1h1v-1zM476 603v1h1v-1zM477 603v1h1v-1zM481 603v1h1v-1zM482 603v1h1v-1zM483 604v1h1v-1zM487 605v1h1v-1zM488 605v1h1v-1zM489 605v1h1v-1zM493 606v1h1v-1zM494 606v1h1v-1zM495 607v1h1v-1zM499 608v1h1v-1zM500 609v1h1v-1zM501 609v1h1v-1zM505 610v1h1v-1zM506 611v1h1v-1zM507 611v1h1v-1zM511 612v1h1v-1zM512 612v1h1v-1zM513 612v1h1v-1zM517 613v1h1v-1zM518 613v1h1v-1zM519 614v1h1v-1zM523 614v1h1v-1zM524 614v1h1v-1zM525 614v1h1v-1zM529 615v1h1v-1zM530 615v1h1v-1zM531 615v1h1v-1zM535 616v1h1v-1zM536 616v1h1v-1zM537 616v1h1v-1zM541 615v1h1v-1zM542 615v1h1v-1zM543 615v1h1v-1zM547 615v1h1v-1zM548 615v1h1v-1zM549 615v1h1v-1zM553 614v1h1v-1zM554 613v1h1v-1zM555 613v1h1v-1zM559 611v1h1v-1zM560 611v1h1v-1zM561 611v1h1v-1zM565 609v1h1v-1zM566 609v1h1v-1zM567 608v1h1v-1zM571 607v1h1v-1zM572 607v1h1v-1zM573 607v1h1v-1zM577 605v1h1v-1zM578 605v1h1v-1zM579 604v1h1v-1zM583 603v1h1v-1zM584 603v1h1v-1zM585 603v1h1v-1zM589 603v1h1v-1zM590 603v1h1v-1zM591 603v1h1v-1zM595 603v1h1v-1zM596 603v1h1v-1zM597 603v1h1v-1zM601 603v1h1v-1zM602 603v1h1v-1zM603 603v1h1v-1zM607 604v1h1v-1zM608 604v1h1v-1zM609 604v1h1v-1zM613 604v1h1v-1zM614 604v1h1v-1zM615 604v1h1v-1zM619 605v1h1v-1zM620 605v1h1v-1zM621 605v1h1v-1zM625 605v1h1v-1zM626 605v1h1v-1zM627 606v1h1v-1zM631 606v1h1v-1zM632 606v1h1v-1zM633 606v1h1v-1zM637 607v1h1v-1zM638 607v1h1v-1zM639 608v1h1v-1zM643 609v1h1v-1zM644 609v1h1v-1zM645 609v1h1v-1zM649 609v1h1v-1zM650 609v1h1v-1zM651 610v1h1v-1zM655 611v1h1v-1zM656 611v1h1v-1zM657 611v1h1v-1zM661 612v1h1v-1zM662 612v1h1v-1zM663 612v1h1v-1zM667 613v1h1v-1zM668 613v1h1v-1zM669 613v1h1v-1zM673 613v1h1v-1zM674 613v1h1v-1zM675 612v1h1v-1zM679 612v1h1v-1zM680 612v1h1v-1zM681 612v1h1v-1zM685 611v1h1v-1zM686 611v1h1v-1zM687 610v1h1v-1zM691 610v1h1v-1zM692 610v1h1v-1zM693 610v1h1v-1zM697 610v1h1v-1zM698 610v1h1v-1zM699 610v1h1v-1zM703 611v1h1v-1zM704 612v1h1v-1zM705 612v1h1v-1zM709 614v1h1v-1zM710 615v1h1v-1zM711 616v1h1v-1zM715 619v1h1v-1zM716 620v1h1v-1zM717 621v1h1v-1zM721 624v1h1v-1zM722 625v1h1v-1zM723 626v1h1v-1zM727 629v1h1v-1zM728 630v1h1v-1zM729 630v1h1v-1zM733 632v1h1v-1zM734 632v1h1v-1zM735 633v1h1v-1zM739 633v1h1v-1zM740 633v1h1v-1zM741 633v1h1v-1zM745 632v1h1v-1zM746 632v1h1v-1zM747 633v1h1v-1zM751 633v1h1v-1zM752 633v1h1v-1zM753 633v1h1v-1zM757 633v1h1v-1zM758 633v1h1v-1zM759 634v1h1v-1zM763 635v1h1v-1zM764 636v1h1v-1zM765 636v1h1v-1zM769 638v1h1v-1zM770 639v1h1v-1zM771 640v1h1v-1zM775 643v1h1v-1zM776 644v1h1v-1zM777 645v1h1v-1zM781 648v1h1v-1zM782 649v1h1v-1zM783 650v1h1v-1zM787 652v1h1v-1zM788 653v1h1v-1zM789 653v1h1v-1zM793 654v1h1v-1zM794 655v1h1v-1zM795 655v1h1v-1zM799 657v1h1v-1zM800 657v1h1v-1zM801 657v1h1v-1zM805 658v1h1v-1zM806 658v1h1v-1zM807 658v1h1v-1zM811 657v1h1v-1zM812 657v1h1v-1zM813 657v1h1v-1zM817 657v1h1v-1zM818 657v1h1v-1zM819 656v1h1v-1zM823 655v1h1v-1zM824 655v1h1v-1zM825 655v1h1v-1zM829 654v1h1v-1zM830 654v1h1v-1zM831 653v1h1v-1zM835 652v1h1v-1zM836 651v1h1v-1zM837 651v1h1v-1zM841 650v1h1v-1zM842 650v1h1v-1zM843 649v1h1v-1zM847 648v1h1v-1zM848 648v1h1v-1zM849 648v1h1v-1zM853 647v1h1v-1zM854 647v1h1v-1zM855 646v1h1v-1zM859 645v1h1v-1zM860 644v1h1v-1zM861 644v1h1v-1zM865 641v1h1v-1zM866 640v1h1v-1zM867 640v1h1v-1zM871 637v1h1v-1zM872 637v1h1v-1zM873 636v1h1v-1zM877 633v1h1v-1zM878 632v1h1v-1zM879 631v1h1v-1zM883 628v1h1v-1zM884 628v1h1v-1zM885 627v1h1v-1zM889 624v1h1v-1zM890 623v1h1v-1zM891 622v1h1v-1zM895 620v1h1v-1zM896 619v1h1v-1zM897 619v1h1v-1zM901 617v1h1v-1zM902 616v1h1v-1zM903 615v1h1v-1zM907 613v1h1v-1zM908 612v1h1v-1zM909 612v1h1v-1zM913 610v1h1v-1zM914 609v1h1v-1zM915 609v1h1v-1zM919 607v1h1v-1zM920 606v1h1v-1zM921 606v1h1v-1zM925 605v1h1v-1zM926 605v1h1v-1zM927 604v1h1v-1zM931 603v1h1v-1zM932 603v1h1v-1zM933 603v1h1v-1zM937 603v1h1v-1zM938 603v1h1v-1zM939 602v1h1v-1zM943 601v1h1v-1zM944 601v1h1v-1zM945 601v1h1v-1zM949 601v1h1v-1zM950 601v1h1v-1zM951 601v1h1v-1zM955 600v1h1v-1zM956 600v1h1v-1zM957 600v1h1v-1zM961 600v1h1v-1zM962 600v1h1v-1zM963 599v1h1v-1zM967 598v1h1v-1zM968 598v1h1v-1zM969 598v1h1v-1zM973 598v1h1v-1zM974 598v1h1v-1zM975 598v1h1v-1zM979 599v1h1v-1zM980 599v1h1v-1zM981 599v1h1v-1zM985 599v1h1v-1zM986 599v1h1v-1zM987 600v1h1v-1zM991 600v1h1v-1zM992 600v1h1v-1zM993 600v1h1v-1zM997 601v1h1v-1zM998 601v1h1v-1zM999 601v1h1v-1zM1003 602v1h1v-1zM1004 602v1h1v-1zM1005 602v1h1v-1zM1009 603v1h1v-1zM1010 603v1h1v-1zM1011 604v1h1v-1zM1015 605v1h1v-1zM1016 605v1h1v-1zM1017 605v1h1v-1zM1021 607v1h1v-1zM1022 608v1h1v-1zM1023 608v1h1v-1zM1027 611v1h1v-1zM1028 611v1h1v-1zM1029 612v1h1v-1zM1033 614v1h1v-1zM1034 615v1h1v-1zM1035 616v1h1v-1zM1039 619v1h1v-1zM1040 619v1h1v-1zM1041 620v1h1v-1zM1045 621v1h1v-1zM1046 622v1h1v-1zM1047 622v1h1v-1zM1051 623v1h1v-1zM1052 623v1h1v-1zM1053 623v1h1v-1zM1057 623v1h1v-1zM1058 623v1h1v-1zM1059 623v1h1v-1zM1063 622v1h1v-1zM1064 622v1h1v-1zM1065 622v1h1v-1zM1069 620v1h1v-1zM1070 620v1h1v-1zM1071 619v1h1v-1zM1075 618v1h1v-1zM1076 618v1h1v-1zM1077 618v1h1v-1zM1081 617v1h1v-1zM1082 617v1h1v-1zM1083 616v1h1v-1zM1087 616v1h1v-1zM1088 616v1h1v-1zM1089 616v1h1v-1zM1093 616v1h1v-1zM1094 616v1h1v-1zM1095 616v1h1v-1zM1099 616v1h1v-1zM1100 616v1h1v-1zM1101 616v1h1v-1zM1105 616v1h1v-1zM1106 616v1h1v-1zM1107 615v1h1v-1zM1111 615v1h1v-1zM1112 615v1h1v-1zM1113 615v1h1v-1zM1117 614v1h1v-1zM1118 614v1h1v-1zM1119 613v1h1v-1zM1123 612v1h1v-1zM1124 612v1h1v-1zM1125 612v1h1v-1zM1129 611v1h1v-1z" fill="#ff0000"/></g><line x1="6" y1="707.5" x2="1420" y2="707.5" stroke="#c0c0c0" stroke-width="1" stroke-dasharray="3 3"/><line x1="6" y1="758.5" x2="1420" y2="758.5" stroke="#c0c0c0" stroke-width="1" stroke-dasharray="3 3"/><path d="M5 712v2h1v-2zM6 714v3h1v-3zM7 717v4h1v-4zM8 721v3h1v-3zM9 724v2h1v-2zM10 726v1h1v-1zM11 726v1h1v-1zM12 727v1h1v-1zM13 727v1h1v-1zM14 728v1h1v-1zM15 728v1h1v-1zM16 729v1h1v-1zM17 729v1h1v-1zM18 728v1h1v-1zM19 727v1h1v-1zM20 727v1h1v-1zM21 725v2h1v-2zM22 721v4h1v-4zM23 717v4h1v-4zM24 713v4h1v-4zM25 711v2h1v-2zM26 713v3h1v-3zM27 716v3h1v-3zM28 719v3h1v-3zM29 722v2h1v-2zM30 724v1h1v-1zM31 725v2h1v-2zM32 727v1h1v-1zM33 728v1h1v-1zM34 727v1h1v-1zM35 725v2h1v-2zM36 724v1h1v-1zM37 723v1h1v-1zM38 723v1h1v-1zM39 724v1h1v-1zM40 724v1h1v-1zM41 724v1h1v-1zM42 723v1h1v-1zM43 722v1h1v-1zM44 722v1h1v-1zM45 721v1h1v-1zM46 720v1h1v-1zM47 718v2h1v-2zM48 717v1h1v-1zM49 716v1h1v-1zM50 717v1h1v-1zM51 718v1h1v-1zM52 719v1h1v-1zM53 720v1h1v-1zM54 720v1h1v-1zM55 720v1h1v-1zM56 720v1h1v-1zM57 720v1h1v-1zM58 719v1h1v-1zM59 719v1h1v-1zM60 718v1h1v-1zM61 718v1h1v-1zM62 719v1h1v-1zM63 720v2h1v-2zM64 722v1h1v-1zM65 723v2h1v-2zM66 725v2h1v-2zM67 727v3h1v-3zM68 730v2h1v-2zM69 732v2h1v-2zM70 731v2h1v-2zM71 729v2h1v-2zM72 727v2h1v-2zM73 725v2h1v-2zM74 722v3h1v-3zM75 720v2h1v-2zM76 717v3h1v-3zM77 715v2h1v-2zM78 714v1h1v-1zM79 713v1h1v-1zM80 713v1h1v-1zM81 712v2h1v-2zM82 714v4h1v-4zM83 718v4h1v-4zM84 722v4h1v-4zM85 726v2h1v-2zM86 726v1h1v-1zM87 724v2h1v-2zM88 723v1h1v-1zM89 722v1h1v-1zM90 721v1h1v-1zM91 719v2h1v-2zM92 718v1h1v-1zM93 717v1h1v-1zM94 718v1h1v-1zM95 718v1h1v-1zM96 719v1h1v-1zM97 719v1h1v-1zM98 720v1h1v-1zM99 721v1h1v-1zM100 721v1h1v-1zM101 722v1h1v-1zM102 722v1h1v-1zM103 723v1h1v-1zM104 723v1h1v-1zM105 723v1h1v-1zM106 722v1h1v-1zM107 722v1h1v-1zM108 721v1h1v-1zM109 721v1h1v-1zM110 720v1h1v-1zM111 720v1h1v-1zM112 719v1h1v-1zM113 719v1h1v-1zM114 718v1h1v-1zM115 717v1h1v-1zM116 717v1h1v-1zM117 716v1h1v-1zM118 715v1h1v-1zM119 714v1h1v-1zM120 714v1h1v-1zM121 713v1h1v-1zM122 712v1h1v-1zM123 712v1h1v-1zM124 711v1h1v-1zM125 711v1h1v-1zM126 710v1h1v-1zM127 710v1h1v-1zM128 709v1h1v-1zM129 709v1h1v-1zM130 707v2h1v-2zM131 705v2h1v-2zM132 703v2h1v-2zM133 702v1h1v-1zM134 702v1h1v-1zM135 702v1h1v-1zM136 702v1h1v-1zM137 702v1h1v-1zM138 703v1h1v-1zM139 703v1h1v-1zM140 704v1h1v-1zM141 704v1h1v-1zM142 704v1h1v-1zM143 704v1h1v-1zM144 704v1h1v-1zM145 704v1h1v-1zM146 705v1h1v-1zM147 705v1h1v-1zM148 706v1h1v-1zM149 706v1h1v-1zM150 705v1h1v-1zM151 704v1h1v-1zM152 704v1h1v-1zM153 703v1h1v-1zM154 702v1h1v-1zM155 702v1h1v-1zM156 701v1h1v-1zM157 701v1h1v-1zM158 702v1h1v-1zM159 703v1h1v-1zM160 703v1h1v-1zM161 704v1h1v-1zM162 704v1h1v-1zM163 705v1h1v-1zM164 705v1h1v-1zM165 705v1h1v-1zM166 705v1h1v-1zM167 704v1h1v-1zM168 704v1h1v-1zM169 704v1h1v-1zM170 704v1h1v-1zM171 704v1h1v-1zM172 704v1h1v-1zM173 704v4h1v-4zM174 708v7h1v-7zM175 715v8h1v-8zM176 723v7h1v-7zM177 730v5h1v-5zM178 735v2h1v-2zM179 737v3h1v-3zM180 740v2h1v-2zM181 742v2h1v-2zM182 744v1h1v-1zM183 745v1h1v-1zM184 745v1h1v-1zM185 746v1h1v-1zM186 747v2h1v-2zM187 749v1h1v-1zM188 750v2h1v-2zM189 752v1h1v-1zM190 753v1h1v-1zM191 754v2h1v-2zM192 756v1h1v-1zM193 757v1h1v-1zM194 758v1h1v-1zM195 758v1h1v-1zM196 759v1h1v-1zM197 759v1h1v-1zM198 758v1h1v-1zM199 756v2h1v-2zM200 755v1h1v-1zM201 754v1h1v-1zM202 753v1h1v-1zM203 751v2h1v-2zM204 750v1h1v-1zM205 749v1h1v-1zM206 749v1h1v-1zM207 749v1h1v-1zM208 749v1h1v-1zM209 749v1h1v-1zM210 749v1h1v-1zM211 748v1h1v-1zM212 748v1h1v-1zM213 748v1h1v-1zM214 749v1h1v-1zM215 749v1h1v-1zM216 750v1h1v-1zM217 750v1h1v-1zM218 750v1h1v-1zM219 750v1h1v-1zM220 750v1h1v-1zM221 750v1h1v-1zM222 749v1h1v-1zM223 747v2h1v-2zM224 746v1h1v-1zM225 745v1h1v-1zM226 746v1h1v-1zM227 746v1h1v-1zM228 747v1h1v-1zM229 747v1h1v-1zM230 746v1h1v-1zM231 746v1h1v-1zM232 745v1h1v-1zM233 745v1h1v-1zM234 744v1h1v-1zM235 743v1h1v-1zM236 742v1h1v-1zM237 740v2h1v-2zM238 738v2h1v-2zM239 735v3h1v-3zM240 733v2h1v-2zM241 731v2h1v-2zM242 732v1h1v-1zM243 732v1h1v-1zM244 733v1h1v-1zM245 733v1h1v-1zM246 732v1h1v-1zM247 732v1h1v-1zM248 731v1h1v-1zM249 731v3h1v-3zM250 734v4h1v-4zM251 738v4h1v-4zM252 742v4h1v-4zM253 746v3h1v-3zM254 748v1h1v-1zM255 749v1h1v-1zM256 749v1h1v-1zM257 749v1h1v-1zM258 747v2h1v-2zM259 745v2h1v-2zM260 743v2h1v-2zM261 742v1h1v-1zM262 741v1h1v-1zM263 741v1h1v-1zM264 740v1h1v-1zM265 740v2h1v-2zM266 742v4h1v-4zM267 746v3h1v-3zM268 749v4h1v-4zM269 753v2h1v-2zM270 754v1h1v-1zM271 755v1h1v-1zM272 755v1h1v-1zM273 755v1h1v-1zM274 756v1h1v-1zM275 757v1h1v-1zM276 757v1h1v-1zM277 758v1h1v-1zM278 757v1h1v-1zM279 757v1h1v-1zM280 756v1h1v-1zM281 756v1h1v-1zM282 755v1h1v-1zM283 754v1h1v-1zM284 754v1h1v-1zM285 753v1h1v-1zM286 752v1h1v-1zM287 752v1h1v-1zM288 751v1h1v-1zM289 750v2h1v-2zM290 746v4h1v-4zM291 742v4h1v-4zM292 738v4h1v-4zM293 735v3h1v-3zM294 732v3h1v-3zM295 730v2h1v-2zM296 727v3h1v-3zM297 725v2h1v-2zM298 726v1h1v-1zM299 727v2h1v-2zM300 729v1h1v-1zM301 730v1h1v-1zM302 730v1h1v-1zM303 729v1h1v-1zM304 729v1h1v-1zM305 729v1h1v-1zM306 728v1h1v-1zM307 727v1h1v-1zM308 727v1h1v-1zM309 726v2h1v-2zM310 728v2h1v-2zM311 730v2h1v-2zM312 732v2h1v-2zM313 734v2h1v-2zM314 734v1h1v-1zM315 733v1h1v-1zM316 732v1h1v-1zM317 731v1h1v-1zM318 730v1h1v-1zM319 729v1h1v-1zM320 728v1h1v-1zM321 727v1h1v-1zM322 728v2h1v-2zM323 730v1h1v-1zM324 731v2h1v-2zM325 733v1h1v-1zM326 733v1h1v-1zM327 734v1h1v-1zM328 734v1h1v-1zM329 734v1h1v-1zM330 734v1h1v-1zM331 735v1h1v-1zM332 735v1h1v-1zM333 735v1h1v-1zM334 736v1h1v-1zM335 737v1h1v-1zM336 737v1h1v-1zM337 738v1h1v-1zM338 739v1h1v-1zM339 740v2h1v-2zM340 742v1h1v-1zM341 742v2h1v-2zM342 740v2h1v-2zM343 738v2h1v-2zM344 736v2h1v-2zM345 734v2h1v-2zM346 736v2h1v-2zM347 738v3h1v-3zM348 741v2h1v-2zM349 743v2h1v-2zM350 744v1h1v-1zM351 745v1h1v-1zM352 745v1h1v-1zM353 745v1h1v-1zM354 743v2h1v-2zM355 741v2h1v-2zM356 739v2h1v-2zM357 737v2h1v-2zM358 738v1h1v-1zM359 739v1h1v-1zM360 739v1h1v-1zM361 740v1h1v-1zM362 741v1h1v-1zM363 741v1h1v-1zM364 742v1h1v-1zM365 742v1h1v-1zM366 741v1h1v-1zM367 740v1h1v-1zM368 740v1h1v-1zM369 738v2h1v-2zM370 734v4h1v-4zM371 730v4h1v-4zM372 726v4h1v-4zM373 723v3h1v-3zM374 723v1h1v-1zM375 724v1h1v-1zM376 724v1h1v-1zM377 724v1h1v-1zM378 723v1h1v-1zM379 723v1h1v-1zM380 722v1h1v-1zM381 722v1h1v-1zM382 721v1h1v-1zM383 719v2h1v-2zM384 718v1h1v-1zM385 717v1h1v-1zM386 715v2h1v-2zM387 713v2h1v-2zM388 711v2h1v-2zM389 710v1h1v-1zM390 710v1h1v-1zM391 710v1h1v-1zM392 710v1h1v-1zM393 710v1h1v-1zM394 711v1h1v-1zM395 712v2h1v-2zM396 714v1h1v-1zM397 715v1h1v-1zM398 715v1h1v-1zM399 714v1h1v-1zM400 714v1h1v-1zM401 714v1h1v-1zM402 715v1h1v-1zM403 716v2h1v-2zM404 718v1h1v-1zM405 719v1h1v-1zM406 720v1h1v-1zM407 721v2h1v-2zM408 723v1h1v-1zM409 724v1h1v-1zM410 725v2h1v-2zM411 727v2h1v-2zM412 729v2h1v-2zM413 731v2h1v-2zM414 731v1h1v-1zM415 730v1h1v-1zM416 730v1h1v-1zM417 729v1h1v-1zM418 728v1h1v-1zM419 728v1h1v-1zM420 727v1h1v-1zM421 727v1h1v-1zM422 727v1h1v-1zM423 727v1h1v-1zM424 727v1h1v-1zM425 727v1h1v-1zM426 727v1h1v-1zM427 728v1h1v-1zM428 728v1h1v-1zM429 728v1h1v-1zM430 729v1h1v-1zM431 729v1h1v-1zM432 730v1h1v-1zM433 730v1h1v-1zM434 731v1h1v-1zM435 732v2h1v-2zM436 734v1h1v-1zM437 734v2h1v-2zM438 731v3h1v-3zM439 729v2h1v-2zM440 726v3h1v-3zM441 724v2h1v-2zM442 723v1h1v-1zM443 721v2h1v-2zM444 720v1h1v-1zM445 719v1h1v-1zM446 719v1h1v-1zM447 718v1h1v-1zM448 718v1h1v-1zM449 718v1h1v-1zM450 719v1h1v-1zM451 720v2h1v-2zM452 722v1h1v-1zM453 723v1h1v-1zM454 724v1h1v-1zM455 724v1h1v-1zM456 725v1h1v-1zM457 725v1h1v-1zM458 724v1h1v-1zM459 723v1h1v-1zM460 722v1h1v-1zM461 721v1h1v-1zM462 720v1h1v-1zM463 720v1h1v-1zM464 719v1h1v-1zM465 719v2h1v-2zM466 721v3h1v-3zM467 724v3h1v-3zM468 727v3h1v-3zM469 730v2h1v-2zM470 731v1h1v-1zM471 732v1h1v-1zM472 732v1h1v-1zM473 732v1h1v-1zM474 733v1h1v-1zM475 734v2h1v-2zM476 736v1h1v-1zM477 737v1h1v-1zM478 736v1h1v-1zM479 735v1h1v-1zM480 734v1h1v-1zM481 733v1h1v-1zM482 733v1h1v-1zM483 732v1h1v-1zM484 732v1h1v-1zM485 732v1h1v-1zM486 731v1h1v-1zM487 730v1h1v-1zM488 730v1h1v-1zM489 729v1h1v-1zM490 728v1h1v-1zM491 727v1h1v-1zM492 726v1h1v-1zM493 725v1h1v-1zM494 726v1h1v-1zM495 727v1h1v-1zM496 728v1h1v-1zM497 729v2h1v-2zM498 731v2h1v-2zM499 733v2h1v-2zM500 735v2h1v-2zM501 737v2h1v-2zM502 737v1h1v-1zM503 736v1h1v-1zM504 736v1h1v-1zM505 735v1h1v-1zM506 736v1h1v-1zM507 736v1h1v-1zM508 737v1h1v-1zM509 736v2h1v-2zM510 734v2h1v-2zM511 731v3h1v-3zM512 729v2h1v-2zM513 727v2h1v-2zM514 728v2h1v-2zM515 730v2h1v-2zM516 732v2h1v-2zM517 734v1h1v-1zM518 734v1h1v-1zM519 734v1h1v-1zM520 734v1h1v-1zM521 734v1h1v-1zM522 732v2h1v-2zM523 731v1h1v-1zM524 729v2h1v-2zM525 728v1h1v-1zM526 729v1h1v-1zM527 729v1h1v-1zM528 730v1h1v-1zM529 730v1h1v-1zM530 730v1h1v-1zM531 731v1h1v-1zM532 731v1h1v-1zM533 731v1h1v-1zM534 730v1h1v-1zM535 729v1h1v-1zM536 729v1h1v-1zM537 728v1h1v-1zM538 727v1h1v-1zM539 727v1h1v-1zM540 726v1h1v-1zM541 726v1h1v-1zM542 727v1h1v-1zM543 728v2h1v-2zM544 730v1h1v-1zM545 730v2h1v-2zM546 727v3h1v-3zM547 725v2h1v-2zM548 722v3h1v-3zM549 720v2h1v-2zM550 718v2h1v-2zM551 716v2h1v-2zM552 714v2h1v-2zM553 712v2h1v-2zM554 713v1h1v-1zM555 714v1h1v-1zM556 714v1h1v-1zM557 715v1h1v-1zM558 716v1h1v-1zM559 717v1h1v-1zM560 718v1h1v-1zM561 719v1h1v-1zM562 719v1h1v-1zM563 718v1h1v-1zM564 718v1h1v-1zM565 718v1h1v-1zM566 719v1h1v-1zM567 719v1h1v-1zM568 720v1h1v-1zM569 720v2h1v-2zM570 722v3h1v-3zM571 725v4h1v-4zM572 729v3h1v-3zM573 732v2h1v-2zM574 731v2h1v-2zM575 729v2h1v-2zM576 727v2h1v-2zM577 725v2h1v-2zM578 724v1h1v-1zM579 723v1h1v-1zM580 722v1h1v-1zM581 721v1h1v-1zM582 722v2h1v-2zM583 724v2h1v-2zM584 726v2h1v-2zM585 728v1h1v-1zM586 726v2h1v-2zM587 725v1h1v-1zM588 723v2h1v-2zM589 722v1h1v-1zM590 723v1h1v-1zM591 724v1h1v-1zM592 725v1h1v-1zM593 726v1h1v-1zM594 725v1h1v-1zM595 724v1h1v-1zM596 724v1h1v-1zM597 723v1h1v-1zM598 723v1h1v-1zM599 723v1h1v-1zM600 723v1h1v-1zM601 723v1h1v-1zM602 723v1h1v-1zM603 724v1h1v-1zM604 724v1h1v-1zM605 724v1h1v-1zM606 725v2h1v-2zM607 727v2h1v-2zM608 729v2h1v-2zM609 731v2h1v-2zM610 731v1h1v-1zM611 730v1h1v-1zM612 730v1h1v-1zM613 729v1h1v-1zM614 727v2h1v-2zM615 726v1h1v-1zM616 724v2h1v-2zM617 723v1h1v-1zM618 724v1h1v-1zM619 725v1h1v-1zM620 726v1h1v-1zM621 727v1h1v-1zM622 728v1h1v-1zM623 729v1h1v-1zM624 729v1h1v-1zM625 730v1h1v-1zM626 729v1h1v-1zM627 728v1h1v-1zM628 727v1h1v-1zM629 726v1h1v-1zM630 727v1h1v-1zM631 728v1h1v-1zM632 729v1h1v-1zM633 730v1h1v-1zM634 730v1h1v-1zM635 730v1h1v-1zM636 730v1h1v-1zM637 730v1h1v-1zM638 731v1h1v-1zM639 732v1h1v-1zM640 732v1h1v-1zM641 733v1h1v-1zM642 734v1h1v-1zM643 735v2h1v-2zM644 737v1h1v-1zM645 738v1h1v-1zM646 736v2h1v-2zM647 734v2h1v-2zM648 732v2h1v-2zM649 731v1h1v-1zM650 729v2h1v-2zM651 728v1h1v-1zM652 726v2h1v-2zM653 725v1h1v-1zM654 726v2h1v-2zM655 728v2h1v-2zM656 730v2h1v-2zM657 732v1h1v-1zM658 732v1h1v-1zM659 732v1h1v-1zM660 732v1h1v-1zM661 732v1h1v-1zM662 732v1h1v-1zM663 732v1h1v-1zM664 732v1h1v-1zM665 731v2h1v-2zM666 729v2h1v-2zM667 726v3h1v-3zM668 724v2h1v-2zM669 722v2h1v-2zM670 721v1h1v-1zM671 720v1h1v-1zM672 719v1h1v-1zM673 718v1h1v-1zM674 717v1h1v-1zM675 717v1h1v-1zM676 716v1h1v-1zM677 716v1h1v-1zM678 717v1h1v-1zM679 717v1h1v-1zM680 718v1h1v-1zM681 718v1h1v-1zM682 718v1h1v-1zM683 719v1h1v-1zM684 719v1h1v-1zM685 719v2h1v-2zM686 721v4h1v-4zM687 725v4h1v-4zM688 729v4h1v-4zM689 733v3h1v-3zM690 736v2h1v-2zM691 738v2h1v-2zM692 740v2h1v-2zM693 742v2h1v-2zM694 741v2h1v-2zM695 740v1h1v-1zM696 738v2h1v-2zM697 737v2h1v-2zM698 739v2h1v-2zM699 741v2h1v-2zM700 743v2h1v-2zM701 745v3h1v-3zM702 748v2h1v-2zM703 750v2h1v-2zM704 752v2h1v-2zM705 754v2h1v-2zM706 755v1h1v-1zM707 755v1h1v-1zM708 755v1h1v-1zM709 755v1h1v-1zM710 755v1h1v-1zM711 756v1h1v-1zM712 756v1h1v-1zM713 756v1h1v-1zM714 755v1h1v-1zM715 754v1h1v-1zM716 753v1h1v-1zM717 751v2h1v-2zM718 749v2h1v-2zM719 746v3h1v-3zM720 744v2h1v-2zM721 742v2h1v-2zM722 742v1h1v-1zM723 743v1h1v-1zM724 743v1h1v-1zM725 742v2h1v-2zM726 738v4h1v-4zM727 734v4h1v-4zM728 730v4h1v-4zM729 728v2h1v-2zM730 729v1h1v-1zM731 729v1h1v-1zM732 730v1h1v-1zM733 730v1h1v-1zM734 730v1h1v-1zM735 729v1h1v-1zM736 729v1h1v-1zM737 729v1h1v-1zM738 730v2h1v-2zM739 732v1h1v-1zM740 733v2h1v-2zM741 735v2h1v-2zM742 737v3h1v-3zM743 740v4h1v-4zM744 744v3h1v-3zM745 747v2h1v-2zM746 749v2h1v-2zM747 751v2h1v-2zM748 753v2h1v-2zM749 755v1h1v-1zM750 754v1h1v-1zM751 753v1h1v-1zM752 752v1h1v-1zM753 751v1h1v-1zM754 751v1h1v-1zM755 752v1h1v-1zM756 752v1h1v-1zM757 752v1h1v-1zM758 752v1h1v-1zM759 753v1h1v-1zM760 753v1h1v-1zM761 753v1h1v-1zM762 753v1h1v-1zM763 754v1h1v-1zM764 754v1h1v-1zM765 754v1h1v-1zM766 755v1h1v-1zM767 756v2h1v-2zM768 758v1h1v-1zM769 759v1h1v-1zM770 760v1h1v-1zM771 760v1h1v-1zM772 761v1h1v-1zM773 761v1h1v-1zM774 761v1h1v-1zM775 762v1h1v-1zM776 762v1h1v-1zM777 762v1h1v-1zM778 761v1h1v-1zM779 761v1h1v-1zM780 760v1h1v-1zM781 759v2h1v-2zM782 757v2h1v-2zM783 755v2h1v-2zM784 753v2h1v-2zM785 751v2h1v-2zM786 752v1h1v-1zM787 753v1h1v-1zM788 753v1h1v-1zM789 754v1h1v-1zM790 755v1h1v-1zM791 756v1h1v-1zM792 757v1h1v-1zM793 758v1h1v-1zM794 758v1h1v-1zM795 759v1h1v-1zM796 759v1h1v-1zM797 759v1h1v-1zM798 757v2h1v-2zM799 755v2h1v-2zM800 753v2h1v-2zM801 751v2h1v-2zM802 751v1h1v-1zM803 752v1h1v-1zM804 752v1h1v-1zM805 752v1h1v-1zM806 751v1h1v-1zM807 749v2h1v-2zM808 748v1h1v-1zM809 747v1h1v-1zM810 746v1h1v-1zM811 744v2h1v-2zM812 743v1h1v-1zM813 742v1h1v-1zM814 743v2h1v-2zM815 745v2h1v-2zM816 747v2h1v-2zM817 749v1h1v-1zM818 749v1h1v-1zM819 750v1h1v-1zM820 750v1h1v-1zM821 750v1h1v-1zM822 751v1h1v-1zM823 752v1h1v-1zM824 753v1h1v-1zM825 754v1h1v-1zM826 754v1h1v-1zM827 753v1h1v-1zM828 753v1h1v-1zM829 753v1h1v-1zM830 752v1h1v-1zM831 751v1h1v-1zM832 751v1h1v-1zM833 750v1h1v-1zM834 748v2h1v-2zM835 746v2h1v-2zM836 744v2h1v-2zM837 742v2h1v-2zM838 743v1h1v-1zM839 744v1h1v-1zM840 745v1h1v-1zM841 746v1h1v-1zM842 747v1h1v-1zM843 748v1h1v-1zM844 748v1h1v-1zM845 749v1h1v-1zM846 747v2h1v-2zM847 746v1h1v-1zM848 744v2h1v-2zM849 743v1h1v-1zM850 743v1h1v-1zM851 744v1h1v-1zM852 744v1h1v-1zM853 743v2h1v-2zM854 739v4h1v-4zM855 736v3h1v-3zM856 732v4h1v-4zM857 730v2h1v-2zM858 730v1h1v-1zM859 729v1h1v-1zM860 729v1h1v-1zM861 729v1h1v-1zM862 729v1h1v-1zM863 728v1h1v-1zM864 728v1h1v-1zM865 728v1h1v-1zM866 727v1h1v-1zM867 726v1h1v-1zM868 726v1h1v-1zM869 725v1h1v-1zM870 724v1h1v-1zM871 724v1h1v-1zM872 723v1h1v-1zM873 723v1h1v-1zM874 723v1h1v-1zM875 724v1h1v-1zM876 724v1h1v-1zM877 724v1h1v-1zM878 724v1h1v-1zM879 725v1h1v-1zM880 725v1h1v-1zM881 725v1h1v-1zM882 726v1h1v-1zM883 727v1h1v-1zM884 728v1h1v-1zM885 728v2h1v-2zM886 726v2h1v-2zM887 724v2h1v-2zM888 722v2h1v-2zM889 720v2h1v-2zM890 719v1h1v-1zM891 718v1h1v-1zM892 718v1h1v-1zM893 717v1h1v-1zM894 717v1h1v-1zM895 718v1h1v-1zM896 718v1h1v-1zM897 718v1h1v-1zM898 719v1h1v-1zM899 719v1h1v-1zM900 720v1h1v-1zM901 720v1h1v-1zM902 719v1h1v-1zM903 719v1h1v-1zM904 718v1h1v-1zM905 717v2h1v-2zM906 714v3h1v-3zM907 712v2h1v-2zM908 709v3h1v-3zM909 707v2h1v-2zM910 706v1h1v-1zM911 705v1h1v-1zM912 705v1h1v-1zM913 704v3h1v-3zM914 707v5h1v-5zM915 712v4h1v-4zM916 716v5h1v-5zM917 721v3h1v-3zM918 724v1h1v-1zM919 725v1h1v-1zM920 726v1h1v-1zM921 727v1h1v-1zM922 727v1h1v-1zM923 726v1h1v-1zM924 726v1h1v-1zM925 726v1h1v-1zM926 725v1h1v-1zM927 724v1h1v-1zM928 724v1h1v-1zM929 723v1h1v-1zM930 724v1h1v-1zM931 725v2h1v-2zM932 727v1h1v-1zM933 727v2h1v-2zM934 723v4h1v-4zM935 720v3h1v-3zM936 716v4h1v-4zM937 714v2h1v-2zM938 714v1h1v-1zM939 713v1h1v-1zM940 713v1h1v-1zM941 713v2h1v-2zM942 715v2h1v-2zM943 717v3h1v-3zM944 720v2h1v-2zM945 722v2h1v-2zM946 723v1h1v-1zM947 723v1h1v-1zM948 723v1h1v-1zM949 723v1h1v-1zM950 721v2h1v-2zM951 719v2h1v-2zM952 717v2h1v-2zM953 715v2h1v-2zM954 716v1h1v-1zM955 717v1h1v-1zM956 717v1h1v-1zM957 718v1h1v-1zM958 719v1h1v-1zM959 720v2h1v-2zM960 722v1h1v-1zM961 723v1h1v-1zM962 723v1h1v-1zM963 722v1h1v-1zM964 722v1h1v-1zM965 722v1h1v-1zM966 721v1h1v-1zM967 720v1h1v-1zM968 720v1h1v-1zM969 719v1h1v-1zM970 719v1h1v-1zM971 720v1h1v-1zM972 720v1h1v-1zM973 720v2h1v-2zM974 722v3h1v-3zM975 725v3h1v-3zM976 728v3h1v-3zM977 731v2h1v-2zM978 730v2h1v-2zM979 729v1h1v-1zM980 727v2h1v-2zM981 726v1h1v-1zM982 725v1h1v-1zM983 724v1h1v-1zM984 724v1h1v-1zM985 723v1h1v-1zM986 724v1h1v-1zM987 725v2h1v-2zM988 727v1h1v-1zM989 728v1h1v-1zM990 726v2h1v-2zM991 725v1h1v-1zM992 723v2h1v-2zM993 722v1h1v-1zM994 722v1h1v-1zM995 723v1h1v-1zM996 723v1h1v-1zM997 723v1h1v-1zM998 722v1h1v-1zM999 721v1h1v-1zM1000 721v1h1v-1zM1001 720v1h1v-1zM1002 720v1h1v-1zM1003 720v1h1v-1zM1004 720v1h1v-1zM1005 720v3h1v-3zM1006 723v5h1v-5zM1007 728v4h1v-4zM1008 732v5h1v-5zM1009 737v3h1v-3zM1010 739v1h1v-1zM1011 739v1h1v-1zM1012 739v1h1v-1zM1013 739v1h1v-1zM1014 740v2h1v-2zM1015 742v2h1v-2zM1016 744v2h1v-2zM1017 746v1h1v-1zM1018 746v1h1v-1zM1019 747v1h1v-1zM1020 747v1h1v-1zM1021 747v1h1v-1zM1022 747v1h1v-1zM1023 746v1h1v-1zM1024 746v1h1v-1zM1025 746v1h1v-1zM1026 747v1h1v-1zM1027 748v1h1v-1zM1028 748v1h1v-1zM1029 749v1h1v-1zM1030 747v2h1v-2zM1031 745v2h1v-2zM1032 743v2h1v-2zM1033 741v2h1v-2zM1034 740v1h1v-1zM1035 738v2h1v-2zM1036 737v1h1v-1zM1037 735v2h1v-2zM1038 732v3h1v-3zM1039 730v2h1v-2zM1040 727v3h1v-3zM1041 725v2h1v-2zM1042 727v2h1v-2zM1043 729v3h1v-3zM1044 732v2h1v-2zM1045 734v2h1v-2zM1046 734v1h1v-1zM1047 733v1h1v-1zM1048 732v1h1v-1zM1049 731v1h1v-1zM1050 731v1h1v-1zM1051 731v1h1v-1zM1052 731v1h1v-1zM1053 731v1h1v-1zM1054 729v2h1v-2zM1055 727v2h1v-2zM1056 725v2h1v-2zM1057 724v1h1v-1zM1058 725v2h1v-2zM1059 727v1h1v-1zM1060 728v2h1v-2zM1061 730v1h1v-1zM1062 729v1h1v-1zM1063 728v1h1v-1zM1064 728v1h1v-1zM1065 727v1h1v-1zM1066 728v1h1v-1zM1067 728v1h1v-1zM1068 729v1h1v-1zM1069 729v1h1v-1zM1070 729v1h1v-1zM1071 730v1h1v-1zM1072 730v1h1v-1zM1073 730v1h1v-1zM1074 731v1h1v-1zM1075 732v1h1v-1zM1076 732v1h1v-1zM1077 733v1h1v-1zM1078 732v1h1v-1zM1079 731v1h1v-1zM1080 731v1h1v-1zM1081 730v1h1v-1zM1082 729v1h1v-1zM1083 729v1h1v-1zM1084 728v1h1v-1zM1085 728v1h1v-1zM1086 729v1h1v-1zM1087 730v2h1v-2zM1088 732v1h1v-1zM1089 733v1h1v-1zM1090 733v1h1v-1zM1091 734v1h1v-1zM1092 734v1h1v-1zM1093 734v1h1v-1zM1094 734v1h1v-1zM1095 733v1h1v-1zM1096 733v1h1v-1zM1097 733v1h1v-1zM1098 734v1h1v-1zM1099 735v2h1v-2zM1100 737v1h1v-1zM1101 736v3h1v-3zM1102 731v5h1v-5zM1103 727v4h1v-4zM1104 722v5h1v-5zM1105 719v3h1v-3zM1106 719v1h1v-1zM1107 718v1h1v-1zM1108 718v1h1v-1zM1109 718v1h1v-1zM1110 719v1h1v-1zM1111 720v1h1v-1zM1112 720v1h1v-1zM1113 721v1h1v-1zM1114 722v1h1v-1zM1115 723v1h1v-1zM1116 724v1h1v-1zM1117 725v1h1v-1zM1118 725v1h1v-1zM1119 725v1h1v-1zM1120 725v1h1v-1zM1121 725v1h1v-1zM1122 724v1h1v-1zM1123 723v1h1v-1zM1124 723v1h1v-1zM1125 722v1h1v-1zM1126 722v1h1v-1zM1127 723v1h1v-1zM1128 723v1h1v-1zM1129 723v1h1v-1z" fill="#1e90ff"/><rect x="4" y="21" width="1417" height="1" fill="#000"/><rect x="4" y="560" width="1417" height="1" fill="#000"/><rect x="4" y="21" width="1" height="540" fill="#000"/><rect x="1420" y="21" width="1" height="540" fill="#000"/><rect x="4" y="562" width="1417" height="1" fill="#000"/><rect x="4" y="665" width="1417" height="1" fill="#000"/><rect x="4" y="562" width="1" height="104" fill="#000"/><rect x="1420" y="562" width="1" height="104" fill="#000"/><rect x="4" y="667" width="1417" height="1" fill="#000"/><rect x="4" y="797" width="1417" height="1" fill="#000"/><rect x="4" y="667" width="1" height="131" fill="#000"/><rect x="1420" y="667" width="1" height="131" fill="#000"/><rect x="1420" y="313" width="1" height="1" fill="#c0c0c0"/><polygon points="1131,22 1141,22 1136,27.5" fill="#c0c0c0" shape-rendering="auto"/><rect x="1421" y="29" width="2" height="1" fill="#000"/><rect x="1421" y="62" width="2" height="1" fill="#000"/><rect x="1421" y="95" width="2" height="1" fill="#000"/><rect x="1421" y="128" width="2" height="1" fill="#000"/><rect x="1421" y="161" width="2" height="1" fill="#000"/><rect x="1421" y="194" width="2" height="1" fill="#000"/><rect x="1421" y="227" width="2" height="1" fill="#000"/><rect x="1421" y="260" width="2" height="1" fill="#000"/><rect x="1421" y="293" width="2" height="1" fill="#000"/><rect x="1421" y="326" width="2" height="1" fill="#000"/><rect x="1421" y="359" width="2" height="1" fill="#000"/><rect x="1421" y="392" width="2" height="1" fill="#000"/><rect x="1421" y="425" width="2" height="1" fill="#000"/><rect x="1421" y="458" width="2" height="1" fill="#000"/><rect x="1421" y="491" width="2" height="1" fill="#000"/><rect x="1421" y="524" width="2" height="1" fill="#000"/><rect x="1421" y="557" width="2" height="1" fill="#000"/><rect x="1421" y="617" width="2" height="1" fill="#000"/><rect x="1421" y="707" width="2" height="1" fill="#000"/><rect x="1421" y="758" width="2" height="1" fill="#000"/><rect x="5" y="798" width="1" height="3" fill="#000"/><rect x="69" y="798" width="1" height="3" fill="#000"/><rect x="133" y="798" width="1" height="3" fill="#000"/><rect x="197" y="798" width="1" height="3" fill="#000"/><rect x="261" y="798" width="1" height="3" fill="#000"/><rect x="325" y="798" width="1" height="3" fill="#000"/><rect x="389" y="798" width="1" height="3" fill="#000"/><rect x="453" y="798" width="1" height="3" fill="#000"/><rect x="517" y="798" width="1" height="3" fill="#000"/><rect x="581" y="798" width="1" height="3" fill="#000"/><rect x="645" y="798" width="1" height="3" fill="#000"/><rect x="709" y="798" width="1" height="3" fill="#000"/><rect x="773" y="798" width="1" height="3" fill="#000"/><rect x="837" y="798" width="1" height="3" fill="#000"/><rect x="901" y="798" width="1" height="3" fill="#000"/><rect x="965" y="798" width="1" height="3" fill="#000"/><rect x="1029" y="798" width="1" height="3" fill="#000"/><rect x="1093" y="798" width="1" height="3" fill="#000"/><rect x="5" y="46" width="1416" height="3" fill="#ff0000"/><rect x="4" y="44" width="7" height="7" fill="#ff0000"/><rect x="7" y="47" width="1" height="1" fill="#fff"/><rect x="1414" y="44" width="7" height="7" fill="#ff0000"/><rect x="1417" y="47" width="1" height="1" fill="#fff"/><rect x="5" y="155" width="1416" height="3" fill="#ff0000"/><rect x="4" y="153" width="7" height="7" fill="#ff0000"/><rect x="7" y="156" width="1" height="1" fill="#fff"/><rect x="1414" y="153" width="7" height="7" fill="#ff0000"/><rect x="1417" y="156" width="1" height="1" fill="#fff"/><rect x="5" y="293" width="1416" height="3" fill="#00ff00"/><rect x="4" y="291" width="7" height="7" fill="#00ff00"/><rect x="7" y="294" width="1" height="1" fill="#fff"/><rect x="1414" y="291" width="7" height="7" fill="#00ff00"/><rect x="1417" y="294" width="1" height="1" fill="#fff"/><rect x="5" y="418" width="1416" height="3" fill="#0000ff"/><rect x="4" y="416" width="7" height="7" fill="#0000ff"/><rect x="7" y="419" width="1" height="1" fill="#fff"/><rect x="1414" y="416" width="7" height="7" fill="#0000ff"/><rect x="1417" y="419" width="1" height="1" fill="#fff"/><rect x="4" y="557" width="1417" height="3" fill="#0000ff"/></svg>
<div class="t" style="left:1426.3px;top:26.00px;font-size:10px;color:#000;transform:scaleX(0.9075);transform-origin:0 0;text-rendering:geometricPrecision;-webkit-text-stroke:0.25px #000">1.36880</div><div class="t" style="left:1426.3px;top:59.00px;font-size:10px;color:#000;transform:scaleX(0.9075);transform-origin:0 0;text-rendering:geometricPrecision;-webkit-text-stroke:0.25px #000">1.36450</div><div class="t" style="left:1426.3px;top:92.00px;font-size:10px;color:#000;transform:scaleX(0.9075);transform-origin:0 0;text-rendering:geometricPrecision;-webkit-text-stroke:0.25px #000">1.36020</div><div class="t" style="left:1426.3px;top:125.00px;font-size:10px;color:#000;transform:scaleX(0.9075);transform-origin:0 0;text-rendering:geometricPrecision;-webkit-text-stroke:0.25px #000">1.35600</div><div class="t" style="left:1426.3px;top:158.00px;font-size:10px;color:#000;transform:scaleX(0.9075);transform-origin:0 0;text-rendering:geometricPrecision;-webkit-text-stroke:0.25px #000">1.35170</div><div class="t" style="left:1426.3px;top:191.00px;font-size:10px;color:#000;transform:scaleX(0.9075);transform-origin:0 0;text-rendering:geometricPrecision;-webkit-text-stroke:0.25px #000">1.34740</div><div class="t" style="left:1426.3px;top:224.00px;font-size:10px;color:#000;transform:scaleX(0.9075);transform-origin:0 0;text-rendering:geometricPrecision;-webkit-text-stroke:0.25px #000">1.34310</div><div class="t" style="left:1426.3px;top:257.00px;font-size:10px;color:#000;transform:scaleX(0.9075);transform-origin:0 0;text-rendering:geometricPrecision;-webkit-text-stroke:0.25px #000">1.33880</div><div class="t" style="left:1426.3px;top:290.00px;font-size:10px;color:#000;transform:scaleX(0.9075);transform-origin:0 0;text-rendering:geometricPrecision;-webkit-text-stroke:0.25px #000">1.33450</div><div class="t" style="left:1426.3px;top:323.00px;font-size:10px;color:#000;transform:scaleX(0.9075);transform-origin:0 0;text-rendering:geometricPrecision;-webkit-text-stroke:0.25px #000">1.33020</div><div class="t" style="left:1426.3px;top:356.00px;font-size:10px;color:#000;transform:scaleX(0.9075);transform-origin:0 0;text-rendering:geometricPrecision;-webkit-text-stroke:0.25px #000">1.32590</div><div class="t" style="left:1426.3px;top:389.00px;font-size:10px;color:#000;transform:scaleX(0.9075);transform-origin:0 0;text-rendering:geometricPrecision;-webkit-text-stroke:0.25px #000">1.32160</div><div class="t" style="left:1426.3px;top:422.00px;font-size:10px;color:#000;transform:scaleX(0.9075);transform-origin:0 0;text-rendering:geometricPrecision;-webkit-text-stroke:0.25px #000">1.31730</div><div class="t" style="left:1426.3px;top:455.00px;font-size:10px;color:#000;transform:scaleX(0.9075);transform-origin:0 0;text-rendering:geometricPrecision;-webkit-text-stroke:0.25px #000">1.31300</div><div class="t" style="left:1426.3px;top:488.00px;font-size:10px;color:#000;transform:scaleX(0.9075);transform-origin:0 0;text-rendering:geometricPrecision;-webkit-text-stroke:0.25px #000">1.30870</div><div class="t" style="left:1426.3px;top:521.00px;font-size:10px;color:#000;transform:scaleX(0.9075);transform-origin:0 0;text-rendering:geometricPrecision;-webkit-text-stroke:0.25px #000">1.30440</div><div class="t" style="left:1426.3px;top:554.00px;font-size:10px;color:#000;transform:scaleX(0.9075);transform-origin:0 0;text-rendering:geometricPrecision;-webkit-text-stroke:0.25px #000">1.30010</div><div class="a" style="left:1422px;top:41px;width:41px;height:11px;background:#ff0000"></div><div class="t" style="left:1426.3px;top:43.00px;font-size:10px;color:#fff;transform:scaleX(0.9075);transform-origin:0 0;text-rendering:geometricPrecision;-webkit-text-stroke:0.25px #fff">1.36645</div><div class="a" style="left:1422px;top:150px;width:41px;height:11px;background:#ff0000"></div><div class="t" style="left:1426.3px;top:152.00px;font-size:10px;color:#fff;transform:scaleX(0.9075);transform-origin:0 0;text-rendering:geometricPrecision;-webkit-text-stroke:0.25px #fff">1.35237</div><div class="a" style="left:1422px;top:288px;width:41px;height:11px;background:#00ff00"></div><div class="t" style="left:1426.3px;top:290.00px;font-size:10px;color:#fff;transform:scaleX(0.9075);transform-origin:0 0;text-rendering:geometricPrecision;-webkit-text-stroke:0.25px #fff">1.33439</div><div class="a" style="left:1422px;top:308px;width:41px;height:11px;background:#000"></div><div class="t" style="left:1426.3px;top:310.00px;font-size:10px;color:#fff;transform:scaleX(0.9075);transform-origin:0 0;text-rendering:geometricPrecision;-webkit-text-stroke:0.25px #fff">1.33195</div><div class="a" style="left:1422px;top:413px;width:41px;height:11px;background:#0000ff"></div><div class="t" style="left:1426.3px;top:415.00px;font-size:10px;color:#fff;transform:scaleX(0.9075);transform-origin:0 0;text-rendering:geometricPrecision;-webkit-text-stroke:0.25px #fff">1.31806</div><div class="a" style="left:1422px;top:552px;width:41px;height:11px;background:#0000ff"></div><div class="t" style="left:1426.3px;top:554.00px;font-size:10px;color:#fff;transform:scaleX(0.9075);transform-origin:0 0;text-rendering:geometricPrecision;-webkit-text-stroke:0.25px #fff">1.30004</div><div class="t" style="left:1424.6px;top:566.00px;font-size:10px;color:#000;transform:scaleX(0.9075);transform-origin:0 0;text-rendering:geometricPrecision;-webkit-text-stroke:0.25px #000">0.010311</div><div class="t" style="left:1424.6px;top:614.00px;font-size:10px;color:#000;transform:scaleX(0.9075);transform-origin:0 0;text-rendering:geometricPrecision;-webkit-text-stroke:0.25px #000">0.00</div><div class="t" style="left:1424.6px;top:656.00px;font-size:10px;color:#000;transform:scaleX(0.9075);transform-origin:0 0;text-rendering:geometricPrecision;-webkit-text-stroke:0.25px #000">-0.009203</div><div class="t" style="left:1424.6px;top:672.00px;font-size:10px;color:#000;transform:scaleX(0.9075);transform-origin:0 0;text-rendering:geometricPrecision;-webkit-text-stroke:0.25px #000">100</div><div class="t" style="left:1424.6px;top:704.00px;font-size:10px;color:#000;transform:scaleX(0.9075);transform-origin:0 0;text-rendering:geometricPrecision;-webkit-text-stroke:0.25px #000">70</div><div class="t" style="left:1424.6px;top:755.00px;font-size:10px;color:#000;transform:scaleX(0.9075);transform-origin:0 0;text-rendering:geometricPrecision;-webkit-text-stroke:0.25px #000">30</div><div class="t" style="left:1424.6px;top:787.00px;font-size:10px;color:#000;transform:scaleX(0.9075);transform-origin:0 0;text-rendering:geometricPrecision;-webkit-text-stroke:0.25px #000">0</div><div class="t" style="left:4.4px;top:803.00px;font-size:10px;color:#000;transform:scaleX(0.937);transform-origin:0 0;text-rendering:geometricPrecision;-webkit-text-stroke:0.15px #000">14 Nov 2018</div><div class="t" style="left:68.4px;top:803.00px;font-size:10px;color:#000;transform:scaleX(0.937);transform-origin:0 0;text-rendering:geometricPrecision;-webkit-text-stroke:0.15px #000">3 Dec 2018</div><div class="t" style="left:132.4px;top:803.00px;font-size:10px;color:#000;transform:scaleX(0.937);transform-origin:0 0;text-rendering:geometricPrecision;-webkit-text-stroke:0.15px #000">21 Dec 2018</div><div class="t" style="left:196.4px;top:803.00px;font-size:10px;color:#000;transform:scaleX(0.937);transform-origin:0 0;text-rendering:geometricPrecision;-webkit-text-stroke:0.15px #000">9 Jan 2019</div><div class="t" style="left:260.4px;top:803.00px;font-size:10px;color:#000;transform:scaleX(0.937);transform-origin:0 0;text-rendering:geometricPrecision;-webkit-text-stroke:0.15px #000">28 Jan 2019</div><div class="t" style="left:324.4px;top:803.00px;font-size:10px;color:#000;transform:scaleX(0.937);transform-origin:0 0;text-rendering:geometricPrecision;-webkit-text-stroke:0.15px #000">15 Feb 2019</div><div class="t" style="left:388.4px;top:803.00px;font-size:10px;color:#000;transform:scaleX(0.937);transform-origin:0 0;text-rendering:geometricPrecision;-webkit-text-stroke:0.15px #000">6 Mar 2019</div><div class="t" style="left:452.4px;top:803.00px;font-size:10px;color:#000;transform:scaleX(0.937);transform-origin:0 0;text-rendering:geometricPrecision;-webkit-text-stroke:0.15px #000">25 Mar 2019</div><div class="t" style="left:516.4px;top:803.00px;font-size:10px;color:#000;transform:scaleX(0.937);transform-origin:0 0;text-rendering:geometricPrecision;-webkit-text-stroke:0.15px #000">12 Apr 2019</div><div class="t" style="left:580.4px;top:803.00px;font-size:10px;color:#000;transform:scaleX(0.937);transform-origin:0 0;text-rendering:geometricPrecision;-webkit-text-stroke:0.15px #000">2 May 2019</div><div class="t" style="left:644.4px;top:803.00px;font-size:10px;color:#000;transform:scaleX(0.937);transform-origin:0 0;text-rendering:geometricPrecision;-webkit-text-stroke:0.15px #000">21 May 2019</div><div class="t" style="left:708.4px;top:803.00px;font-size:10px;color:#000;transform:scaleX(0.937);transform-origin:0 0;text-rendering:geometricPrecision;-webkit-text-stroke:0.15px #000">9 Jun 2019</div><div class="t" style="left:772.4px;top:803.00px;font-size:10px;color:#000;transform:scaleX(0.937);transform-origin:0 0;text-rendering:geometricPrecision;-webkit-text-stroke:0.15px #000">27 Jun 2019</div><div class="t" style="left:836.4px;top:803.00px;font-size:10px;color:#000;transform:scaleX(0.937);transform-origin:0 0;text-rendering:geometricPrecision;-webkit-text-stroke:0.15px #000">16 Jul 2019</div><div class="t" style="left:900.4px;top:803.00px;font-size:10px;color:#000;transform:scaleX(0.937);transform-origin:0 0;text-rendering:geometricPrecision;-webkit-text-stroke:0.15px #000">4 Aug 2019</div><div class="t" style="left:964.4px;top:803.00px;font-size:10px;color:#000;transform:scaleX(0.937);transform-origin:0 0;text-rendering:geometricPrecision;-webkit-text-stroke:0.15px #000">22 Aug 2019</div><div class="t" style="left:1028.4px;top:803.00px;font-size:10px;color:#000;transform:scaleX(0.937);transform-origin:0 0;text-rendering:geometricPrecision;-webkit-text-stroke:0.15px #000">10 Sep 2019</div><div class="t" style="left:1092.4px;top:803.00px;font-size:10px;color:#000;transform:scaleX(0.937);transform-origin:0 0;text-rendering:geometricPrecision;-webkit-text-stroke:0.15px #000">29 Sep 2019</div><svg class="a" style="left:8px;top:27px" width="9" height="6"><polygon points="0,4.7 7.4,4.7 3.7,0.8" fill="#000"/></svg><div class="t" style="left:20.3px;top:26.00px;font-size:10px;color:#000;transform:scaleX(0.9665);transform-origin:0 0;text-rendering:geometricPrecision;-webkit-text-stroke:0.25px #000">USDCAD-,Daily</div><div class="t" style="left:95px;top:26.00px;font-size:10px;color:#000;transform:scaleX(0.9195);transform-origin:0 0;text-rendering:geometricPrecision;-webkit-text-stroke:0.25px #000">1.33203 1.33239 1.33166 1.33195</div><div class="t" style="left:9.4px;top:568.00px;font-size:10px;color:#000;transform:scaleX(0.93);transform-origin:0 0;text-rendering:geometricPrecision;-webkit-text-stroke:0.25px #000">MACD(12,26,9) 0.001887 0.001096</div><div class="t" style="left:9.4px;top:673.00px;font-size:10px;color:#000;transform:scaleX(0.9145);transform-origin:0 0;text-rendering:geometricPrecision;-webkit-text-stroke:0.25px #000">RSI(14) 57.5883</div>
<div class="a" style="left:5px;top:41px;width:224px;height:66px;background:#fff"></div>
<div class="a" style="left:4px;top:44px;width:2px;height:7px;background:#f00"></div>
<div class="a" style="left:8px;top:41px;width:52px;height:25px;background:linear-gradient(#f54d4d,#e33030);border:1px solid #c21818;box-sizing:border-box"></div>
<div class="a" style="left:176px;top:41px;width:51px;height:25px;background:linear-gradient(#f54d4d,#e33030);border:1px solid #c21818;box-sizing:border-box"></div>
<div class="a" style="left:8px;top:65px;width:109px;height:40px;background:linear-gradient(#e02c2c,#ab0000);border:1px solid #b01010;border-top:none;box-sizing:border-box"></div>
<div class="a" style="left:119px;top:65px;width:108px;height:40px;background:linear-gradient(#e02c2c,#ab0000);border:1px solid #b01010;border-top:none;box-sizing:border-box"></div>
<div class="a" style="left:62px;top:41px;width:111px;height:22px;background:#fff;border:1px solid #a4a9b3;box-sizing:border-box"></div>
<div class="a" style="left:63px;top:42px;width:20px;height:20px;background:linear-gradient(#f0f0f0,#cfcfcf);border:1px solid #c4c4c4;border-right:1px solid #a8a8a8;box-sizing:border-box"></div>
<div class="a" style="left:152px;top:42px;width:20px;height:20px;background:linear-gradient(#f0f0f0,#cfcfcf);border:1px solid #c4c4c4;border-left:1px solid #a8a8a8;box-sizing:border-box"></div>
<svg class="a" style="left:70px;top:49px" width="6" height="4"><polygon points="0,0.3 5.4,0.3 2.7,3.4" fill="#5a6cc4"/></svg>
<svg class="a" style="left:159px;top:49px" width="6" height="4"><polygon points="0,3.4 5.4,3.4 2.7,0.3" fill="#5a6cc4"/></svg>
<div class="t" style="left:124.3px;top:46px;font-size:12.5px;color:#111">1.00</div>
<div class="t" style="left:20px;top:46.5px;font-size:10.8px;color:#fff">SELL</div>
<div class="t" style="left:188px;top:46.5px;font-size:11.8px;color:#fff">BUY</div>
<div class="a" style="left:12px;top:64px;width:44px;height:1px;background:#a01010"></div>
<div class="a" style="left:12px;top:65px;width:44px;height:1px;background:#f07070"></div>
<div class="a" style="left:179px;top:64px;width:44px;height:1px;background:#a01010"></div>
<div class="a" style="left:179px;top:65px;width:44px;height:1px;background:#f07070"></div>
<div class="t" style="left:28.5px;top:84.3px;font-size:11.8px;font-weight:bold;color:#fff">1.33</div>
<div class="t" style="left:54.8px;top:67px;font-size:33px;color:#fff;letter-spacing:-0.6px">19</div>
<div class="t" style="left:95.5px;top:70.5px;font-size:12.5px;font-weight:bold;color:#fff">5</div>
<div class="t" style="left:138.5px;top:84.3px;font-size:11.8px;font-weight:bold;color:#fff">1.33</div>
<div class="t" style="left:165.5px;top:67px;font-size:33px;color:#fff;letter-spacing:-0.6px">22</div>
<div class="t" style="left:206px;top:70.5px;font-size:12.5px;font-weight:bold;color:#fff">0</div>

</body></html>
